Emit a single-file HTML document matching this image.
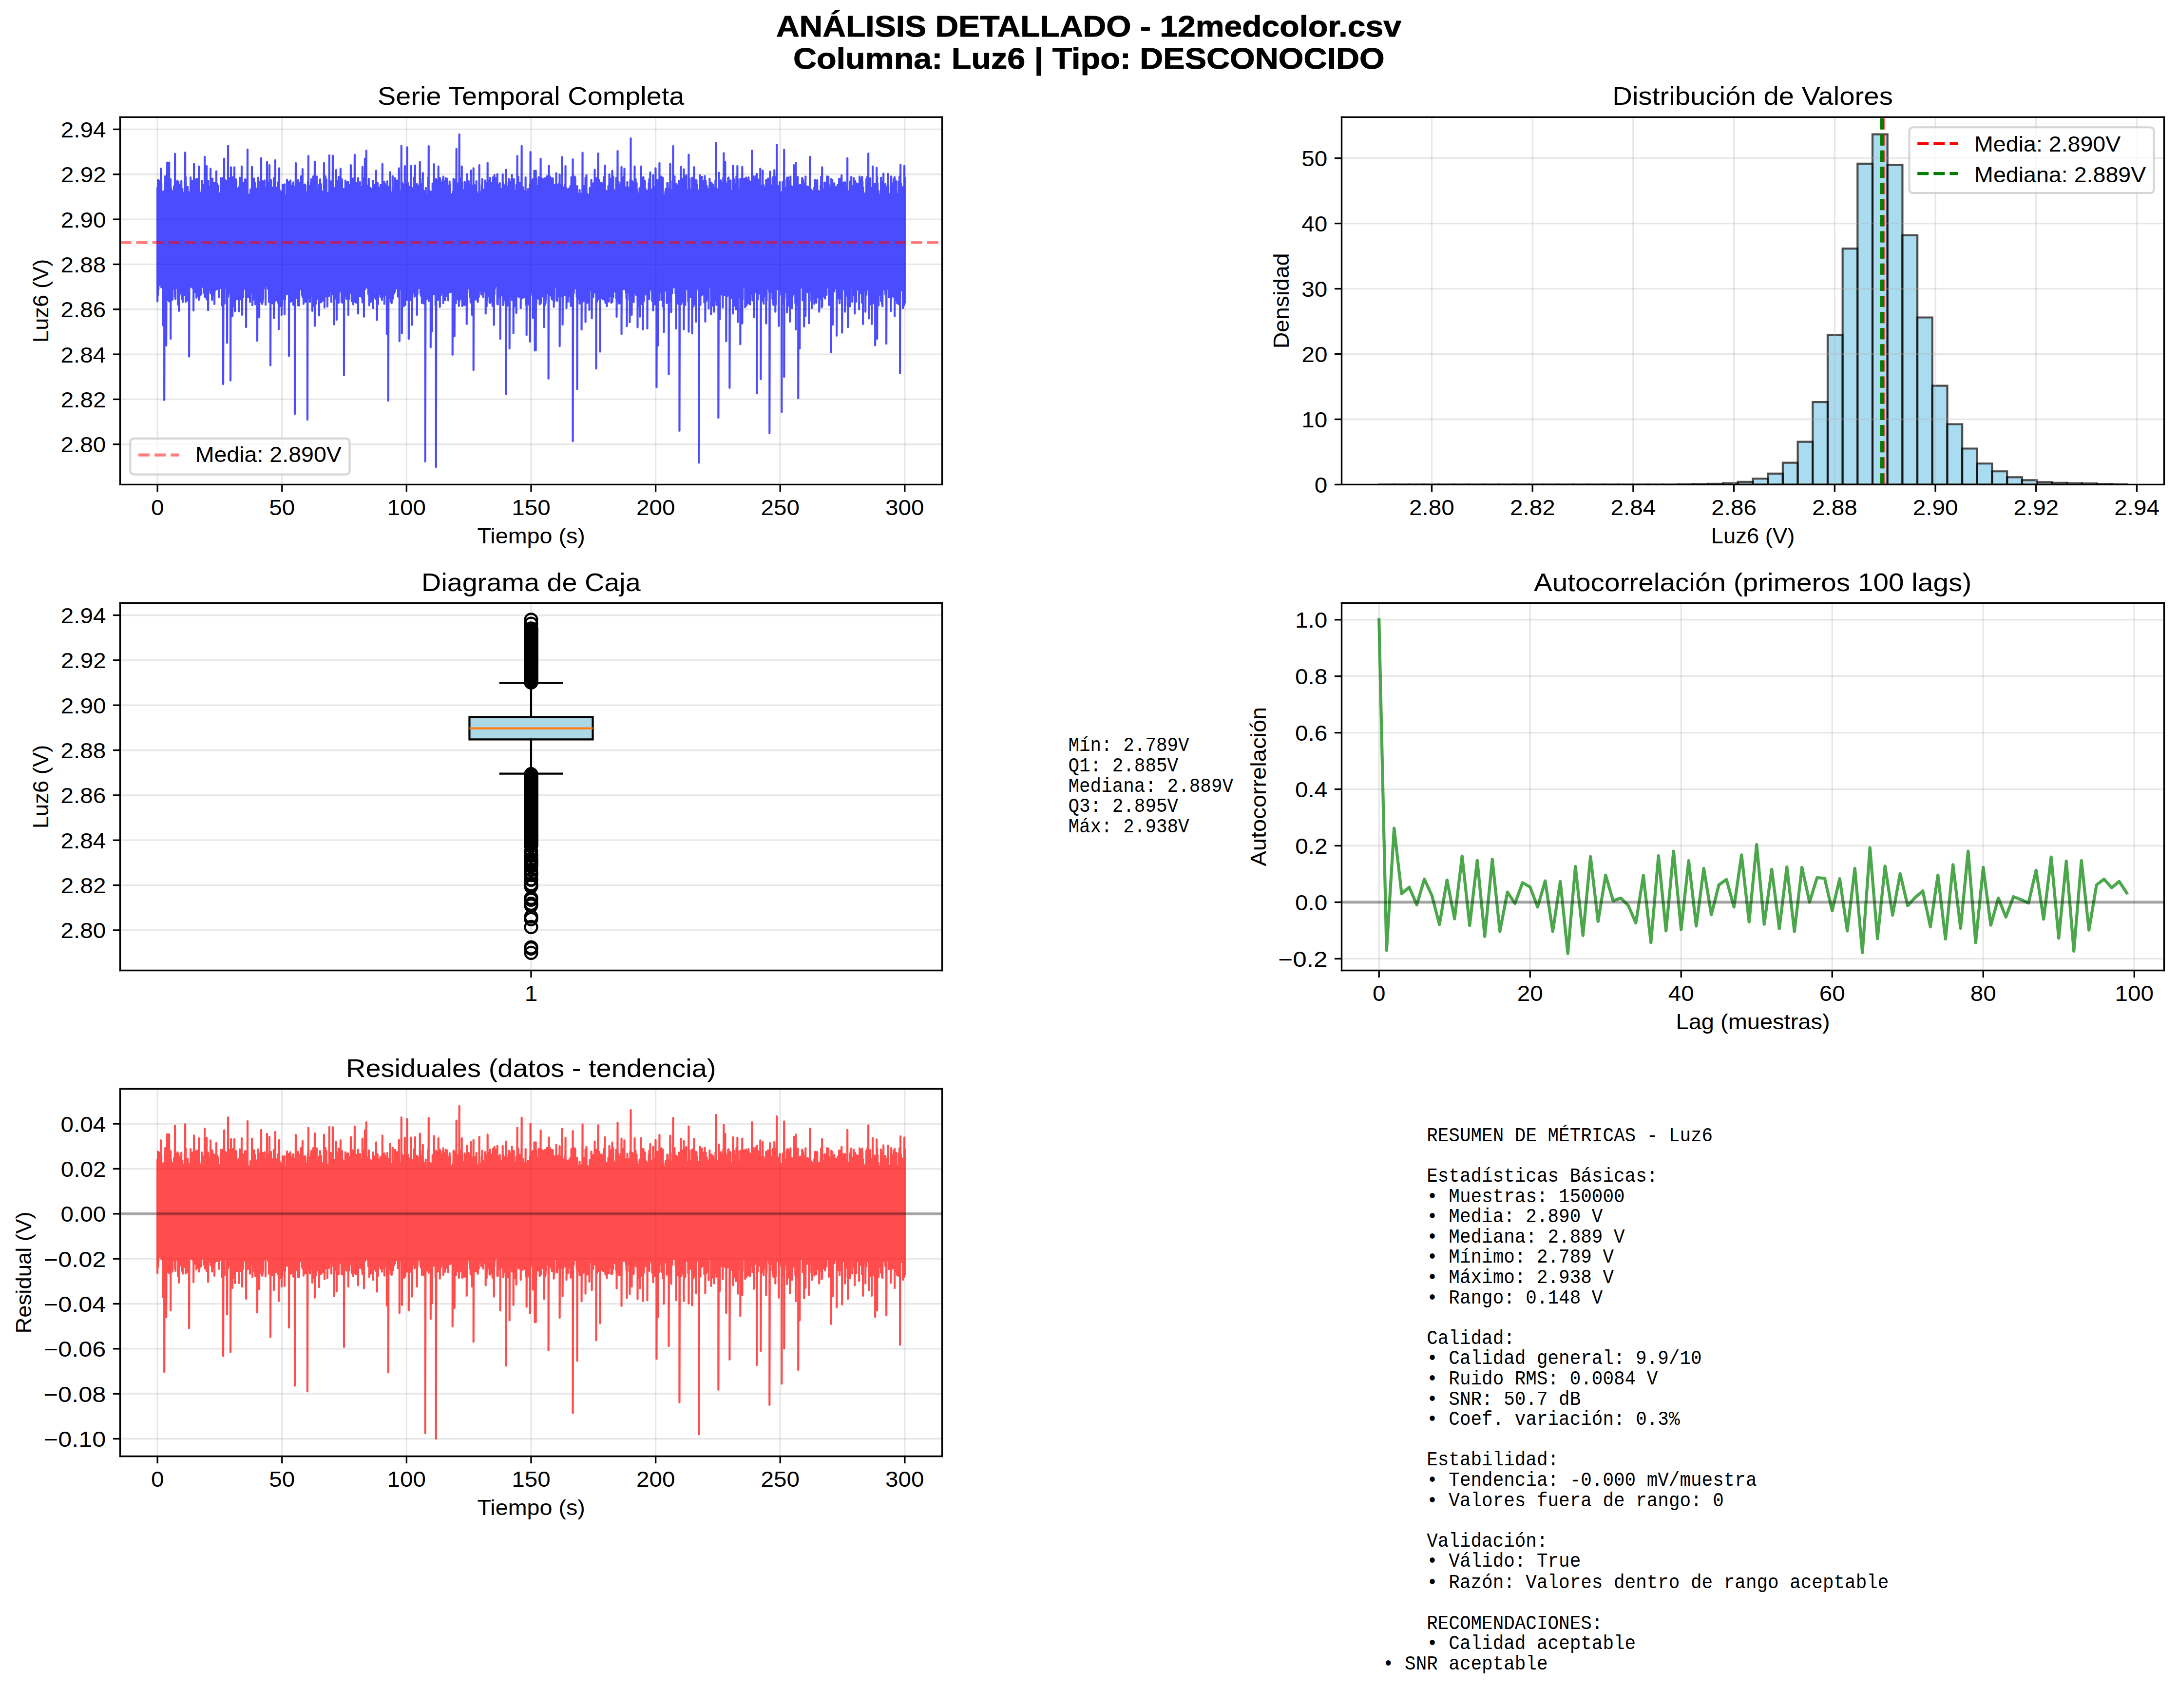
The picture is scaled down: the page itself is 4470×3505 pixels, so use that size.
<!DOCTYPE html>
<html><head><meta charset="utf-8"><title>Análisis detallado - 12medcolor.csv</title><style>html,body{margin:0;padding:0;background:#fff}svg{display:block}text.s{font-family:'Liberation Sans',sans-serif;font-size:43.75px}text.b{font-family:'Liberation Sans',sans-serif;font-weight:700;font-size:61.25px;stroke:#000;stroke-width:0.9px}text.m{font-family:'Liberation Mono',monospace;font-size:40.12px}</style></head><body>
<svg width="4470" height="3505" viewBox="0 0 1072.8 841.2">
<defs>
<style type="text/css">*{stroke-linejoin: round; stroke-linecap: butt}</style>
</defs>
<g id="figure_1">
<g id="patch_1">
<path d="M0 841.2L1072.8 841.2L1072.8 0L0 0z" style="fill: #ffffff"/>
</g>
<g id="axes_1">
<g id="patch_2">
<path d="M59.16 238.66L464.04 238.66L464.04 57.7L59.16 57.7z" style="fill: #ffffff"/>
</g>
<g id="matplotlib.axis_1">
<g id="xtick_1">
<g id="line2d_1">
<path d="M77.56 238.66L77.56 57.7" clip-path="url(#p51600fcce8)" style="fill: none; stroke: #b0b0b0; stroke-opacity: 0.3; stroke-width: 0.8; stroke-linecap: square"/>
</g>
<g id="line2d_2">
<defs>
<path id="m479de51f6e" d="M0 0L0 3.5" style="stroke: #000000; stroke-width: 0.8"/>
</defs>
<g>
<use href="#m479de51f6e" x="77.56" y="238.66" style="stroke: #000000; stroke-width: 0.8"/>
</g>
</g>
</g>
<g id="xtick_2">
<g id="line2d_3">
<path d="M138.91 238.66L138.91 57.7" clip-path="url(#p51600fcce8)" style="fill: none; stroke: #b0b0b0; stroke-opacity: 0.3; stroke-width: 0.8; stroke-linecap: square"/>
</g>
<g id="line2d_4">
<g>
<use href="#m479de51f6e" x="138.91" y="238.66" style="stroke: #000000; stroke-width: 0.8"/>
</g>
</g>
</g>
<g id="xtick_3">
<g id="line2d_5">
<path d="M200.25 238.66L200.25 57.7" clip-path="url(#p51600fcce8)" style="fill: none; stroke: #b0b0b0; stroke-opacity: 0.3; stroke-width: 0.8; stroke-linecap: square"/>
</g>
<g id="line2d_6">
<g>
<use href="#m479de51f6e" x="200.25" y="238.66" style="stroke: #000000; stroke-width: 0.8"/>
</g>
</g>
</g>
<g id="xtick_4">
<g id="line2d_7">
<path d="M261.6 238.66L261.6 57.7" clip-path="url(#p51600fcce8)" style="fill: none; stroke: #b0b0b0; stroke-opacity: 0.3; stroke-width: 0.8; stroke-linecap: square"/>
</g>
<g id="line2d_8">
<g>
<use href="#m479de51f6e" x="261.6" y="238.66" style="stroke: #000000; stroke-width: 0.8"/>
</g>
</g>
</g>
<g id="xtick_5">
<g id="line2d_9">
<path d="M322.95 238.66L322.95 57.7" clip-path="url(#p51600fcce8)" style="fill: none; stroke: #b0b0b0; stroke-opacity: 0.3; stroke-width: 0.8; stroke-linecap: square"/>
</g>
<g id="line2d_10">
<g>
<use href="#m479de51f6e" x="322.95" y="238.66" style="stroke: #000000; stroke-width: 0.8"/>
</g>
</g>
</g>
<g id="xtick_6">
<g id="line2d_11">
<path d="M384.29 238.66L384.29 57.7" clip-path="url(#p51600fcce8)" style="fill: none; stroke: #b0b0b0; stroke-opacity: 0.3; stroke-width: 0.8; stroke-linecap: square"/>
</g>
<g id="line2d_12">
<g>
<use href="#m479de51f6e" x="384.29" y="238.66" style="stroke: #000000; stroke-width: 0.8"/>
</g>
</g>
</g>
<g id="xtick_7">
<g id="line2d_13">
<path d="M445.64 238.66L445.64 57.7" clip-path="url(#p51600fcce8)" style="fill: none; stroke: #b0b0b0; stroke-opacity: 0.3; stroke-width: 0.8; stroke-linecap: square"/>
</g>
<g id="line2d_14">
<g>
<use href="#m479de51f6e" x="445.64" y="238.66" style="stroke: #000000; stroke-width: 0.8"/>
</g>
</g>
</g>
</g>
<g id="matplotlib.axis_2">
<g id="ytick_1">
<g id="line2d_15">
<path d="M59.16 218.82L464.04 218.82" clip-path="url(#p51600fcce8)" style="fill: none; stroke: #b0b0b0; stroke-opacity: 0.3; stroke-width: 0.8; stroke-linecap: square"/>
</g>
<g id="line2d_16">
<defs>
<path id="m1e12759360" d="M0 0L-3.5 0" style="stroke: #000000; stroke-width: 0.8"/>
</defs>
<g>
<use href="#m1e12759360" x="59.16" y="218.82" style="stroke: #000000; stroke-width: 0.8"/>
</g>
</g>
</g>
<g id="ytick_2">
<g id="line2d_17">
<path d="M59.16 196.66L464.04 196.66" clip-path="url(#p51600fcce8)" style="fill: none; stroke: #b0b0b0; stroke-opacity: 0.3; stroke-width: 0.8; stroke-linecap: square"/>
</g>
<g id="line2d_18">
<g>
<use href="#m1e12759360" x="59.16" y="196.66" style="stroke: #000000; stroke-width: 0.8"/>
</g>
</g>
</g>
<g id="ytick_3">
<g id="line2d_19">
<path d="M59.16 174.5L464.04 174.5" clip-path="url(#p51600fcce8)" style="fill: none; stroke: #b0b0b0; stroke-opacity: 0.3; stroke-width: 0.8; stroke-linecap: square"/>
</g>
<g id="line2d_20">
<g>
<use href="#m1e12759360" x="59.16" y="174.5" style="stroke: #000000; stroke-width: 0.8"/>
</g>
</g>
</g>
<g id="ytick_4">
<g id="line2d_21">
<path d="M59.16 152.34L464.04 152.34" clip-path="url(#p51600fcce8)" style="fill: none; stroke: #b0b0b0; stroke-opacity: 0.3; stroke-width: 0.8; stroke-linecap: square"/>
</g>
<g id="line2d_22">
<g>
<use href="#m1e12759360" x="59.16" y="152.34" style="stroke: #000000; stroke-width: 0.8"/>
</g>
</g>
</g>
<g id="ytick_5">
<g id="line2d_23">
<path d="M59.16 130.18L464.04 130.18" clip-path="url(#p51600fcce8)" style="fill: none; stroke: #b0b0b0; stroke-opacity: 0.3; stroke-width: 0.8; stroke-linecap: square"/>
</g>
<g id="line2d_24">
<g>
<use href="#m1e12759360" x="59.16" y="130.18" style="stroke: #000000; stroke-width: 0.8"/>
</g>
</g>
</g>
<g id="ytick_6">
<g id="line2d_25">
<path d="M59.16 108.02L464.04 108.02" clip-path="url(#p51600fcce8)" style="fill: none; stroke: #b0b0b0; stroke-opacity: 0.3; stroke-width: 0.8; stroke-linecap: square"/>
</g>
<g id="line2d_26">
<g>
<use href="#m1e12759360" x="59.16" y="108.02" style="stroke: #000000; stroke-width: 0.8"/>
</g>
</g>
</g>
<g id="ytick_7">
<g id="line2d_27">
<path d="M59.16 85.86L464.04 85.86" clip-path="url(#p51600fcce8)" style="fill: none; stroke: #b0b0b0; stroke-opacity: 0.3; stroke-width: 0.8; stroke-linecap: square"/>
</g>
<g id="line2d_28">
<g>
<use href="#m1e12759360" x="59.16" y="85.86" style="stroke: #000000; stroke-width: 0.8"/>
</g>
</g>
</g>
<g id="ytick_8">
<g id="line2d_29">
<path d="M59.16 63.7L464.04 63.7" clip-path="url(#p51600fcce8)" style="fill: none; stroke: #b0b0b0; stroke-opacity: 0.3; stroke-width: 0.8; stroke-linecap: square"/>
</g>
<g id="line2d_30">
<g>
<use href="#m1e12759360" x="59.16" y="63.7" style="stroke: #000000; stroke-width: 0.8"/>
</g>
</g>
</g>
</g>
<g id="series1">
<path d="M77.56 92.69L77.56 148.4L77.8 88.65L77.8 145.27L78.04 90.63L78.04 142.73L78.28 96L78.28 139.98L78.52 95.62L78.52 140.4L78.76 89.06L78.76 139.96L79 96.5L79 140.22L79.24 83.07L79.24 140.25L79.48 90.3L79.48 141.53L79.72 94.36L79.72 140.85L79.96 95.6L79.96 141.12L80.2 95.74L80.2 160.18L80.44 95.86L80.44 139.93L80.68 94.57L80.68 140.01L80.92 94.01L80.92 197.04L81.16 93.51L81.16 142.72L81.4 86.83L81.4 141.74L81.64 90.37L81.64 140.54L81.88 92.72L81.88 170.15L82.12 86.96L82.12 140.33L82.36 80.06L82.36 147.85L82.6 96.25L82.6 147.17L82.84 92.84L82.84 140.85L83.08 96.48L83.08 139.93L83.32 80.06L83.32 148.46L83.56 93.91L83.56 140.71L83.8 94.38L83.8 144.33L84.04 88.29L84.04 166.83L84.28 92.64L84.28 146.68L84.52 93.92L84.52 147.93L84.76 94.09L84.76 142.23L85 95.9L85 147.53L85.24 96.5L85.24 141.95L85.48 96.14L85.48 140.52L85.72 91.83L85.72 142.15L85.96 96.1L85.96 140.93L86.2 75.76L86.2 146.12L86.44 96.5L86.44 147.32L86.68 89.78L86.68 140.08L86.92 96.26L86.92 140.14L87.16 95.8L87.16 141.28L87.4 88.94L87.4 141.97L87.64 93.96L87.64 149.98L87.88 89.5L87.88 149.64L88.12 92.51L88.12 153.11L88.36 91.13L88.36 145.47L88.6 96.42L88.6 144.63L88.84 93.64L88.84 140.56L89.08 93.98L89.08 141.19L89.32 89.09L89.32 139.93L89.56 95.22L89.56 147.34L89.8 93.01L89.8 140.58L90.03 96.46L90.03 148.7L90.27 95.03L90.27 140.81L90.51 95.48L90.51 140.85L90.75 96.28L90.75 145.38L90.99 90L90.99 139.93L91.23 75.12L91.23 140.37L91.47 87.16L91.47 148.64L91.71 93.1L91.71 147.78L91.95 92.93L91.95 143.93L92.19 92.53L92.19 143.01L92.43 92.04L92.43 140.34L92.67 96.28L92.67 148.19L92.91 94.61L92.91 146L93.15 95.94L93.15 175.59L93.39 94.92L93.39 140.13L93.63 96.41L93.63 140.31L93.87 87.36L93.87 141.24L94.11 96.05L94.11 140.91L94.35 92.1L94.35 139.96L94.59 95.62L94.59 141.46L94.83 89.05L94.83 141.83L95.07 92.22L95.07 140.64L95.31 96.33L95.31 152.93L95.55 80.7L95.55 140.91L95.79 87.79L95.79 141.23L96.03 88.53L96.03 143.79L96.27 93.33L96.27 142.31L96.51 96.29L96.51 140.24L96.75 96.14L96.75 146.63L96.99 88.1L96.99 142.49L97.23 93.52L97.23 141.92L97.47 96.18L97.47 145.2L97.71 88.88L97.71 145.85L97.95 81.99L97.95 147.66L98.19 93.33L98.19 146.93L98.43 95.12L98.43 144.51L98.67 94.85L98.67 145.33L98.91 95.94L98.91 140.12L99.15 96.48L99.15 144.98L99.39 89.01L99.39 140.48L99.63 94.36L99.63 140.49L99.87 93.57L99.87 140.04L100.11 95.48L100.11 141.38L100.35 90.99L100.35 139.93L100.59 96.49L100.59 144.33L100.83 77.26L100.83 145.78L101.07 96.49L101.07 146.27L101.31 96.35L101.31 140.05L101.55 87.38L101.55 144.1L101.79 81.78L101.79 147.45L102.03 94.71L102.03 139.94L102.27 93.82L102.27 140.23L102.51 89.07L102.51 152.75L102.75 95.34L102.75 141.96L102.99 93.1L102.99 140.16L103.23 91.94L103.23 142.77L103.47 95.27L103.47 140.99L103.71 83.07L103.71 144.3L103.95 90.79L103.95 142.69L104.19 88.44L104.19 144.77L104.43 96.27L104.43 147.67L104.66 88L104.66 145.1L104.9 96.5L104.9 145.55L105.14 90.97L105.14 145.34L105.38 90.09L105.38 139.96L105.62 96.31L105.62 149.74L105.86 94.79L105.86 143.23L106.1 90.02L106.1 140.57L106.34 96.49L106.34 141.7L106.58 84.36L106.58 142.53L106.82 90.36L106.82 142.54L107.06 93.93L107.06 140.45L107.3 91.36L107.3 140.53L107.54 96L107.54 141.13L107.78 96.11L107.78 146.36L108.02 95.21L108.02 141.73L108.26 96.18L108.26 139.94L108.5 95.33L108.5 141.87L108.74 87.73L108.74 140.26L108.98 93.29L108.98 139.93L109.22 95.37L109.22 150.46L109.46 95.78L109.46 140.68L109.7 87.66L109.7 142.76L109.94 94.57L109.94 189.19L110.18 87.12L110.18 139.95L110.42 78.12L110.42 148.74L110.66 93.85L110.66 149.5L110.9 88.66L110.9 140.21L111.14 91.12L111.14 141.56L111.38 93.21L111.38 141.2L111.62 94.72L111.62 140.15L111.86 88.98L111.86 168.82L112.1 94.84L112.1 146.38L112.34 71.76L112.34 145.98L112.58 96.45L112.58 144.6L112.82 94.69L112.82 139.93L113.06 93.87L113.06 140.37L113.3 87.68L113.3 142.5L113.54 95.88L113.54 187.37L113.78 82.42L113.78 141.3L114.02 92.03L114.02 141.84L114.26 91.48L114.26 147.5L114.5 92.63L114.5 155.77L114.74 87.29L114.74 140.55L114.98 95.42L114.98 140.66L115.22 94.95L115.22 150.84L115.46 82.42L115.46 140.36L115.7 96.47L115.7 153.35L115.94 96.05L115.94 141.54L116.18 88.33L116.18 144.22L116.42 89.61L116.42 140.11L116.66 96.37L116.66 147.48L116.9 92.94L116.9 140.24L117.14 94.26L117.14 145.06L117.38 93.05L117.38 140.13L117.62 92.26L117.62 153.35L117.86 95.58L117.86 140.26L118.1 87.49L118.1 145.5L118.34 94.38L118.34 147.46L118.58 92.65L118.58 140.48L118.82 92.56L118.82 139.99L119.05 81.99L119.05 143.35L119.29 96.46L119.29 155.05L119.53 94.85L119.53 142.13L119.77 90.81L119.77 146.37L120.01 90.02L120.01 141.97L120.25 91.3L120.25 142.31L120.49 96.37L120.49 142.21L120.73 88.36L120.73 141.89L120.97 90.22L120.97 141.45L121.21 88.99L121.21 161.09L121.45 93.83L121.45 140.69L121.69 88.32L121.69 140.53L121.93 73.61L121.93 140.45L122.17 96.49L122.17 146.4L122.41 96.49L122.41 140.03L122.65 95.87L122.65 140.27L122.89 95.89L122.89 142.63L123.13 96.15L123.13 148.7L123.37 93.36L123.37 140.41L123.61 96.48L123.61 141.2L123.85 93.1L123.85 142.36L124.09 82.21L124.09 144.59L124.33 92.02L124.33 150.35L124.57 96.49L124.57 147.73L124.81 95.56L124.81 147.19L125.05 87.91L125.05 141.86L125.29 93.67L125.29 141.54L125.53 90.07L125.53 140.41L125.77 92.27L125.77 149.87L126.01 92.86L126.01 139.96L126.25 96.14L126.25 140.27L126.49 93.28L126.49 144.4L126.73 96.48L126.73 167.86L126.97 90.23L126.97 140.6L127.21 87.51L127.21 149.53L127.45 89.39L127.45 141.49L127.69 96.47L127.69 156.25L127.93 95.38L127.93 139.99L128.17 95.51L128.17 148.53L128.41 96.37L128.41 140.01L128.65 77.91L128.65 141.36L128.89 90.3L128.89 148.41L129.13 95.54L129.13 149.72L129.37 89.24L129.37 148.81L129.61 90.3L129.61 147.24L129.85 96.33L129.85 140.38L130.09 90.76L130.09 139.94L130.33 88.9L130.33 141.86L130.57 96.12L130.57 139.96L130.81 93.29L130.81 150.07L131.05 92.52L131.05 139.93L131.29 92.88L131.29 140.87L131.53 79.84L131.53 140.26L131.77 92.23L131.77 139.93L132.01 92.6L132.01 142.33L132.25 89.88L132.25 139.97L132.49 90.2L132.49 148.72L132.73 81.35L132.73 144.79L132.97 91.41L132.97 141.18L133.21 89.16L133.21 179.94L133.44 88.72L133.44 146.66L133.68 96.24L133.68 140.88L133.92 96.49L133.92 147.63L134.16 92.37L134.16 149.36L134.4 96.05L134.4 143.8L134.64 93.4L134.64 141.04L134.88 87.79L134.88 156.74L135.12 95.09L135.12 149.67L135.36 95.87L135.36 141.01L135.6 78.9L135.6 139.98L135.84 92.28L135.84 148.04L136.08 96.4L136.08 144.44L136.32 95.08L136.32 140.38L136.56 96.32L136.56 143.11L136.8 92.22L136.8 140.76L137.04 89.77L137.04 149.14L137.28 95.11L137.28 162.18L137.52 82.85L137.52 140.24L137.76 93.66L137.76 139.94L138 96.05L138 140.98L138.24 95.9L138.24 150.76L138.48 95.44L138.48 140.32L138.72 94.46L138.72 155.05L138.96 96.43L138.96 150.34L139.2 90.97L139.2 139.93L139.44 93.23L139.44 140.69L139.68 95.62L139.68 147.11L139.92 96.44L139.92 140L140.16 90.82L140.16 154.74L140.4 96.33L140.4 147.37L140.64 96.32L140.64 140.09L140.88 96.33L140.88 143.43L141.12 96.43L141.12 142.97L141.36 88.49L141.36 144.89L141.6 95.79L141.6 140.76L141.84 95.58L141.84 141.28L142.08 89.73L142.08 140.41L142.32 92.75L142.32 175.29L142.56 96.16L142.56 140.17L142.8 94.65L142.8 148.81L143.04 88.88L143.04 148.45L143.28 95.12L143.28 141.1L143.52 91.57L143.52 148.4L143.76 96.41L143.76 142.24L144 91.34L144 140.61L144.24 90.62L144.24 141.03L144.48 89.85L144.48 150.18L144.72 92.06L144.72 140.97L144.96 95.16L144.96 143.26L145.2 96.46L145.2 203.87L145.44 93.87L145.44 140.7L145.68 80.36L145.68 146.88L145.92 96.14L145.92 140.03L146.16 95.81L146.16 145.53L146.4 93.69L146.4 146.84L146.64 91.04L146.64 147.43L146.88 88.66L146.88 150.41L147.12 96.34L147.12 145.16L147.36 96.17L147.36 150.46L147.6 90.26L147.6 140.6L147.83 92.45L147.83 142.58L148.07 91.43L148.07 140.3L148.31 86.81L148.31 139.98L148.55 87.9L148.55 141.74L148.79 89.57L148.79 145.31L149.03 83.28L149.03 146.32L149.27 94.98L149.27 139.93L149.51 92.49L149.51 149.65L149.75 96.17L149.75 140.44L149.99 90.87L149.99 140.67L150.23 90.9L150.23 147.33L150.47 91.42L150.47 148.6L150.71 94.57L150.71 145.58L150.95 95.1L150.95 140.92L151.19 94.78L151.19 141.97L151.43 96.49L151.43 206.71L151.67 89.55L151.67 141.08L151.91 76.83L151.91 146.81L152.15 95.03L152.15 146.38L152.39 93.57L152.39 142.02L152.63 91.42L152.63 148.65L152.87 95.08L152.87 141.28L153.11 89.77L153.11 145.81L153.35 88.25L153.35 144.08L153.59 95.03L153.59 140.91L153.83 96.31L153.83 153.11L154.07 90.86L154.07 143.61L154.31 86.88L154.31 142.75L154.55 96.28L154.55 140.02L154.79 91.54L154.79 150.8L155.03 79.63L155.03 160.48L155.27 88.23L155.27 139.94L155.51 96.35L155.51 149.7L155.75 96.41L155.75 142.69L155.99 86.98L155.99 140.05L156.23 96.36L156.23 147.1L156.47 96.19L156.47 141.69L156.71 93.27L156.71 145.2L156.95 94.56L156.95 147.23L157.19 91.01L157.19 155.35L157.43 96.14L157.43 139.95L157.67 88.34L157.67 147.14L157.91 96.04L157.91 144.89L158.15 90.73L158.15 148.94L158.39 96.45L158.39 140.55L158.63 94.31L158.63 146.44L158.87 96.49L158.87 148.15L159.11 95.54L159.11 141.07L159.35 95.55L159.35 141.49L159.59 80.27L159.59 140.92L159.83 94.48L159.83 151.42L160.07 96.47L160.07 140.38L160.31 86.84L160.31 140.91L160.55 88.8L160.55 140.02L160.79 88.31L160.79 146.09L161.03 95.9L161.03 141.64L161.27 94.98L161.27 150.94L161.51 95.99L161.51 140.63L161.75 96.34L161.75 141.1L161.99 96.49L161.99 145.87L162.22 76.49L162.22 142.03L162.46 96.35L162.46 143.49L162.7 96.19L162.7 141.6L162.94 89.28L162.94 142.99L163.18 94.21L163.18 148.66L163.42 96.17L163.42 140.54L163.66 92.12L163.66 142.55L163.9 76.62L163.9 144.79L164.14 93.79L164.14 139.98L164.38 95.72L164.38 150.11L164.62 93.9L164.62 159.76L164.86 92.64L164.86 140.44L165.1 93.69L165.1 146L165.34 94.97L165.34 147.01L165.58 83.71L165.58 143.95L165.82 89.06L165.82 157.46L166.06 96.18L166.06 139.99L166.3 96.32L166.3 142.65L166.54 96.37L166.54 145.69L166.78 87.14L166.78 149.08L167.02 87.85L167.02 144.1L167.26 95.98L167.26 143.56L167.5 87.32L167.5 141.31L167.74 83.07L167.74 143.17L167.98 94L167.98 142.96L168.22 94.08L168.22 148.83L168.46 88.33L168.46 147.23L168.7 96.48L168.7 145.6L168.94 95.53L168.94 149.24L169.18 92.99L169.18 139.96L169.42 96.45L169.42 184.77L169.66 95.95L169.66 141.97L169.9 94.39L169.9 145.85L170.14 88.93L170.14 140.69L170.38 90.85L170.38 142.01L170.62 89.8L170.62 147.18L170.86 90.85L170.86 139.94L171.1 91.61L171.1 140.67L171.34 89.46L171.34 142.22L171.58 91.97L171.58 155.05L171.82 91.22L171.82 140.55L172.06 95.61L172.06 147.15L172.3 96.22L172.3 140.43L172.54 90.92L172.54 140.73L172.78 81.35L172.78 142.95L173.02 88.25L173.02 144.28L173.26 93.03L173.26 148.3L173.5 95.44L173.5 148.28L173.74 87.94L173.74 140.46L173.98 96.26L173.98 149.91L174.22 93.92L174.22 144.01L174.46 96.42L174.46 141.3L174.7 76.19L174.7 146.27L174.94 93.27L174.94 148.67L175.18 90.2L175.18 142.13L175.42 95.72L175.42 149.07L175.66 90.23L175.66 140.05L175.9 91.68L175.9 140.15L176.14 92.46L176.14 146.06L176.38 87.69L176.38 154.44L176.61 94.66L176.61 143.34L176.85 94.82L176.85 142.31L177.09 91.83L177.09 140.09L177.33 89.7L177.33 145.89L177.57 95.4L177.57 145.67L177.81 92.12L177.81 140.09L178.05 96.07L178.05 140.5L178.29 93.53L178.29 146.72L178.53 82.21L178.53 148.98L178.77 96.46L178.77 148.09L179.01 91.33L179.01 142.36L179.25 96.49L179.25 155.95L179.49 87.54L179.49 141.8L179.73 78.12L179.73 140.18L179.97 94.87L179.97 142.3L180.21 91.44L180.21 140.37L180.45 74.17L180.45 140.13L180.69 91.29L180.69 141.25L180.93 96.43L180.93 139.96L181.17 93.41L181.17 142.04L181.41 93.46L181.41 144.93L181.65 88.03L181.65 144.25L181.89 96.48L181.89 150.42L182.13 94.5L182.13 148.42L182.37 92.61L182.37 143.99L182.61 93.54L182.61 148.67L182.85 96.44L182.85 141.79L183.09 93.07L183.09 146.69L183.33 96.02L183.33 140.63L183.57 96.12L183.57 142.64L183.81 88.97L183.81 151.72L184.05 96.12L184.05 143.52L184.29 94.48L184.29 142.42L184.53 91.01L184.53 146.48L184.77 91.62L184.77 140.79L185.01 93.51L185.01 147.31L185.25 84.05L185.25 139.93L185.49 94.38L185.49 140.4L185.73 92.74L185.73 157.58L185.97 89.96L185.97 140.49L186.21 92.01L186.21 149.73L186.45 92.48L186.45 139.93L186.69 94.89L186.69 140.71L186.93 93.46L186.93 143.2L187.17 94.97L187.17 145.04L187.41 91.1L187.41 146.23L187.65 95.09L187.65 141.28L187.89 94.37L187.89 140.33L188.13 90.93L188.13 147.73L188.37 80.7L188.37 140.04L188.61 95.38L188.61 139.96L188.85 89.83L188.85 140.38L189.09 95.08L189.09 145.98L189.33 89.54L189.33 149.65L189.57 90.48L189.57 145.46L189.81 94.55L189.81 143.07L190.05 91.54L190.05 142.57L190.29 96.49L190.29 144.88L190.53 95.02L190.53 164.41L190.77 89.28L190.77 140.94L191 93.22L191 139.99L191.24 93.46L191.24 197.34L191.48 92.19L191.48 146.4L191.72 92.02L191.72 144L191.96 93.18L191.96 146.66L192.2 84.78L192.2 139.94L192.44 96.17L192.44 148.74L192.68 95.66L192.68 141.27L192.92 95.66L192.92 149.29L193.16 94.69L193.16 143.46L193.4 86.76L193.4 142.87L193.64 95.29L193.64 147.06L193.88 94.55L193.88 143.88L194.12 95.15L194.12 144.59L194.36 93.2L194.36 140.12L194.6 87.74L194.6 143.59L194.84 88.79L194.84 141.08L195.08 95.11L195.08 139.97L195.32 95.8L195.32 140.06L195.56 88.87L195.56 142.13L195.8 94.12L195.8 140.52L196.04 91.91L196.04 146.08L196.28 96.44L196.28 140.04L196.52 82.85L196.52 139.93L196.76 95.54L196.76 168.04L197 94.11L197 140.79L197.24 96.11L197.24 142.45L197.48 94.77L197.48 140.29L197.72 71.76L197.72 140.28L197.96 89.82L197.96 164.11L198.2 94.31L198.2 146.52L198.44 90.75L198.44 139.94L198.68 94.45L198.68 147.43L198.92 95.14L198.92 150.78L199.16 93.59L199.16 143.02L199.4 81.78L199.4 141.1L199.64 95.52L199.64 150.09L199.88 91.63L199.88 140.2L200.12 90.71L200.12 140.86L200.36 96.47L200.36 147.71L200.6 72.54L200.6 139.93L200.84 89.98L200.84 146.45L201.08 94.56L201.08 144.48L201.32 96.46L201.32 166.83L201.56 91.95L201.56 139.96L201.8 95.91L201.8 145.56L202.04 92.46L202.04 144.57L202.28 95.11L202.28 140.8L202.52 81.65L202.52 147.91L202.76 95.85L202.76 140.29L203 94.28L203 160L203.24 93.81L203.24 140.03L203.48 92.61L203.48 144.16L203.72 96.09L203.72 139.98L203.96 87.47L203.96 140.18L204.2 95.68L204.2 146.1L204.44 81.48L204.44 142.35L204.68 95.86L204.68 144.4L204.92 96.45L204.92 145.54L205.16 94.75L205.16 143.62L205.39 90.69L205.39 155.05L205.63 91.59L205.63 144.96L205.87 96.12L205.87 140.03L206.11 96.31L206.11 140.55L206.35 95.49L206.35 141.83L206.59 90.74L206.59 140.03L206.83 79.76L206.83 140.01L207.07 88.19L207.07 144.26L207.31 92.3L207.31 145.68L207.55 92.74L207.55 141.18L207.79 90.75L207.79 149.3L208.03 91.01L208.03 140.28L208.27 85.21L208.27 142.58L208.51 95.85L208.51 143.28L208.75 94.63L208.75 149.46L208.99 94.16L208.99 139.94L209.23 96.3L209.23 148.91L209.47 94.6L209.47 227.25L209.71 92.51L209.71 141.01L209.95 96.32L209.95 145.41L210.19 96.31L210.19 147.19L210.43 96.2L210.43 144.24L210.67 95.71L210.67 140.65L210.91 87.48L210.91 143.84L211.15 72.02L211.15 148.23L211.39 96.17L211.39 140.01L211.63 96.23L211.63 142.14L211.87 94.3L211.87 139.93L212.11 96.49L212.11 171.06L212.35 94.45L212.35 146.32L212.59 96.24L212.59 139.94L212.83 95.79L212.83 163.2L213.07 90.37L213.07 144.85L213.31 96.17L213.31 140.05L213.55 92.78L213.55 142.62L213.79 80.92L213.79 144.82L214.03 94.8L214.03 140.93L214.27 89.99L214.27 142.38L214.51 96.24L214.51 150.43L214.75 88.18L214.75 229.97L214.99 88.71L214.99 142.36L215.23 92.14L215.23 139.96L215.47 96.47L215.47 140.04L215.71 92.21L215.71 147.7L215.95 81.99L215.95 145.69L216.19 90.68L216.19 147.39L216.43 96.05L216.43 143.25L216.67 87.63L216.67 151.12L216.91 88.84L216.91 142.68L217.15 96.37L217.15 145.56L217.39 95.53L217.39 140.9L217.63 96.49L217.63 142.31L217.87 89.76L217.87 142.03L218.11 88.33L218.11 144.4L218.35 86.94L218.35 149.3L218.59 92.85L218.59 139.94L218.83 89.3L218.83 139.99L219.07 92.01L219.07 140.18L219.31 93.33L219.31 147.83L219.55 87.65L219.55 145.26L219.78 92.89L219.78 145.82L220.02 95.4L220.02 141.79L220.26 88.01L220.26 140.01L220.5 96.49L220.5 144.77L220.74 91.38L220.74 147.94L220.98 91.8L220.98 142.44L221.22 94.77L221.22 143.97L221.46 89.43L221.46 141.21L221.7 90.93L221.7 140.1L221.94 95.39L221.94 143.89L222.18 96.44L222.18 142.19L222.42 96.33L222.42 141L222.66 96.17L222.66 140.5L222.9 95.6L222.9 174.68L223.14 94.54L223.14 140.82L223.38 88.1L223.38 143.22L223.62 95.74L223.62 140.5L223.86 88.62L223.86 165.62L224.1 91.98L224.1 141.21L224.34 89.39L224.34 142.12L224.58 94.91L224.58 149.32L224.82 73.31L224.82 145.28L225.06 90.46L225.06 145.58L225.3 95.91L225.3 140.96L225.54 96.3L225.54 147.49L225.78 90.26L225.78 141.29L226.02 91.9L226.02 150.73L226.26 66.18L226.26 148.63L226.5 95.8L226.5 144.36L226.74 87.9L226.74 147.31L226.98 95.79L226.98 142.84L227.22 91.69L227.22 145.53L227.46 81.99L227.46 140.05L227.7 90.02L227.7 150.74L227.94 96.36L227.94 146.72L228.18 93.9L228.18 140.08L228.42 96.48L228.42 140.42L228.66 93.55L228.66 150.21L228.9 89.51L228.9 146.04L229.14 96.43L229.14 140.1L229.38 95.76L229.38 150.08L229.62 90.8L229.62 141L229.86 92.89L229.86 159.58L230.1 85.77L230.1 145.86L230.34 92.64L230.34 142.19L230.58 94.48L230.58 141.12L230.82 89.25L230.82 140L231.06 95.66L231.06 139.98L231.3 90.9L231.3 143.93L231.54 92.56L231.54 146.23L231.78 91.15L231.78 148.88L232.02 83.93L232.02 141.14L232.26 91.37L232.26 149.55L232.5 91.74L232.5 155.05L232.74 95.03L232.74 149.6L232.98 96.49L232.98 149.13L233.22 82.85L233.22 182.24L233.46 91.53L233.46 147.9L233.7 96.09L233.7 145.05L233.94 91.29L233.94 145.03L234.18 95.74L234.18 147.49L234.41 94.35L234.41 142.75L234.65 89.29L234.65 142.42L234.89 94.54L234.89 146.89L235.13 95.69L235.13 147.99L235.37 95.59L235.37 148.74L235.61 96.44L235.61 140.13L235.85 96.03L235.85 146.21L236.09 81.35L236.09 140.58L236.33 96.21L236.33 140.2L236.57 96.46L236.57 140.24L236.81 94.38L236.81 143.19L237.05 96.05L237.05 145.07L237.29 91.18L237.29 140.42L237.53 88.2L237.53 140L237.77 95.77L237.77 140.86L238.01 93.3L238.01 146.24L238.25 93.99L238.25 139.93L238.49 96.44L238.49 142.16L238.73 96.34L238.73 143.57L238.97 88.86L238.97 139.95L239.21 94.3L239.21 154.44L239.45 90.18L239.45 148.86L239.69 96.45L239.69 150.87L239.93 93.05L239.93 147.69L240.17 80.19L240.17 140.16L240.41 89.17L240.41 146.06L240.65 96.5L240.65 141.85L240.89 93.84L240.89 140.16L241.13 95.17L241.13 149L241.37 87.58L241.37 149.22L241.61 96.44L241.61 148.24L241.85 95.81L241.85 141.34L242.09 90.06L242.09 139.96L242.33 94.35L242.33 148.73L242.57 94.49L242.57 150.68L242.81 87.35L242.81 142.47L243.05 95.5L243.05 140.35L243.29 96.48L243.29 160L243.53 86.2L243.53 144.93L243.77 96.27L243.77 142.16L244.01 96.43L244.01 141.05L244.25 93.35L244.25 140.45L244.49 87.63L244.49 140.7L244.73 93.22L244.73 139.95L244.97 85.77L244.97 149.73L245.21 95.48L245.21 149.9L245.45 93.32L245.45 139.93L245.69 90.98L245.69 145.43L245.93 93.11L245.93 146.51L246.17 90.21L246.17 141.45L246.41 93.54L246.41 166.83L246.65 96.11L246.65 140.33L246.89 93.19L246.89 144.49L247.13 94.15L247.13 145.11L247.37 96.23L247.37 145.55L247.61 85.86L247.61 142.26L247.85 89.99L247.85 150.3L248.09 96.32L248.09 148.01L248.33 93.6L248.33 143.18L248.57 91.25L248.57 144.71L248.8 94.91L248.8 140.58L249.04 95.79L249.04 149.68L249.28 83.62L249.28 194.02L249.52 93.64L249.52 148.61L249.76 91.9L249.76 140.65L250 93.45L250 150.59L250.24 96.39L250.24 140.01L250.48 89.97L250.48 142.68L250.72 88.17L250.72 140.02L250.96 96.4L250.96 171.66L251.2 95.89L251.2 146.06L251.44 96.2L251.44 139.96L251.68 89.47L251.68 141.27L251.92 88.42L251.92 140.22L252.16 86.2L252.16 147.69L252.4 95.42L252.4 139.98L252.64 96.14L252.64 140.94L252.88 94.35L252.88 164.11L253.12 88.22L253.12 144.78L253.36 96.45L253.36 145.04L253.6 96.21L253.6 150.8L253.84 94.18L253.84 139.93L254.08 93.82L254.08 144.45L254.32 91.08L254.32 154.14L254.56 94.63L254.56 145.78L254.8 76.83L254.8 145.21L255.04 95.28L255.04 139.97L255.28 87.09L255.28 139.98L255.52 91L255.52 146.22L255.76 96.36L255.76 143.69L256 90.13L256 140.52L256.24 95.55L256.24 139.93L256.48 90.54L256.48 151.72L256.72 96.5L256.72 139.99L256.96 71.89L256.96 145.79L257.2 96.24L257.2 140.97L257.44 94.47L257.44 146.85L257.68 92.23L257.68 139.99L257.92 93.98L257.92 142.28L258.16 96.23L258.16 140L258.4 96.31L258.4 146.35L258.64 95.71L258.64 143.03L258.88 87.36L258.88 140.39L259.12 96.04L259.12 150.13L259.36 96.33L259.36 165.02L259.6 94.39L259.6 140.94L259.84 95.26L259.84 147.79L260.08 93.14L260.08 141.25L260.32 95.73L260.32 149.66L260.56 96.49L260.56 140.7L260.8 95.43L260.8 150.63L261.04 90.94L261.04 168.22L261.28 74.9L261.28 145.55L261.52 94.9L261.52 140.67L261.76 90.94L261.76 141.61L262 94.88L262 144.03L262.24 88.82L262.24 139.94L262.48 88.28L262.48 156.56L262.72 95.56L262.72 140.01L262.96 91.22L262.96 145.64L263.19 84.05L263.19 140.33L263.43 96.31L263.43 172.57L263.67 94.63L263.67 140.89L263.91 84.05L263.91 172.57L264.15 87.96L264.15 149.49L264.39 96.29L264.39 142.42L264.63 91.55L264.63 144.23L264.87 94.29L264.87 145.06L265.11 96.33L265.11 147.11L265.35 87.27L265.35 140.52L265.59 91.78L265.59 139.97L265.83 96.34L265.83 149.91L266.07 88.5L266.07 140.16L266.31 78.21L266.31 139.93L266.55 96.41L266.55 149.15L266.79 95.43L266.79 143.89L267.03 87.92L267.03 141.53L267.27 96.49L267.27 140.07L267.51 88.28L267.51 146.01L267.75 92.85L267.75 142.71L267.99 96.45L267.99 161.09L268.23 93.34L268.23 150.58L268.47 87.79L268.47 149.85L268.71 93.4L268.71 149.31L268.95 91.2L268.95 147.22L269.19 92.01L269.19 142.69L269.43 86.8L269.43 140.72L269.67 96.26L269.67 144.25L269.91 90.05L269.91 140.11L270.15 94.85L270.15 186.47L270.39 81.65L270.39 139.96L270.63 88.74L270.63 139.93L270.87 86.9L270.87 145.24L271.11 95.81L271.11 140.98L271.35 94.5L271.35 144.94L271.59 87.83L271.59 146.35L271.83 87.78L271.83 147.39L272.07 95.14L272.07 143.75L272.31 87.88L272.31 147.62L272.55 94.89L272.55 144.36L272.79 95.13L272.79 151.12L273.03 90.91L273.03 148.65L273.27 94.33L273.27 139.94L273.51 94.54L273.51 140.54L273.75 95.04L273.75 141.32L273.99 85.34L273.99 140.47L274.23 96.31L274.23 147.79L274.47 96.46L274.47 148.16L274.71 90.95L274.71 139.94L274.95 93.39L274.95 140.19L275.19 92.1L275.19 145.99L275.43 90.22L275.43 140.34L275.67 85.95L275.67 170.45L275.91 95.96L275.91 150.23L276.15 95.74L276.15 146.04L276.39 95.6L276.39 141.83L276.63 90.85L276.63 140.07L276.87 77.35L276.87 140.55L277.11 95.48L277.11 159.88L277.35 92.55L277.35 146.55L277.58 96.16L277.58 139.96L277.82 96.39L277.82 145.1L278.06 91.76L278.06 141.22L278.3 90.92L278.3 145.31L278.54 81.78L278.54 140.69L278.78 92.55L278.78 140.06L279.02 96.49L279.02 151.72L279.26 94.9L279.26 140.69L279.5 93.24L279.5 147.89L279.74 95.87L279.74 148.53L279.98 95.31L279.98 144.72L280.22 92.87L280.22 145.78L280.46 93.1L280.46 140.23L280.7 96.27L280.7 141.06L280.94 91.63L280.94 148.7L281.18 96.43L281.18 150.68L281.42 87.33L281.42 141.78L281.66 96.1L281.66 146.27L281.9 95.87L281.9 149.45L282.14 78.47L282.14 217.28L282.38 86.91L282.38 140.69L282.62 95.7L282.62 144.29L282.86 92.92L282.86 141.33L283.1 86.93L283.1 141.99L283.34 87.7L283.34 141.96L283.58 96.48L283.58 140.6L283.82 93.85L283.82 139.93L284.06 92.97L284.06 146.11L284.3 91.69L284.3 191.6L284.54 95.4L284.54 147.49L284.78 95.45L284.78 140.11L285.02 96.5L285.02 140.4L285.26 96.48L285.26 143.48L285.5 93.55L285.5 149.53L285.74 96.44L285.74 142.05L285.98 96.1L285.98 140.26L286.22 95.41L286.22 143.46L286.46 96.45L286.46 162.3L286.7 96.49L286.7 148.05L286.94 75.2L286.94 148.7L287.18 94.65L287.18 141.49L287.42 96.09L287.42 140.52L287.66 91.6L287.66 148.1L287.9 96.5L287.9 146.49L288.14 95.91L288.14 147.71L288.38 87.5L288.38 158.55L288.62 88.64L288.62 140.64L288.86 86.29L288.86 140.41L289.1 96.41L289.1 148.1L289.34 95.51L289.34 149.14L289.58 96.49L289.58 141.15L289.82 96.03L289.82 148.18L290.06 96.49L290.06 141.26L290.3 96.34L290.3 152.63L290.54 92.59L290.54 143.11L290.78 96.4L290.78 140.33L291.02 96.26L291.02 140.54L291.26 88.55L291.26 140.54L291.5 95.4L291.5 156.74L291.74 95.42L291.74 142.51L291.97 96.42L291.97 140L292.21 90.32L292.21 146.35L292.45 92.04L292.45 140.17L292.69 93.58L292.69 141.79L292.93 83.62L292.93 144.11L293.17 96.4L293.17 140.07L293.41 95.84L293.41 141.48L293.65 93.18L293.65 181.51L293.89 87.66L293.89 142.91L294.13 89.99L294.13 148.56L294.37 92.49L294.37 146.44L294.61 75.63L294.61 140.04L294.85 96.49L294.85 147.35L295.09 88.76L295.09 142.9L295.33 96.45L295.33 144.65L295.57 96.33L295.57 173.17L295.81 91.81L295.81 142.06L296.05 90.07L296.05 144.99L296.29 90.46L296.29 146.67L296.53 94.5L296.53 146.82L296.77 96.19L296.77 140.32L297.01 96.48L297.01 147.34L297.25 89.43L297.25 143.13L297.49 87.18L297.49 144.5L297.73 95.92L297.73 147.71L297.97 81.48L297.97 141.45L298.21 94.92L298.21 149.15L298.45 95.55L298.45 148.32L298.69 94.01L298.69 146.86L298.93 96.5L298.93 150.82L299.17 94.59L299.17 142.65L299.41 96.11L299.41 140.17L299.65 91.55L299.65 145.98L299.89 94.03L299.89 148.53L300.13 85.86L300.13 140.13L300.37 88.66L300.37 145.73L300.61 95.52L300.61 144.9L300.85 95.73L300.85 139.94L301.09 87.9L301.09 149.09L301.33 94.02L301.33 142.13L301.57 84.14L301.57 148.7L301.81 96.48L301.81 139.94L302.05 86.93L302.05 146.38L302.29 93.23L302.29 140.95L302.53 96.47L302.53 142.49L302.77 93.95L302.77 140.23L303.01 94.02L303.01 143.63L303.25 94.65L303.25 141.39L303.49 87.67L303.49 146.84L303.73 87.72L303.73 155.95L303.97 96.34L303.97 145.34L304.21 74.34L304.21 140.46L304.45 94.88L304.45 139.96L304.69 89.71L304.69 148.29L304.93 92.7L304.93 149.5L305.17 91.3L305.17 144.13L305.41 93.26L305.41 149.19L305.65 96.07L305.65 145.09L305.89 89.98L305.89 143.61L306.13 82.21L306.13 164.59L306.36 91.74L306.36 141.07L306.6 96.13L306.6 142.23L306.84 94.33L306.84 140.34L307.08 87.23L307.08 141.64L307.32 93.66L307.32 142.43L307.56 83.07L307.56 139.94L307.8 94.7L307.8 141.36L308.04 92.25L308.04 140.63L308.28 96.47L308.28 144L308.52 95.87L308.52 146.94L308.76 96.49L308.76 160.6L309 89.64L309 144.43L309.24 95.08L309.24 143.72L309.48 94.02L309.48 140.49L309.72 95.64L309.72 141.22L309.96 92.29L309.96 147.57L310.2 96.2L310.2 158.67L310.44 88.48L310.44 140.19L310.68 68.15L310.68 139.93L310.92 94.13L310.92 150.09L311.16 94.39L311.16 155.05L311.4 89.29L311.4 143.63L311.64 95.68L311.64 147.03L311.88 90.21L311.88 143.46L312.12 95.69L312.12 148.82L312.36 91.44L312.36 140.43L312.6 81.99L312.6 141.79L312.84 92.96L312.84 144.53L313.08 88.14L313.08 140.31L313.32 96.47L313.32 145.23L313.56 90.14L313.56 140.52L313.8 93.63L313.8 145.15L314.04 95.1L314.04 161.21L314.28 95.3L314.28 141.61L314.52 96.45L314.52 150.77L314.76 95.85L314.76 143.96L315 92.71L315 145.93L315.24 96.4L315.24 155.95L315.48 92.13L315.48 140.02L315.72 81.99L315.72 145.17L315.96 87.12L315.96 149.67L316.2 88.79L316.2 143.92L316.44 90.15L316.44 149L316.68 96.19L316.68 162.18L316.92 87.32L316.92 148.54L317.16 89.73L317.16 148.24L317.4 89.13L317.4 143.93L317.64 88.98L317.64 141.66L317.88 92.73L317.88 145.07L318.12 93.85L318.12 140.43L318.36 96.11L318.36 144.49L318.6 93.87L318.6 144.9L318.84 95.67L318.84 161.81L319.08 96.34L319.08 140.5L319.32 96.34L319.32 139.93L319.56 90.24L319.56 140.24L319.8 88.2L319.8 147.36L320.04 96.3L320.04 140.3L320.28 84.91L320.28 139.97L320.52 95.82L320.52 140.44L320.75 96.32L320.75 142.55L320.99 96.15L320.99 143.35L321.23 93.18L321.23 148.24L321.47 94.76L321.47 147.78L321.71 86.29L321.71 152.93L321.95 96.08L321.95 148.39L322.19 92.19L322.19 141.85L322.43 95.68L322.43 140.08L322.67 94.94L322.67 149.96L322.91 82.85L322.91 140.36L323.15 88.52L323.15 143.83L323.39 95.91L323.39 190.7L323.63 91.46L323.63 147.03L323.87 95.56L323.87 140.26L324.11 88.7L324.11 170.15L324.35 94.98L324.35 140.33L324.59 94.01L324.59 147.89L324.83 80.36L324.83 143.79L325.07 92.08L325.07 143.95L325.31 96.41L325.31 140.8L325.55 96.31L325.55 140.18L325.79 86.93L325.79 147.83L326.03 96.49L326.03 146.07L326.27 88.35L326.27 145.55L326.51 87.53L326.51 150.94L326.75 96.49L326.75 143.02L326.99 96.24L326.99 163.5L327.23 96.05L327.23 143.66L327.47 96.42L327.47 140.64L327.71 94.33L327.71 142.48L327.95 93.07L327.95 141.93L328.19 95.51L328.19 143.07L328.43 96.38L328.43 149.19L328.67 90.08L328.67 146.91L328.91 90.19L328.91 141.53L329.15 93.42L329.15 147.04L329.39 96.31L329.39 184.35L329.63 93.63L329.63 146.24L329.87 92.63L329.87 142.92L330.11 80.79L330.11 148.71L330.35 89.22L330.35 142.26L330.59 95.01L330.59 153.72L330.83 93.95L330.83 140.56L331.07 96.37L331.07 144.34L331.31 93.4L331.31 141.24L331.55 72.02L331.55 141.6L331.79 91.28L331.79 141.43L332.03 95.85L332.03 140.23L332.27 86.9L332.27 139.99L332.51 91.44L332.51 139.95L332.75 94.75L332.75 144.56L332.99 94.82L332.99 161.81L333.23 90.57L333.23 141.91L333.47 96.2L333.47 149.49L333.71 92.51L333.71 143.89L333.95 91.46L333.95 146.91L334.19 93.9L334.19 146.03L334.43 89.06L334.43 149.91L334.67 94.36L334.67 212.15L334.91 94.39L334.91 141.28L335.14 95.71L335.14 149.82L335.38 82.21L335.38 141.98L335.62 95.52L335.62 149.78L335.86 91.78L335.86 140.2L336.1 94.86L336.1 139.95L336.34 87.96L336.34 148.62L336.58 87.73L336.58 141.5L336.82 83.41L336.82 162.18L337.06 86.85L337.06 149.52L337.3 92.93L337.3 140.33L337.54 96.44L337.54 150.25L337.78 94.09L337.78 141.38L338.02 86.29L338.02 140.44L338.26 93.56L338.26 140.38L338.5 96.16L338.5 142.54L338.74 95.18L338.74 142.01L338.98 95.59L338.98 148.42L339.22 76.19L339.22 163.38L339.46 89.9L339.46 139.94L339.7 87.94L339.7 140.11L339.94 95.44L339.94 143.61L340.18 93.33L340.18 146.37L340.42 96.5L340.42 142.13L340.66 95.15L340.66 143.72L340.9 87.5L340.9 164.23L341.14 96.36L341.14 139.93L341.38 89.12L341.38 140.44L341.62 92.35L341.62 150.96L341.86 82.34L341.86 140.9L342.1 90.59L342.1 149.75L342.34 95.68L342.34 142.26L342.58 88.69L342.58 140.34L342.82 96.43L342.82 158.37L343.06 88.78L343.06 140.32L343.3 91.01L343.3 140.84L343.54 94.53L343.54 141.75L343.78 96.28L343.78 141.82L344.02 93.93L344.02 142.89L344.26 95.64L344.26 227.86L344.5 93.55L344.5 139.94L344.74 86.29L344.74 140.54L344.98 89.34L344.98 150.11L345.22 96.46L345.22 139.94L345.46 93.08L345.46 145.54L345.7 87.06L345.7 142.1L345.94 94.44L345.94 145.1L346.18 90.72L346.18 140.91L346.42 96.4L346.42 141.18L346.66 89.06L346.66 142.52L346.9 93.19L346.9 148.93L347.14 86.72L347.14 140.89L347.38 90.46L347.38 158.37L347.62 89.13L347.62 139.94L347.86 96.46L347.86 148.33L348.1 91.5L348.1 140.8L348.34 96.12L348.34 140.04L348.58 95.81L348.58 143.49L348.82 95.47L348.82 147.58L349.06 93.09L349.06 151.9L349.3 92.65L349.3 140.11L349.54 88.04L349.54 141.45L349.77 96.5L349.77 140.54L350.01 96.13L350.01 139.93L350.25 95.22L350.25 154.74L350.49 89.97L350.49 141.93L350.73 93.55L350.73 140.07L350.97 93.94L350.97 148.4L351.21 90.86L351.21 150.65L351.45 92.31L351.45 147.02L351.69 95.68L351.69 153.53L351.93 96.42L351.93 140.22L352.17 94.41L352.17 142.62L352.41 88.94L352.41 143.32L352.65 70.47L352.65 148.26L352.89 96.47L352.89 150.23L353.13 94.61L353.13 148.94L353.37 95.05L353.37 140.98L353.61 93.19L353.61 143.35L353.85 93.14L353.85 205.8L354.09 85.09L354.09 142.55L354.33 95.38L354.33 139.96L354.57 94.87L354.57 157.16L354.81 92.83L354.81 140.04L355.05 88.84L355.05 140.72L355.29 91.63L355.29 140.77L355.53 94.33L355.53 145.07L355.77 90.03L355.77 139.97L356.01 94.2L356.01 151.42L356.25 87.44L356.25 144.32L356.49 75.46L356.49 144.56L356.73 96.34L356.73 145.15L356.97 89.77L356.97 145.31L357.21 79.84L357.21 144.42L357.45 89.5L357.45 142.94L357.69 92.88L357.69 168.04L357.93 93.97L357.93 139.98L358.17 96.42L358.17 140.3L358.41 90.47L358.41 145.67L358.65 87.66L358.65 140.23L358.89 87.41L358.89 142.68L359.13 89L359.13 140.51L359.37 95.6L359.37 191L359.61 96.34L359.61 147.37L359.85 88.85L359.85 144.38L360.09 94.25L360.09 141.8L360.33 96.34L360.33 140.57L360.57 94.07L360.57 146.81L360.81 95.9L360.81 144.33L361.05 81.56L361.05 154.44L361.29 92.5L361.29 148.07L361.53 88.33L361.53 144.87L361.77 90.24L361.77 150.54L362.01 96.24L362.01 144.44L362.25 94.28L362.25 148.72L362.49 94.14L362.49 152.33L362.73 86.95L362.73 145.15L362.97 96.42L362.97 147.53L363.21 81.78L363.21 139.99L363.45 88.34L363.45 158.55L363.69 94.95L363.69 143.61L363.93 95.83L363.93 139.95L364.16 93.48L364.16 146.51L364.4 95.5L364.4 145.24L364.64 88.12L364.64 169.55L364.88 96.43L364.88 141.19L365.12 96.08L365.12 142.03L365.36 96.43L365.36 148.98L365.6 82.21L365.6 159.27L365.84 95.66L365.84 147.37L366.08 88.6L366.08 141.59L366.32 88.71L366.32 140.95L366.56 87.95L366.56 140.59L366.8 95.86L366.8 140.3L367.04 92.82L367.04 151.3L367.28 95.03L367.28 140.13L367.52 87.46L367.52 147.25L367.76 90.81L367.76 150.4L368 96.46L368 140L368.24 91.68L368.24 139.95L368.48 88.3L368.48 139.93L368.72 87.37L368.72 149.42L368.96 91.5L368.96 139.97L369.2 89.24L369.2 144.68L369.44 89.59L369.44 149.91L369.68 95.24L369.68 140.25L369.92 96.4L369.92 140.44L370.16 91.34L370.16 144.82L370.4 74.17L370.4 139.93L370.64 95.06L370.64 147.98L370.88 86.83L370.88 143.12L371.12 93.44L371.12 140.39L371.36 93.84L371.36 156.13L371.6 87.74L371.6 144.3L371.84 95.71L371.84 143.93L372.08 86.76L372.08 140.82L372.32 88.39L372.32 140.92L372.56 95.21L372.56 141.97L372.8 85.64L372.8 193.72L373.04 96.34L373.04 142.77L373.28 88.32L373.28 147.48L373.52 96.16L373.52 144.09L373.76 96.5L373.76 143.05L374 88.77L374 142.23L374.24 93.01L374.24 144.68L374.48 83.07L374.48 142.25L374.72 91.26L374.72 186.77L374.96 96.48L374.96 140.19L375.2 96.41L375.2 140.85L375.44 94.06L375.44 148.15L375.68 83.93L375.68 141.37L375.92 94.02L375.92 147.54L376.16 91.21L376.16 149.56L376.4 92.28L376.4 143.25L376.64 92.79L376.64 140L376.88 96.48L376.88 145.94L377.12 95.95L377.12 144.46L377.36 88.64L377.36 159.27L377.6 96.35L377.6 147.94L377.84 93.72L377.84 142.16L378.08 96.47L378.08 139.95L378.32 87.9L378.32 139.96L378.55 96.21L378.55 140.36L378.79 94.86L378.79 143.66L379.03 93.58L379.03 213.36L379.27 84.48L379.27 140L379.51 87.93L379.51 139.93L379.75 91.21L379.75 143.84L379.99 95.32L379.99 141.49L380.23 96.44L380.23 141.77L380.47 91.62L380.47 147.11L380.71 87.28L380.71 149.13L380.95 96.49L380.95 150.23L381.19 90.65L381.19 146.33L381.43 83.8L381.43 139.93L381.67 94.43L381.67 140.1L381.91 93.83L381.91 153.53L382.15 92.82L382.15 149.95L382.39 86.95L382.39 139.98L382.63 71.25L382.63 142.5L382.87 95L382.87 141.38L383.11 91.51L383.11 141.46L383.35 94.37L383.35 140.55L383.59 94.83L383.59 160.48L383.83 95.19L383.83 140.4L384.07 89.73L384.07 140.01L384.31 95.73L384.31 142.95L384.55 95.93L384.55 141.81L384.79 96.28L384.79 145.2L385.03 94.61L385.03 202.9L385.27 95.66L385.27 149.89L385.51 89.67L385.51 140.96L385.75 89.49L385.75 148.35L385.99 95.34L385.99 141.29L386.23 73.74L386.23 185.56L386.47 88.56L386.47 146.81L386.71 95.24L386.71 141.38L386.95 93.5L386.95 141.81L387.19 94.58L387.19 143.96L387.43 92.37L387.43 140.02L387.67 87.52L387.67 153.84L387.91 96.31L387.91 139.99L388.15 87.41L388.15 140.35L388.39 92.18L388.39 143.84L388.63 90.32L388.63 150.34L388.87 92.56L388.87 151L389.11 89.11L389.11 158.37L389.35 86.93L389.35 140.09L389.59 91.61L389.59 142.54L389.83 95.82L389.83 141.76L390.07 93.97L390.07 151.72L390.31 91.97L390.31 146.14L390.55 96.1L390.55 145.14L390.79 96.46L390.79 143.05L391.03 81.35L391.03 143.82L391.27 90.12L391.27 143.3L391.51 92.18L391.51 144.63L391.75 95.49L391.75 149.33L391.99 80.19L391.99 162.3L392.23 96.43L392.23 150.52L392.47 92.22L392.47 147.88L392.71 93.26L392.71 140.01L392.94 87.15L392.94 141.86L393.18 94.55L393.18 196.13L393.42 96L393.42 140.68L393.66 91.36L393.66 143.62L393.9 94.4L393.9 171.66L394.14 91.08L394.14 140.27L394.38 95.2L394.38 141.41L394.62 96.42L394.62 139.96L394.86 93.63L394.86 141.61L395.1 87.66L395.1 140.37L395.34 88.21L395.34 147.92L395.58 88.81L395.58 140.83L395.82 96.47L395.82 141.26L396.06 90.69L396.06 160.79L396.3 95.83L396.3 143.02L396.54 91.76L396.54 139.95L396.78 86.93L396.78 155.65L397.02 95.49L397.02 143.68L397.26 94.17L397.26 140.25L397.5 93.75L397.5 140.45L397.74 91.79L397.74 143.84L397.98 92.53L397.98 142.29L398.22 92.01L398.22 140.55L398.46 95.06L398.46 159.15L398.7 92.02L398.7 143.99L398.94 77.26L398.94 139.94L399.18 92.9L399.18 140.57L399.42 94.44L399.42 140.76L399.66 93.41L399.66 148.27L399.9 96.49L399.9 151.72L400.14 94.07L400.14 141.01L400.38 96.03L400.38 140.23L400.62 95.05L400.62 144.91L400.86 96.44L400.86 146.92L401.1 92.29L401.1 149.61L401.34 88.71L401.34 147.95L401.58 88.78L401.58 144.92L401.82 96.39L401.82 140.32L402.06 92.75L402.06 149.06L402.3 96.34L402.3 140.68L402.54 88.75L402.54 146.5L402.78 96.35L402.78 139.97L403.02 95.22L403.02 141.9L403.26 94.11L403.26 142.4L403.5 96.36L403.5 153.53L403.74 95.51L403.74 147.41L403.98 95.76L403.98 142.86L404.22 91.54L404.22 139.95L404.46 87.01L404.46 141.66L404.7 95.21L404.7 151.42L404.94 82.42L404.94 150.9L405.18 96.3L405.18 144.69L405.42 93.22L405.42 141.45L405.66 94.67L405.66 141.14L405.9 95.69L405.9 146.12L406.14 89.91L406.14 140L406.38 91.06L406.38 147.04L406.62 96.32L406.62 145.07L406.86 95.66L406.86 141.71L407.1 89.95L407.1 145.15L407.33 86.89L407.33 141.39L407.57 87.58L407.57 140.09L407.81 89.09L407.81 141.55L408.05 87.05L408.05 139.95L408.29 91.15L408.29 150.21L408.53 92.44L408.53 141.74L408.77 96.02L408.77 147.19L409.01 95.16L409.01 140.27L409.25 92.71L409.25 173.48L409.49 88.13L409.49 150.51L409.73 95.61L409.73 147.24L409.97 88.65L409.97 148.76L410.21 96.49L410.21 159.88L410.45 91.76L410.45 143.39L410.69 94.58L410.69 143.3L410.93 90.29L410.93 143.55L411.17 95.96L411.17 141.99L411.41 92.25L411.41 141.11L411.65 92.08L411.65 140.41L411.89 94.39L411.89 139.96L412.13 96.15L412.13 165.32L412.37 94.91L412.37 146.16L412.61 91.08L412.61 142.94L412.85 96.15L412.85 140.14L413.09 96.42L413.09 146.98L413.33 88.01L413.33 139.94L413.57 95.96L413.57 149.4L413.81 90.25L413.81 144.25L414.05 89.98L414.05 142.98L414.29 87.78L414.29 141.51L414.53 86.29L414.53 147.19L414.77 92.41L414.77 163.81L415.01 96.16L415.01 139.93L415.25 89.89L415.25 142.56L415.49 91.33L415.49 140.7L415.73 91.06L415.73 141.42L415.97 91.75L415.97 142.75L416.21 89.78L416.21 153.53L416.45 95.63L416.45 150.6L416.69 92.09L416.69 144.64L416.93 93.89L416.93 140L417.17 95.38L417.17 145.62L417.41 77.91L417.41 142.71L417.65 96.26L417.65 161.09L417.89 94.14L417.89 145.61L418.13 95.17L418.13 150.8L418.37 94.76L418.37 140.03L418.61 89.42L418.61 150.92L418.85 91.97L418.85 142.1L419.09 91.98L419.09 140.26L419.33 87.05L419.33 141.2L419.57 96.03L419.57 141.13L419.81 93.98L419.81 148.62L420.05 96.41L420.05 142.61L420.29 91.53L420.29 139.96L420.53 87.69L420.53 145.23L420.77 96.42L420.77 142.32L421.01 90.9L421.01 154.44L421.25 89.19L421.25 139.94L421.49 93.97L421.49 147.99L421.72 90.29L421.72 148.57L421.96 94.6L421.96 139.93L422.2 95.28L422.2 142.11L422.44 90.59L422.44 140.04L422.68 96.13L422.68 142.67L422.92 95.58L422.92 139.99L423.16 95.59L423.16 152.33L423.4 86.97L423.4 140.2L423.64 95.4L423.64 144.5L423.88 95.99L423.88 144.28L424.12 87.89L424.12 140.84L424.36 96.31L424.36 140.31L424.6 87.15L424.6 149.05L424.84 89.4L424.84 139.94L425.08 92.41L425.08 159.58L425.32 94.71L425.32 140.88L425.56 96.12L425.56 143.33L425.8 96.39L425.8 141.17L426.04 96.39L426.04 140.02L426.28 95.31L426.28 153.53L426.52 94.88L426.52 145.38L426.76 88.18L426.76 145.06L427 93.69L427 142.23L427.24 86.93L427.24 140.76L427.48 91.43L427.48 139.93L427.72 75.63L427.72 142.7L427.96 93.51L427.96 156.86L428.2 96.25L428.2 141.76L428.44 96.48L428.44 150.04L428.68 87.81L428.68 140.26L428.92 95.38L428.92 146.98L429.16 96.15L429.16 145.29L429.4 96.4L429.4 159.58L429.64 92.35L429.64 149.26L429.88 81.99L429.88 140.4L430.12 96.5L430.12 149.19L430.36 91.51L430.36 141.43L430.6 95.85L430.6 144.66L430.84 90.56L430.84 149.9L431.08 94.17L431.08 170.03L431.32 93.7L431.32 143.31L431.56 94.46L431.56 139.96L431.8 82.64L431.8 143.49L432.04 86.94L432.04 166.83L432.28 90.29L432.28 141.31L432.52 96.45L432.52 141.23L432.76 94.11L432.76 150.37L433 95.96L433 144.05L433.24 96.39L433.24 145.39L433.48 96.13L433.48 140.16L433.72 95.9L433.72 140.74L433.96 87.52L433.96 148.24L434.2 91.09L434.2 140.04L434.44 89.4L434.44 149.9L434.68 91.74L434.68 150.82L434.92 95.53L434.92 141.33L435.16 85.52L435.16 142.5L435.4 94.6L435.4 141.78L435.64 95.66L435.64 142.04L435.88 94.77L435.88 141.61L436.11 90.7L436.11 145.02L436.35 96.44L436.35 140.59L436.59 95.75L436.59 169.25L436.83 94.26L436.83 141.7L437.07 92.04L437.07 139.98L437.31 85.64L437.31 141.82L437.55 91.37L437.55 142.28L437.79 96.39L437.79 146.42L438.03 96.18L438.03 140.02L438.27 95.57L438.27 141.38L438.51 95.72L438.51 146.36L438.75 90.93L438.75 153.23L438.99 86.88L438.99 147.41L439.23 91.95L439.23 145.28L439.47 96.49L439.47 139.94L439.71 95.63L439.71 141.29L439.95 90.21L439.95 146.1L440.19 88.17L440.19 142.63L440.43 93.05L440.43 144.57L440.67 87.23L440.67 155.77L440.91 95.27L440.91 144.6L441.15 92.58L441.15 142.86L441.39 89.21L441.39 147.6L441.63 95.36L441.63 141.66L441.87 96.14L441.87 149.3L442.11 96.5L442.11 140.57L442.35 96.31L442.35 143.46L442.59 89.43L442.59 149.79L442.83 92.69L442.83 143.63L443.07 86.93L443.07 140.62L443.31 96.45L443.31 183.75L443.55 81.05L443.55 141.41L443.79 90.32L443.79 140.36L444.03 92.23L444.03 142.94L444.27 96.45L444.27 140.99L444.51 94.93L444.51 140.02L444.75 92.53L444.75 151.72L444.99 91.88L444.99 144.85L445.23 94.51L445.23 150.35L445.47 81.65L445.47 140.07L445.64 87.4L445.64 148.95" clip-path="url(#p51600fcce8)" style="fill: none; stroke: #0000ff; stroke-opacity: 0.7; stroke-linecap: square"/>
</g>
<g id="line2d_31">
<path d="M59.16 119.43L464.04 119.43" clip-path="url(#p51600fcce8)" style="fill: none; stroke-dasharray: 5.55,2.4; stroke-dashoffset: 0; stroke: #ff0000; stroke-opacity: 0.5; stroke-width: 1.5"/>
</g>
<g id="patch_3">
<path d="M59.16 238.66L59.16 57.7" style="fill: none; stroke: #000000; stroke-width: 0.8; stroke-linejoin: miter; stroke-linecap: square"/>
</g>
<g id="patch_4">
<path d="M464.04 238.66L464.04 57.7" style="fill: none; stroke: #000000; stroke-width: 0.8; stroke-linejoin: miter; stroke-linecap: square"/>
</g>
<g id="patch_5">
<path d="M59.16 238.66L464.04 238.66" style="fill: none; stroke: #000000; stroke-width: 0.8; stroke-linejoin: miter; stroke-linecap: square"/>
</g>
<g id="patch_6">
<path d="M59.16 57.7L464.04 57.7" style="fill: none; stroke: #000000; stroke-width: 0.8; stroke-linejoin: miter; stroke-linecap: square"/>
</g>
<g id="legend_1">
<g id="patch_7">
<path d="M66.16 233.66L170.21 233.66 Q 172.21 233.66 172.21 231.66L172.21 217.98 Q 172.21 215.98 170.21 215.98L66.16 215.98 Q 64.16 215.98 64.16 217.98L64.16 231.66 Q 64.16 233.66 66.16 233.66z" style="fill: #ffffff; opacity: 0.8; stroke: #cccccc; stroke-linejoin: miter"/>
</g>
<g id="line2d_32">
<path d="M68.16 224.08L78.16 224.08L88.16 224.08" style="fill: none; stroke-dasharray: 5.55,2.4; stroke-dashoffset: 0; stroke: #ff0000; stroke-opacity: 0.5; stroke-width: 1.5"/>
</g>
</g>
</g>
<g id="axes_2">
<g id="patch_8">
<path d="M660.84 238.66L1065.96 238.66L1065.96 57.7L660.84 57.7z" style="fill: #ffffff"/>
</g>
<g id="patch_9">
<path d="M679.26 238.66L686.62 238.66L686.62 238.65L679.26 238.65z" clip-path="url(#p4031424f6c)" style="fill: #87ceeb; opacity: 0.7; stroke: #000000; stroke-linejoin: miter"/>
</g>
<g id="patch_10">
<path d="M686.62 238.66L693.99 238.66L693.99 238.65L686.62 238.65z" clip-path="url(#p4031424f6c)" style="fill: #87ceeb; opacity: 0.7; stroke: #000000; stroke-linejoin: miter"/>
</g>
<g id="patch_11">
<path d="M693.99 238.66L701.35 238.66L701.35 238.65L693.99 238.65z" clip-path="url(#p4031424f6c)" style="fill: #87ceeb; opacity: 0.7; stroke: #000000; stroke-linejoin: miter"/>
</g>
<g id="patch_12">
<path d="M701.35 238.66L708.72 238.66L708.72 238.65L701.35 238.65z" clip-path="url(#p4031424f6c)" style="fill: #87ceeb; opacity: 0.7; stroke: #000000; stroke-linejoin: miter"/>
</g>
<g id="patch_13">
<path d="M708.72 238.66L716.08 238.66L716.08 238.65L708.72 238.65z" clip-path="url(#p4031424f6c)" style="fill: #87ceeb; opacity: 0.7; stroke: #000000; stroke-linejoin: miter"/>
</g>
<g id="patch_14">
<path d="M716.08 238.66L723.45 238.66L723.45 238.65L716.08 238.65z" clip-path="url(#p4031424f6c)" style="fill: #87ceeb; opacity: 0.7; stroke: #000000; stroke-linejoin: miter"/>
</g>
<g id="patch_15">
<path d="M723.45 238.66L730.82 238.66L730.82 238.65L723.45 238.65z" clip-path="url(#p4031424f6c)" style="fill: #87ceeb; opacity: 0.7; stroke: #000000; stroke-linejoin: miter"/>
</g>
<g id="patch_16">
<path d="M730.82 238.66L738.18 238.66L738.18 238.65L730.82 238.65z" clip-path="url(#p4031424f6c)" style="fill: #87ceeb; opacity: 0.7; stroke: #000000; stroke-linejoin: miter"/>
</g>
<g id="patch_17">
<path d="M738.18 238.66L745.55 238.66L745.55 238.65L738.18 238.65z" clip-path="url(#p4031424f6c)" style="fill: #87ceeb; opacity: 0.7; stroke: #000000; stroke-linejoin: miter"/>
</g>
<g id="patch_18">
<path d="M745.55 238.66L752.91 238.66L752.91 238.65L745.55 238.65z" clip-path="url(#p4031424f6c)" style="fill: #87ceeb; opacity: 0.7; stroke: #000000; stroke-linejoin: miter"/>
</g>
<g id="patch_19">
<path d="M752.91 238.66L760.28 238.66L760.28 238.65L752.91 238.65z" clip-path="url(#p4031424f6c)" style="fill: #87ceeb; opacity: 0.7; stroke: #000000; stroke-linejoin: miter"/>
</g>
<g id="patch_20">
<path d="M760.28 238.66L767.65 238.66L767.65 238.65L760.28 238.65z" clip-path="url(#p4031424f6c)" style="fill: #87ceeb; opacity: 0.7; stroke: #000000; stroke-linejoin: miter"/>
</g>
<g id="patch_21">
<path d="M767.65 238.66L775.01 238.66L775.01 238.65L767.65 238.65z" clip-path="url(#p4031424f6c)" style="fill: #87ceeb; opacity: 0.7; stroke: #000000; stroke-linejoin: miter"/>
</g>
<g id="patch_22">
<path d="M775.01 238.66L782.38 238.66L782.38 238.65L775.01 238.65z" clip-path="url(#p4031424f6c)" style="fill: #87ceeb; opacity: 0.7; stroke: #000000; stroke-linejoin: miter"/>
</g>
<g id="patch_23">
<path d="M782.38 238.66L789.74 238.66L789.74 238.65L782.38 238.65z" clip-path="url(#p4031424f6c)" style="fill: #87ceeb; opacity: 0.7; stroke: #000000; stroke-linejoin: miter"/>
</g>
<g id="patch_24">
<path d="M789.74 238.66L797.11 238.66L797.11 238.65L789.74 238.65z" clip-path="url(#p4031424f6c)" style="fill: #87ceeb; opacity: 0.7; stroke: #000000; stroke-linejoin: miter"/>
</g>
<g id="patch_25">
<path d="M797.11 238.66L804.47 238.66L804.47 238.65L797.11 238.65z" clip-path="url(#p4031424f6c)" style="fill: #87ceeb; opacity: 0.7; stroke: #000000; stroke-linejoin: miter"/>
</g>
<g id="patch_26">
<path d="M804.47 238.66L811.84 238.66L811.84 238.65L804.47 238.65z" clip-path="url(#p4031424f6c)" style="fill: #87ceeb; opacity: 0.7; stroke: #000000; stroke-linejoin: miter"/>
</g>
<g id="patch_27">
<path d="M811.84 238.66L819.21 238.66L819.21 238.65L811.84 238.65z" clip-path="url(#p4031424f6c)" style="fill: #87ceeb; opacity: 0.7; stroke: #000000; stroke-linejoin: miter"/>
</g>
<g id="patch_28">
<path d="M819.21 238.66L826.57 238.66L826.57 238.65L819.21 238.65z" clip-path="url(#p4031424f6c)" style="fill: #87ceeb; opacity: 0.7; stroke: #000000; stroke-linejoin: miter"/>
</g>
<g id="patch_29">
<path d="M826.57 238.66L833.94 238.66L833.94 238.5L826.57 238.5z" clip-path="url(#p4031424f6c)" style="fill: #87ceeb; opacity: 0.7; stroke: #000000; stroke-linejoin: miter"/>
</g>
<g id="patch_30">
<path d="M833.94 238.66L841.3 238.66L841.3 238.4L833.94 238.4z" clip-path="url(#p4031424f6c)" style="fill: #87ceeb; opacity: 0.7; stroke: #000000; stroke-linejoin: miter"/>
</g>
<g id="patch_31">
<path d="M841.3 238.66L848.67 238.66L848.67 238.27L841.3 238.27z" clip-path="url(#p4031424f6c)" style="fill: #87ceeb; opacity: 0.7; stroke: #000000; stroke-linejoin: miter"/>
</g>
<g id="patch_32">
<path d="M848.67 238.66L856.04 238.66L856.04 237.95L848.67 237.95z" clip-path="url(#p4031424f6c)" style="fill: #87ceeb; opacity: 0.7; stroke: #000000; stroke-linejoin: miter"/>
</g>
<g id="patch_33">
<path d="M856.04 238.66L863.4 238.66L863.4 237.34L856.04 237.34z" clip-path="url(#p4031424f6c)" style="fill: #87ceeb; opacity: 0.7; stroke: #000000; stroke-linejoin: miter"/>
</g>
<g id="patch_34">
<path d="M863.4 238.66L870.77 238.66L870.77 235.73L863.4 235.73z" clip-path="url(#p4031424f6c)" style="fill: #87ceeb; opacity: 0.7; stroke: #000000; stroke-linejoin: miter"/>
</g>
<g id="patch_35">
<path d="M870.77 238.66L878.13 238.66L878.13 233.26L870.77 233.26z" clip-path="url(#p4031424f6c)" style="fill: #87ceeb; opacity: 0.7; stroke: #000000; stroke-linejoin: miter"/>
</g>
<g id="patch_36">
<path d="M878.13 238.66L885.5 238.66L885.5 227.92L878.13 227.92z" clip-path="url(#p4031424f6c)" style="fill: #87ceeb; opacity: 0.7; stroke: #000000; stroke-linejoin: miter"/>
</g>
<g id="patch_37">
<path d="M885.5 238.66L892.86 238.66L892.86 217.57L885.5 217.57z" clip-path="url(#p4031424f6c)" style="fill: #87ceeb; opacity: 0.7; stroke: #000000; stroke-linejoin: miter"/>
</g>
<g id="patch_38">
<path d="M892.86 238.66L900.23 238.66L900.23 198.02L892.86 198.02z" clip-path="url(#p4031424f6c)" style="fill: #87ceeb; opacity: 0.7; stroke: #000000; stroke-linejoin: miter"/>
</g>
<g id="patch_39">
<path d="M900.23 238.66L907.6 238.66L907.6 165.04L900.23 165.04z" clip-path="url(#p4031424f6c)" style="fill: #87ceeb; opacity: 0.7; stroke: #000000; stroke-linejoin: miter"/>
</g>
<g id="patch_40">
<path d="M907.6 238.66L914.96 238.66L914.96 122.44L907.6 122.44z" clip-path="url(#p4031424f6c)" style="fill: #87ceeb; opacity: 0.7; stroke: #000000; stroke-linejoin: miter"/>
</g>
<g id="patch_41">
<path d="M914.96 238.66L922.33 238.66L922.33 80.59L914.96 80.59z" clip-path="url(#p4031424f6c)" style="fill: #87ceeb; opacity: 0.7; stroke: #000000; stroke-linejoin: miter"/>
</g>
<g id="patch_42">
<path d="M922.33 238.66L929.69 238.66L929.69 66.15L922.33 66.15z" clip-path="url(#p4031424f6c)" style="fill: #87ceeb; opacity: 0.7; stroke: #000000; stroke-linejoin: miter"/>
</g>
<g id="patch_43">
<path d="M929.69 238.66L937.06 238.66L937.06 81.13L929.69 81.13z" clip-path="url(#p4031424f6c)" style="fill: #87ceeb; opacity: 0.7; stroke: #000000; stroke-linejoin: miter"/>
</g>
<g id="patch_44">
<path d="M937.06 238.66L944.43 238.66L944.43 115.85L937.06 115.85z" clip-path="url(#p4031424f6c)" style="fill: #87ceeb; opacity: 0.7; stroke: #000000; stroke-linejoin: miter"/>
</g>
<g id="patch_45">
<path d="M944.43 238.66L951.79 238.66L951.79 156.36L944.43 156.36z" clip-path="url(#p4031424f6c)" style="fill: #87ceeb; opacity: 0.7; stroke: #000000; stroke-linejoin: miter"/>
</g>
<g id="patch_46">
<path d="M951.79 238.66L959.16 238.66L959.16 189.98L951.79 189.98z" clip-path="url(#p4031424f6c)" style="fill: #87ceeb; opacity: 0.7; stroke: #000000; stroke-linejoin: miter"/>
</g>
<g id="patch_47">
<path d="M959.16 238.66L966.52 238.66L966.52 208.92L959.16 208.92z" clip-path="url(#p4031424f6c)" style="fill: #87ceeb; opacity: 0.7; stroke: #000000; stroke-linejoin: miter"/>
</g>
<g id="patch_48">
<path d="M966.52 238.66L973.89 238.66L973.89 220.91L966.52 220.91z" clip-path="url(#p4031424f6c)" style="fill: #87ceeb; opacity: 0.7; stroke: #000000; stroke-linejoin: miter"/>
</g>
<g id="patch_49">
<path d="M973.89 238.66L981.25 238.66L981.25 228.3L973.89 228.3z" clip-path="url(#p4031424f6c)" style="fill: #87ceeb; opacity: 0.7; stroke: #000000; stroke-linejoin: miter"/>
</g>
<g id="patch_50">
<path d="M981.25 238.66L988.62 238.66L988.62 232.13L981.25 232.13z" clip-path="url(#p4031424f6c)" style="fill: #87ceeb; opacity: 0.7; stroke: #000000; stroke-linejoin: miter"/>
</g>
<g id="patch_51">
<path d="M988.62 238.66L995.99 238.66L995.99 235.06L988.62 235.06z" clip-path="url(#p4031424f6c)" style="fill: #87ceeb; opacity: 0.7; stroke: #000000; stroke-linejoin: miter"/>
</g>
<g id="patch_52">
<path d="M995.99 238.66L1003.35 238.66L1003.35 236.47L995.99 236.47z" clip-path="url(#p4031424f6c)" style="fill: #87ceeb; opacity: 0.7; stroke: #000000; stroke-linejoin: miter"/>
</g>
<g id="patch_53">
<path d="M1003.35 238.66L1010.72 238.66L1010.72 237.43L1003.35 237.43z" clip-path="url(#p4031424f6c)" style="fill: #87ceeb; opacity: 0.7; stroke: #000000; stroke-linejoin: miter"/>
</g>
<g id="patch_54">
<path d="M1010.72 238.66L1018.08 238.66L1018.08 237.82L1010.72 237.82z" clip-path="url(#p4031424f6c)" style="fill: #87ceeb; opacity: 0.7; stroke: #000000; stroke-linejoin: miter"/>
</g>
<g id="patch_55">
<path d="M1018.08 238.66L1025.45 238.66L1025.45 237.98L1018.08 237.98z" clip-path="url(#p4031424f6c)" style="fill: #87ceeb; opacity: 0.7; stroke: #000000; stroke-linejoin: miter"/>
</g>
<g id="patch_56">
<path d="M1025.45 238.66L1032.82 238.66L1032.82 238.11L1025.45 238.11z" clip-path="url(#p4031424f6c)" style="fill: #87ceeb; opacity: 0.7; stroke: #000000; stroke-linejoin: miter"/>
</g>
<g id="patch_57">
<path d="M1032.82 238.66L1040.18 238.66L1040.18 238.33L1032.82 238.33z" clip-path="url(#p4031424f6c)" style="fill: #87ceeb; opacity: 0.7; stroke: #000000; stroke-linejoin: miter"/>
</g>
<g id="patch_58">
<path d="M1040.18 238.66L1047.55 238.66L1047.55 238.5L1040.18 238.5z" clip-path="url(#p4031424f6c)" style="fill: #87ceeb; opacity: 0.7; stroke: #000000; stroke-linejoin: miter"/>
</g>
<g id="matplotlib.axis_3">
<g id="xtick_8">
<g id="line2d_33">
<path d="M705.24 238.66L705.24 57.7" clip-path="url(#p4031424f6c)" style="fill: none; stroke: #b0b0b0; stroke-opacity: 0.3; stroke-width: 0.8; stroke-linecap: square"/>
</g>
<g id="line2d_34">
<g>
<use href="#m479de51f6e" x="705.24" y="238.66" style="stroke: #000000; stroke-width: 0.8"/>
</g>
</g>
</g>
<g id="xtick_9">
<g id="line2d_35">
<path d="M754.85 238.66L754.85 57.7" clip-path="url(#p4031424f6c)" style="fill: none; stroke: #b0b0b0; stroke-opacity: 0.3; stroke-width: 0.8; stroke-linecap: square"/>
</g>
<g id="line2d_36">
<g>
<use href="#m479de51f6e" x="754.85" y="238.66" style="stroke: #000000; stroke-width: 0.8"/>
</g>
</g>
</g>
<g id="xtick_10">
<g id="line2d_37">
<path d="M804.46 238.66L804.46 57.7" clip-path="url(#p4031424f6c)" style="fill: none; stroke: #b0b0b0; stroke-opacity: 0.3; stroke-width: 0.8; stroke-linecap: square"/>
</g>
<g id="line2d_38">
<g>
<use href="#m479de51f6e" x="804.46" y="238.66" style="stroke: #000000; stroke-width: 0.8"/>
</g>
</g>
</g>
<g id="xtick_11">
<g id="line2d_39">
<path d="M854.07 238.66L854.07 57.7" clip-path="url(#p4031424f6c)" style="fill: none; stroke: #b0b0b0; stroke-opacity: 0.3; stroke-width: 0.8; stroke-linecap: square"/>
</g>
<g id="line2d_40">
<g>
<use href="#m479de51f6e" x="854.07" y="238.66" style="stroke: #000000; stroke-width: 0.8"/>
</g>
</g>
</g>
<g id="xtick_12">
<g id="line2d_41">
<path d="M903.69 238.66L903.69 57.7" clip-path="url(#p4031424f6c)" style="fill: none; stroke: #b0b0b0; stroke-opacity: 0.3; stroke-width: 0.8; stroke-linecap: square"/>
</g>
<g id="line2d_42">
<g>
<use href="#m479de51f6e" x="903.69" y="238.66" style="stroke: #000000; stroke-width: 0.8"/>
</g>
</g>
</g>
<g id="xtick_13">
<g id="line2d_43">
<path d="M953.3 238.66L953.3 57.7" clip-path="url(#p4031424f6c)" style="fill: none; stroke: #b0b0b0; stroke-opacity: 0.3; stroke-width: 0.8; stroke-linecap: square"/>
</g>
<g id="line2d_44">
<g>
<use href="#m479de51f6e" x="953.3" y="238.66" style="stroke: #000000; stroke-width: 0.8"/>
</g>
</g>
</g>
<g id="xtick_14">
<g id="line2d_45">
<path d="M1002.91 238.66L1002.91 57.7" clip-path="url(#p4031424f6c)" style="fill: none; stroke: #b0b0b0; stroke-opacity: 0.3; stroke-width: 0.8; stroke-linecap: square"/>
</g>
<g id="line2d_46">
<g>
<use href="#m479de51f6e" x="1002.91" y="238.66" style="stroke: #000000; stroke-width: 0.8"/>
</g>
</g>
</g>
<g id="xtick_15">
<g id="line2d_47">
<path d="M1052.52 238.66L1052.52 57.7" clip-path="url(#p4031424f6c)" style="fill: none; stroke: #b0b0b0; stroke-opacity: 0.3; stroke-width: 0.8; stroke-linecap: square"/>
</g>
<g id="line2d_48">
<g>
<use href="#m479de51f6e" x="1052.52" y="238.66" style="stroke: #000000; stroke-width: 0.8"/>
</g>
</g>
</g>
</g>
<g id="matplotlib.axis_4">
<g id="ytick_9">
<g id="line2d_49">
<path d="M660.84 238.66L1065.96 238.66" clip-path="url(#p4031424f6c)" style="fill: none; stroke: #b0b0b0; stroke-opacity: 0.3; stroke-width: 0.8; stroke-linecap: square"/>
</g>
<g id="line2d_50">
<g>
<use href="#m1e12759360" x="660.84" y="238.66" style="stroke: #000000; stroke-width: 0.8"/>
</g>
</g>
</g>
<g id="ytick_10">
<g id="line2d_51">
<path d="M660.84 206.51L1065.96 206.51" clip-path="url(#p4031424f6c)" style="fill: none; stroke: #b0b0b0; stroke-opacity: 0.3; stroke-width: 0.8; stroke-linecap: square"/>
</g>
<g id="line2d_52">
<g>
<use href="#m1e12759360" x="660.84" y="206.51" style="stroke: #000000; stroke-width: 0.8"/>
</g>
</g>
</g>
<g id="ytick_11">
<g id="line2d_53">
<path d="M660.84 174.36L1065.96 174.36" clip-path="url(#p4031424f6c)" style="fill: none; stroke: #b0b0b0; stroke-opacity: 0.3; stroke-width: 0.8; stroke-linecap: square"/>
</g>
<g id="line2d_54">
<g>
<use href="#m1e12759360" x="660.84" y="174.36" style="stroke: #000000; stroke-width: 0.8"/>
</g>
</g>
</g>
<g id="ytick_12">
<g id="line2d_55">
<path d="M660.84 142.21L1065.96 142.21" clip-path="url(#p4031424f6c)" style="fill: none; stroke: #b0b0b0; stroke-opacity: 0.3; stroke-width: 0.8; stroke-linecap: square"/>
</g>
<g id="line2d_56">
<g>
<use href="#m1e12759360" x="660.84" y="142.21" style="stroke: #000000; stroke-width: 0.8"/>
</g>
</g>
</g>
<g id="ytick_13">
<g id="line2d_57">
<path d="M660.84 110.06L1065.96 110.06" clip-path="url(#p4031424f6c)" style="fill: none; stroke: #b0b0b0; stroke-opacity: 0.3; stroke-width: 0.8; stroke-linecap: square"/>
</g>
<g id="line2d_58">
<g>
<use href="#m1e12759360" x="660.84" y="110.06" style="stroke: #000000; stroke-width: 0.8"/>
</g>
</g>
</g>
<g id="ytick_14">
<g id="line2d_59">
<path d="M660.84 77.92L1065.96 77.92" clip-path="url(#p4031424f6c)" style="fill: none; stroke: #b0b0b0; stroke-opacity: 0.3; stroke-width: 0.8; stroke-linecap: square"/>
</g>
<g id="line2d_60">
<g>
<use href="#m1e12759360" x="660.84" y="77.92" style="stroke: #000000; stroke-width: 0.8"/>
</g>
</g>
</g>
</g>
<g id="line2d_61">
<path d="M927.5 238.66L927.5 57.7" clip-path="url(#p4031424f6c)" style="fill: none; stroke-dasharray: 5.55,2.4; stroke-dashoffset: 0; stroke: #ff0000; stroke-width: 1.5"/>
</g>
<g id="line2d_62">
<path d="M926.78 238.66L926.78 57.7" clip-path="url(#p4031424f6c)" style="fill: none; stroke-dasharray: 5.55,2.4; stroke-dashoffset: 0; stroke: #008000; stroke-width: 1.5"/>
</g>
<g id="patch_59">
<path d="M660.84 238.66L660.84 57.7" style="fill: none; stroke: #000000; stroke-width: 0.8; stroke-linejoin: miter; stroke-linecap: square"/>
</g>
<g id="patch_60">
<path d="M1065.96 238.66L1065.96 57.7" style="fill: none; stroke: #000000; stroke-width: 0.8; stroke-linejoin: miter; stroke-linecap: square"/>
</g>
<g id="patch_61">
<path d="M660.84 238.66L1065.96 238.66" style="fill: none; stroke: #000000; stroke-width: 0.8; stroke-linejoin: miter; stroke-linecap: square"/>
</g>
<g id="patch_62">
<path d="M660.84 57.7L1065.96 57.7" style="fill: none; stroke: #000000; stroke-width: 0.8; stroke-linejoin: miter; stroke-linecap: square"/>
</g>
<g id="legend_2">
<g id="patch_63">
<path d="M942.44 95.05L1058.96 95.05 Q 1060.96 95.05 1060.96 93.05L1060.96 64.7 Q 1060.96 62.7 1058.96 62.7L942.44 62.7 Q 940.44 62.7 940.44 64.7L940.44 93.05 Q 940.44 95.05 942.44 95.05z" style="fill: #ffffff; opacity: 0.8; stroke: #cccccc; stroke-linejoin: miter"/>
</g>
<g id="line2d_63">
<path d="M944.44 70.79L954.44 70.79L964.44 70.79" style="fill: none; stroke-dasharray: 5.55,2.4; stroke-dashoffset: 0; stroke: #ff0000; stroke-width: 1.5"/>
</g>
<g id="line2d_64">
<path d="M944.44 85.47L954.44 85.47L964.44 85.47" style="fill: none; stroke-dasharray: 5.55,2.4; stroke-dashoffset: 0; stroke: #008000; stroke-width: 1.5"/>
</g>
</g>
</g>
<g id="axes_3">
<g id="patch_64">
<path d="M59.16 477.96L464.04 477.96L464.04 297L59.16 297z" style="fill: #ffffff"/>
</g>
<g id="matplotlib.axis_5">
<g id="xtick_16">
<g id="line2d_65">
<path d="M261.6 477.96L261.6 297" clip-path="url(#p6686218dbd)" style="fill: none; stroke: #b0b0b0; stroke-opacity: 0.3; stroke-width: 0.8; stroke-linecap: square"/>
</g>
<g id="line2d_66">
<g>
<use href="#m479de51f6e" x="261.6" y="477.96" style="stroke: #000000; stroke-width: 0.8"/>
</g>
</g>
</g>
</g>
<g id="matplotlib.axis_6">
<g id="ytick_15">
<g id="line2d_67">
<path d="M59.16 458.13L464.04 458.13" clip-path="url(#p6686218dbd)" style="fill: none; stroke: #b0b0b0; stroke-opacity: 0.3; stroke-width: 0.8; stroke-linecap: square"/>
</g>
<g id="line2d_68">
<g>
<use href="#m1e12759360" x="59.16" y="458.13" style="stroke: #000000; stroke-width: 0.8"/>
</g>
</g>
</g>
<g id="ytick_16">
<g id="line2d_69">
<path d="M59.16 435.97L464.04 435.97" clip-path="url(#p6686218dbd)" style="fill: none; stroke: #b0b0b0; stroke-opacity: 0.3; stroke-width: 0.8; stroke-linecap: square"/>
</g>
<g id="line2d_70">
<g>
<use href="#m1e12759360" x="59.16" y="435.97" style="stroke: #000000; stroke-width: 0.8"/>
</g>
</g>
</g>
<g id="ytick_17">
<g id="line2d_71">
<path d="M59.16 413.81L464.04 413.81" clip-path="url(#p6686218dbd)" style="fill: none; stroke: #b0b0b0; stroke-opacity: 0.3; stroke-width: 0.8; stroke-linecap: square"/>
</g>
<g id="line2d_72">
<g>
<use href="#m1e12759360" x="59.16" y="413.81" style="stroke: #000000; stroke-width: 0.8"/>
</g>
</g>
</g>
<g id="ytick_18">
<g id="line2d_73">
<path d="M59.16 391.65L464.04 391.65" clip-path="url(#p6686218dbd)" style="fill: none; stroke: #b0b0b0; stroke-opacity: 0.3; stroke-width: 0.8; stroke-linecap: square"/>
</g>
<g id="line2d_74">
<g>
<use href="#m1e12759360" x="59.16" y="391.65" style="stroke: #000000; stroke-width: 0.8"/>
</g>
</g>
</g>
<g id="ytick_19">
<g id="line2d_75">
<path d="M59.16 369.49L464.04 369.49" clip-path="url(#p6686218dbd)" style="fill: none; stroke: #b0b0b0; stroke-opacity: 0.3; stroke-width: 0.8; stroke-linecap: square"/>
</g>
<g id="line2d_76">
<g>
<use href="#m1e12759360" x="59.16" y="369.49" style="stroke: #000000; stroke-width: 0.8"/>
</g>
</g>
</g>
<g id="ytick_20">
<g id="line2d_77">
<path d="M59.16 347.32L464.04 347.32" clip-path="url(#p6686218dbd)" style="fill: none; stroke: #b0b0b0; stroke-opacity: 0.3; stroke-width: 0.8; stroke-linecap: square"/>
</g>
<g id="line2d_78">
<g>
<use href="#m1e12759360" x="59.16" y="347.32" style="stroke: #000000; stroke-width: 0.8"/>
</g>
</g>
</g>
<g id="ytick_21">
<g id="line2d_79">
<path d="M59.16 325.16L464.04 325.16" clip-path="url(#p6686218dbd)" style="fill: none; stroke: #b0b0b0; stroke-opacity: 0.3; stroke-width: 0.8; stroke-linecap: square"/>
</g>
<g id="line2d_80">
<g>
<use href="#m1e12759360" x="59.16" y="325.16" style="stroke: #000000; stroke-width: 0.8"/>
</g>
</g>
</g>
<g id="ytick_22">
<g id="line2d_81">
<path d="M59.16 303L464.04 303" clip-path="url(#p6686218dbd)" style="fill: none; stroke: #b0b0b0; stroke-opacity: 0.3; stroke-width: 0.8; stroke-linecap: square"/>
</g>
<g id="line2d_82">
<g>
<use href="#m1e12759360" x="59.16" y="303" style="stroke: #000000; stroke-width: 0.8"/>
</g>
</g>
</g>
</g>
<g id="patch_65">
<path d="M231.23 364.18L291.97 364.18L291.97 353.11L231.23 353.11L231.23 364.18z" clip-path="url(#p6686218dbd)" style="fill: #add8e6; stroke: #000000; stroke-linejoin: miter"/>
</g>
<g id="line2d_83">
<path d="M261.6 364.18L261.6 381.01" clip-path="url(#p6686218dbd)" style="fill: none; stroke: #000000; stroke-linecap: square"/>
</g>
<g id="line2d_84">
<path d="M261.6 353.11L261.6 336.35" clip-path="url(#p6686218dbd)" style="fill: none; stroke: #000000; stroke-linecap: square"/>
</g>
<g id="line2d_85">
<path d="M246.42 381.01L276.78 381.01" clip-path="url(#p6686218dbd)" style="fill: none; stroke: #000000; stroke-linecap: square"/>
</g>
<g id="line2d_86">
<path d="M246.42 336.35L276.78 336.35" clip-path="url(#p6686218dbd)" style="fill: none; stroke: #000000; stroke-linecap: square"/>
</g>
<g id="line2d_87">
<defs>
<path id="m75524f47ae" d="M0 3 C 0.8 3 1.56 2.68 2.12 2.12 C 2.68 1.56 3 0.8 3 0 C 3 -0.8 2.68 -1.56 2.12 -2.12 C 1.56 -2.68 0.8 -3 0 -3 C -0.8 -3 -1.56 -2.68 -2.12 -2.12 C -2.68 -1.56 -3 -0.8 -3 0 C -3 0.8 -2.68 1.56 -2.12 2.12 C -1.56 2.68 -0.8 3 0 3z" style="stroke: #000000"/>
</defs>
<g clip-path="url(#p6686218dbd)">
<use href="#m75524f47ae" x="261.6" y="336.13" style="fill-opacity: 0; stroke: #000000"/>
<use href="#m75524f47ae" x="261.6" y="335.86" style="fill-opacity: 0; stroke: #000000"/>
<use href="#m75524f47ae" x="261.6" y="335.58" style="fill-opacity: 0; stroke: #000000"/>
<use href="#m75524f47ae" x="261.6" y="335.3" style="fill-opacity: 0; stroke: #000000"/>
<use href="#m75524f47ae" x="261.6" y="335.03" style="fill-opacity: 0; stroke: #000000"/>
<use href="#m75524f47ae" x="261.6" y="334.75" style="fill-opacity: 0; stroke: #000000"/>
<use href="#m75524f47ae" x="261.6" y="334.47" style="fill-opacity: 0; stroke: #000000"/>
<use href="#m75524f47ae" x="261.6" y="334.19" style="fill-opacity: 0; stroke: #000000"/>
<use href="#m75524f47ae" x="261.6" y="333.92" style="fill-opacity: 0; stroke: #000000"/>
<use href="#m75524f47ae" x="261.6" y="333.64" style="fill-opacity: 0; stroke: #000000"/>
<use href="#m75524f47ae" x="261.6" y="333.36" style="fill-opacity: 0; stroke: #000000"/>
<use href="#m75524f47ae" x="261.6" y="333.09" style="fill-opacity: 0; stroke: #000000"/>
<use href="#m75524f47ae" x="261.6" y="332.81" style="fill-opacity: 0; stroke: #000000"/>
<use href="#m75524f47ae" x="261.6" y="332.53" style="fill-opacity: 0; stroke: #000000"/>
<use href="#m75524f47ae" x="261.6" y="332.26" style="fill-opacity: 0; stroke: #000000"/>
<use href="#m75524f47ae" x="261.6" y="331.98" style="fill-opacity: 0; stroke: #000000"/>
<use href="#m75524f47ae" x="261.6" y="331.7" style="fill-opacity: 0; stroke: #000000"/>
<use href="#m75524f47ae" x="261.6" y="331.42" style="fill-opacity: 0; stroke: #000000"/>
<use href="#m75524f47ae" x="261.6" y="331.15" style="fill-opacity: 0; stroke: #000000"/>
<use href="#m75524f47ae" x="261.6" y="330.87" style="fill-opacity: 0; stroke: #000000"/>
<use href="#m75524f47ae" x="261.6" y="330.59" style="fill-opacity: 0; stroke: #000000"/>
<use href="#m75524f47ae" x="261.6" y="330.32" style="fill-opacity: 0; stroke: #000000"/>
<use href="#m75524f47ae" x="261.6" y="330.04" style="fill-opacity: 0; stroke: #000000"/>
<use href="#m75524f47ae" x="261.6" y="329.76" style="fill-opacity: 0; stroke: #000000"/>
<use href="#m75524f47ae" x="261.6" y="329.49" style="fill-opacity: 0; stroke: #000000"/>
<use href="#m75524f47ae" x="261.6" y="329.21" style="fill-opacity: 0; stroke: #000000"/>
<use href="#m75524f47ae" x="261.6" y="328.93" style="fill-opacity: 0; stroke: #000000"/>
<use href="#m75524f47ae" x="261.6" y="328.65" style="fill-opacity: 0; stroke: #000000"/>
<use href="#m75524f47ae" x="261.6" y="328.38" style="fill-opacity: 0; stroke: #000000"/>
<use href="#m75524f47ae" x="261.6" y="328.1" style="fill-opacity: 0; stroke: #000000"/>
<use href="#m75524f47ae" x="261.6" y="327.82" style="fill-opacity: 0; stroke: #000000"/>
<use href="#m75524f47ae" x="261.6" y="327.55" style="fill-opacity: 0; stroke: #000000"/>
<use href="#m75524f47ae" x="261.6" y="327.27" style="fill-opacity: 0; stroke: #000000"/>
<use href="#m75524f47ae" x="261.6" y="326.99" style="fill-opacity: 0; stroke: #000000"/>
<use href="#m75524f47ae" x="261.6" y="326.72" style="fill-opacity: 0; stroke: #000000"/>
<use href="#m75524f47ae" x="261.6" y="326.44" style="fill-opacity: 0; stroke: #000000"/>
<use href="#m75524f47ae" x="261.6" y="326.16" style="fill-opacity: 0; stroke: #000000"/>
<use href="#m75524f47ae" x="261.6" y="325.88" style="fill-opacity: 0; stroke: #000000"/>
<use href="#m75524f47ae" x="261.6" y="325.61" style="fill-opacity: 0; stroke: #000000"/>
<use href="#m75524f47ae" x="261.6" y="325.33" style="fill-opacity: 0; stroke: #000000"/>
<use href="#m75524f47ae" x="261.6" y="325.05" style="fill-opacity: 0; stroke: #000000"/>
<use href="#m75524f47ae" x="261.6" y="324.78" style="fill-opacity: 0; stroke: #000000"/>
<use href="#m75524f47ae" x="261.6" y="324.5" style="fill-opacity: 0; stroke: #000000"/>
<use href="#m75524f47ae" x="261.6" y="324.22" style="fill-opacity: 0; stroke: #000000"/>
<use href="#m75524f47ae" x="261.6" y="323.95" style="fill-opacity: 0; stroke: #000000"/>
<use href="#m75524f47ae" x="261.6" y="323.67" style="fill-opacity: 0; stroke: #000000"/>
<use href="#m75524f47ae" x="261.6" y="323.39" style="fill-opacity: 0; stroke: #000000"/>
<use href="#m75524f47ae" x="261.6" y="323.11" style="fill-opacity: 0; stroke: #000000"/>
<use href="#m75524f47ae" x="261.6" y="322.84" style="fill-opacity: 0; stroke: #000000"/>
<use href="#m75524f47ae" x="261.6" y="322.56" style="fill-opacity: 0; stroke: #000000"/>
<use href="#m75524f47ae" x="261.6" y="322.28" style="fill-opacity: 0; stroke: #000000"/>
<use href="#m75524f47ae" x="261.6" y="322.01" style="fill-opacity: 0; stroke: #000000"/>
<use href="#m75524f47ae" x="261.6" y="321.73" style="fill-opacity: 0; stroke: #000000"/>
<use href="#m75524f47ae" x="261.6" y="321.45" style="fill-opacity: 0; stroke: #000000"/>
<use href="#m75524f47ae" x="261.6" y="321.17" style="fill-opacity: 0; stroke: #000000"/>
<use href="#m75524f47ae" x="261.6" y="320.9" style="fill-opacity: 0; stroke: #000000"/>
<use href="#m75524f47ae" x="261.6" y="320.62" style="fill-opacity: 0; stroke: #000000"/>
<use href="#m75524f47ae" x="261.6" y="320.34" style="fill-opacity: 0; stroke: #000000"/>
<use href="#m75524f47ae" x="261.6" y="320.07" style="fill-opacity: 0; stroke: #000000"/>
<use href="#m75524f47ae" x="261.6" y="319.79" style="fill-opacity: 0; stroke: #000000"/>
<use href="#m75524f47ae" x="261.6" y="319.51" style="fill-opacity: 0; stroke: #000000"/>
<use href="#m75524f47ae" x="261.6" y="319.24" style="fill-opacity: 0; stroke: #000000"/>
<use href="#m75524f47ae" x="261.6" y="318.96" style="fill-opacity: 0; stroke: #000000"/>
<use href="#m75524f47ae" x="261.6" y="318.68" style="fill-opacity: 0; stroke: #000000"/>
<use href="#m75524f47ae" x="261.6" y="318.4" style="fill-opacity: 0; stroke: #000000"/>
<use href="#m75524f47ae" x="261.6" y="318.13" style="fill-opacity: 0; stroke: #000000"/>
<use href="#m75524f47ae" x="261.6" y="317.85" style="fill-opacity: 0; stroke: #000000"/>
<use href="#m75524f47ae" x="261.6" y="317.57" style="fill-opacity: 0; stroke: #000000"/>
<use href="#m75524f47ae" x="261.6" y="317.3" style="fill-opacity: 0; stroke: #000000"/>
<use href="#m75524f47ae" x="261.6" y="317.02" style="fill-opacity: 0; stroke: #000000"/>
<use href="#m75524f47ae" x="261.6" y="316.74" style="fill-opacity: 0; stroke: #000000"/>
<use href="#m75524f47ae" x="261.6" y="316.47" style="fill-opacity: 0; stroke: #000000"/>
<use href="#m75524f47ae" x="261.6" y="316.19" style="fill-opacity: 0; stroke: #000000"/>
<use href="#m75524f47ae" x="261.6" y="315.91" style="fill-opacity: 0; stroke: #000000"/>
<use href="#m75524f47ae" x="261.6" y="315.63" style="fill-opacity: 0; stroke: #000000"/>
<use href="#m75524f47ae" x="261.6" y="315.36" style="fill-opacity: 0; stroke: #000000"/>
<use href="#m75524f47ae" x="261.6" y="315.08" style="fill-opacity: 0; stroke: #000000"/>
<use href="#m75524f47ae" x="261.6" y="314.8" style="fill-opacity: 0; stroke: #000000"/>
<use href="#m75524f47ae" x="261.6" y="314.53" style="fill-opacity: 0; stroke: #000000"/>
<use href="#m75524f47ae" x="261.6" y="314.25" style="fill-opacity: 0; stroke: #000000"/>
<use href="#m75524f47ae" x="261.6" y="313.97" style="fill-opacity: 0; stroke: #000000"/>
<use href="#m75524f47ae" x="261.6" y="313.7" style="fill-opacity: 0; stroke: #000000"/>
<use href="#m75524f47ae" x="261.6" y="313.42" style="fill-opacity: 0; stroke: #000000"/>
<use href="#m75524f47ae" x="261.6" y="313.14" style="fill-opacity: 0; stroke: #000000"/>
<use href="#m75524f47ae" x="261.6" y="312.86" style="fill-opacity: 0; stroke: #000000"/>
<use href="#m75524f47ae" x="261.6" y="312.59" style="fill-opacity: 0; stroke: #000000"/>
<use href="#m75524f47ae" x="261.6" y="312.31" style="fill-opacity: 0; stroke: #000000"/>
<use href="#m75524f47ae" x="261.6" y="312.03" style="fill-opacity: 0; stroke: #000000"/>
<use href="#m75524f47ae" x="261.6" y="311.76" style="fill-opacity: 0; stroke: #000000"/>
<use href="#m75524f47ae" x="261.6" y="311.48" style="fill-opacity: 0; stroke: #000000"/>
<use href="#m75524f47ae" x="261.6" y="311.2" style="fill-opacity: 0; stroke: #000000"/>
<use href="#m75524f47ae" x="261.6" y="310.93" style="fill-opacity: 0; stroke: #000000"/>
<use href="#m75524f47ae" x="261.6" y="310.65" style="fill-opacity: 0; stroke: #000000"/>
<use href="#m75524f47ae" x="261.6" y="310.37" style="fill-opacity: 0; stroke: #000000"/>
<use href="#m75524f47ae" x="261.6" y="310.09" style="fill-opacity: 0; stroke: #000000"/>
<use href="#m75524f47ae" x="261.6" y="309.82" style="fill-opacity: 0; stroke: #000000"/>
<use href="#m75524f47ae" x="261.6" y="309.54" style="fill-opacity: 0; stroke: #000000"/>
<use href="#m75524f47ae" x="261.6" y="307.21" style="fill-opacity: 0; stroke: #000000"/>
<use href="#m75524f47ae" x="261.6" y="305.23" style="fill-opacity: 0; stroke: #000000"/>
<use href="#m75524f47ae" x="261.6" y="416.47" style="fill-opacity: 0; stroke: #000000"/>
<use href="#m75524f47ae" x="261.6" y="416.19" style="fill-opacity: 0; stroke: #000000"/>
<use href="#m75524f47ae" x="261.6" y="415.91" style="fill-opacity: 0; stroke: #000000"/>
<use href="#m75524f47ae" x="261.6" y="415.63" style="fill-opacity: 0; stroke: #000000"/>
<use href="#m75524f47ae" x="261.6" y="415.36" style="fill-opacity: 0; stroke: #000000"/>
<use href="#m75524f47ae" x="261.6" y="415.08" style="fill-opacity: 0; stroke: #000000"/>
<use href="#m75524f47ae" x="261.6" y="414.8" style="fill-opacity: 0; stroke: #000000"/>
<use href="#m75524f47ae" x="261.6" y="414.53" style="fill-opacity: 0; stroke: #000000"/>
<use href="#m75524f47ae" x="261.6" y="414.25" style="fill-opacity: 0; stroke: #000000"/>
<use href="#m75524f47ae" x="261.6" y="413.97" style="fill-opacity: 0; stroke: #000000"/>
<use href="#m75524f47ae" x="261.6" y="413.7" style="fill-opacity: 0; stroke: #000000"/>
<use href="#m75524f47ae" x="261.6" y="413.42" style="fill-opacity: 0; stroke: #000000"/>
<use href="#m75524f47ae" x="261.6" y="413.14" style="fill-opacity: 0; stroke: #000000"/>
<use href="#m75524f47ae" x="261.6" y="412.86" style="fill-opacity: 0; stroke: #000000"/>
<use href="#m75524f47ae" x="261.6" y="412.59" style="fill-opacity: 0; stroke: #000000"/>
<use href="#m75524f47ae" x="261.6" y="412.31" style="fill-opacity: 0; stroke: #000000"/>
<use href="#m75524f47ae" x="261.6" y="412.03" style="fill-opacity: 0; stroke: #000000"/>
<use href="#m75524f47ae" x="261.6" y="411.76" style="fill-opacity: 0; stroke: #000000"/>
<use href="#m75524f47ae" x="261.6" y="411.48" style="fill-opacity: 0; stroke: #000000"/>
<use href="#m75524f47ae" x="261.6" y="411.2" style="fill-opacity: 0; stroke: #000000"/>
<use href="#m75524f47ae" x="261.6" y="410.93" style="fill-opacity: 0; stroke: #000000"/>
<use href="#m75524f47ae" x="261.6" y="410.65" style="fill-opacity: 0; stroke: #000000"/>
<use href="#m75524f47ae" x="261.6" y="410.37" style="fill-opacity: 0; stroke: #000000"/>
<use href="#m75524f47ae" x="261.6" y="410.09" style="fill-opacity: 0; stroke: #000000"/>
<use href="#m75524f47ae" x="261.6" y="409.82" style="fill-opacity: 0; stroke: #000000"/>
<use href="#m75524f47ae" x="261.6" y="409.54" style="fill-opacity: 0; stroke: #000000"/>
<use href="#m75524f47ae" x="261.6" y="409.26" style="fill-opacity: 0; stroke: #000000"/>
<use href="#m75524f47ae" x="261.6" y="408.99" style="fill-opacity: 0; stroke: #000000"/>
<use href="#m75524f47ae" x="261.6" y="408.71" style="fill-opacity: 0; stroke: #000000"/>
<use href="#m75524f47ae" x="261.6" y="408.43" style="fill-opacity: 0; stroke: #000000"/>
<use href="#m75524f47ae" x="261.6" y="408.16" style="fill-opacity: 0; stroke: #000000"/>
<use href="#m75524f47ae" x="261.6" y="407.88" style="fill-opacity: 0; stroke: #000000"/>
<use href="#m75524f47ae" x="261.6" y="407.6" style="fill-opacity: 0; stroke: #000000"/>
<use href="#m75524f47ae" x="261.6" y="407.32" style="fill-opacity: 0; stroke: #000000"/>
<use href="#m75524f47ae" x="261.6" y="407.05" style="fill-opacity: 0; stroke: #000000"/>
<use href="#m75524f47ae" x="261.6" y="406.77" style="fill-opacity: 0; stroke: #000000"/>
<use href="#m75524f47ae" x="261.6" y="406.49" style="fill-opacity: 0; stroke: #000000"/>
<use href="#m75524f47ae" x="261.6" y="406.22" style="fill-opacity: 0; stroke: #000000"/>
<use href="#m75524f47ae" x="261.6" y="405.94" style="fill-opacity: 0; stroke: #000000"/>
<use href="#m75524f47ae" x="261.6" y="405.66" style="fill-opacity: 0; stroke: #000000"/>
<use href="#m75524f47ae" x="261.6" y="405.39" style="fill-opacity: 0; stroke: #000000"/>
<use href="#m75524f47ae" x="261.6" y="405.11" style="fill-opacity: 0; stroke: #000000"/>
<use href="#m75524f47ae" x="261.6" y="404.83" style="fill-opacity: 0; stroke: #000000"/>
<use href="#m75524f47ae" x="261.6" y="404.55" style="fill-opacity: 0; stroke: #000000"/>
<use href="#m75524f47ae" x="261.6" y="404.28" style="fill-opacity: 0; stroke: #000000"/>
<use href="#m75524f47ae" x="261.6" y="404" style="fill-opacity: 0; stroke: #000000"/>
<use href="#m75524f47ae" x="261.6" y="403.72" style="fill-opacity: 0; stroke: #000000"/>
<use href="#m75524f47ae" x="261.6" y="403.45" style="fill-opacity: 0; stroke: #000000"/>
<use href="#m75524f47ae" x="261.6" y="403.17" style="fill-opacity: 0; stroke: #000000"/>
<use href="#m75524f47ae" x="261.6" y="402.89" style="fill-opacity: 0; stroke: #000000"/>
<use href="#m75524f47ae" x="261.6" y="402.62" style="fill-opacity: 0; stroke: #000000"/>
<use href="#m75524f47ae" x="261.6" y="402.34" style="fill-opacity: 0; stroke: #000000"/>
<use href="#m75524f47ae" x="261.6" y="402.06" style="fill-opacity: 0; stroke: #000000"/>
<use href="#m75524f47ae" x="261.6" y="401.78" style="fill-opacity: 0; stroke: #000000"/>
<use href="#m75524f47ae" x="261.6" y="401.51" style="fill-opacity: 0; stroke: #000000"/>
<use href="#m75524f47ae" x="261.6" y="401.23" style="fill-opacity: 0; stroke: #000000"/>
<use href="#m75524f47ae" x="261.6" y="400.95" style="fill-opacity: 0; stroke: #000000"/>
<use href="#m75524f47ae" x="261.6" y="400.68" style="fill-opacity: 0; stroke: #000000"/>
<use href="#m75524f47ae" x="261.6" y="400.4" style="fill-opacity: 0; stroke: #000000"/>
<use href="#m75524f47ae" x="261.6" y="400.12" style="fill-opacity: 0; stroke: #000000"/>
<use href="#m75524f47ae" x="261.6" y="399.85" style="fill-opacity: 0; stroke: #000000"/>
<use href="#m75524f47ae" x="261.6" y="399.57" style="fill-opacity: 0; stroke: #000000"/>
<use href="#m75524f47ae" x="261.6" y="399.29" style="fill-opacity: 0; stroke: #000000"/>
<use href="#m75524f47ae" x="261.6" y="399.01" style="fill-opacity: 0; stroke: #000000"/>
<use href="#m75524f47ae" x="261.6" y="398.74" style="fill-opacity: 0; stroke: #000000"/>
<use href="#m75524f47ae" x="261.6" y="398.46" style="fill-opacity: 0; stroke: #000000"/>
<use href="#m75524f47ae" x="261.6" y="398.18" style="fill-opacity: 0; stroke: #000000"/>
<use href="#m75524f47ae" x="261.6" y="397.91" style="fill-opacity: 0; stroke: #000000"/>
<use href="#m75524f47ae" x="261.6" y="397.63" style="fill-opacity: 0; stroke: #000000"/>
<use href="#m75524f47ae" x="261.6" y="397.35" style="fill-opacity: 0; stroke: #000000"/>
<use href="#m75524f47ae" x="261.6" y="397.07" style="fill-opacity: 0; stroke: #000000"/>
<use href="#m75524f47ae" x="261.6" y="396.8" style="fill-opacity: 0; stroke: #000000"/>
<use href="#m75524f47ae" x="261.6" y="396.52" style="fill-opacity: 0; stroke: #000000"/>
<use href="#m75524f47ae" x="261.6" y="396.24" style="fill-opacity: 0; stroke: #000000"/>
<use href="#m75524f47ae" x="261.6" y="395.97" style="fill-opacity: 0; stroke: #000000"/>
<use href="#m75524f47ae" x="261.6" y="395.69" style="fill-opacity: 0; stroke: #000000"/>
<use href="#m75524f47ae" x="261.6" y="395.41" style="fill-opacity: 0; stroke: #000000"/>
<use href="#m75524f47ae" x="261.6" y="395.14" style="fill-opacity: 0; stroke: #000000"/>
<use href="#m75524f47ae" x="261.6" y="394.86" style="fill-opacity: 0; stroke: #000000"/>
<use href="#m75524f47ae" x="261.6" y="394.58" style="fill-opacity: 0; stroke: #000000"/>
<use href="#m75524f47ae" x="261.6" y="394.3" style="fill-opacity: 0; stroke: #000000"/>
<use href="#m75524f47ae" x="261.6" y="394.03" style="fill-opacity: 0; stroke: #000000"/>
<use href="#m75524f47ae" x="261.6" y="393.75" style="fill-opacity: 0; stroke: #000000"/>
<use href="#m75524f47ae" x="261.6" y="393.47" style="fill-opacity: 0; stroke: #000000"/>
<use href="#m75524f47ae" x="261.6" y="393.2" style="fill-opacity: 0; stroke: #000000"/>
<use href="#m75524f47ae" x="261.6" y="392.92" style="fill-opacity: 0; stroke: #000000"/>
<use href="#m75524f47ae" x="261.6" y="392.64" style="fill-opacity: 0; stroke: #000000"/>
<use href="#m75524f47ae" x="261.6" y="392.37" style="fill-opacity: 0; stroke: #000000"/>
<use href="#m75524f47ae" x="261.6" y="392.09" style="fill-opacity: 0; stroke: #000000"/>
<use href="#m75524f47ae" x="261.6" y="391.81" style="fill-opacity: 0; stroke: #000000"/>
<use href="#m75524f47ae" x="261.6" y="391.53" style="fill-opacity: 0; stroke: #000000"/>
<use href="#m75524f47ae" x="261.6" y="391.26" style="fill-opacity: 0; stroke: #000000"/>
<use href="#m75524f47ae" x="261.6" y="390.98" style="fill-opacity: 0; stroke: #000000"/>
<use href="#m75524f47ae" x="261.6" y="390.7" style="fill-opacity: 0; stroke: #000000"/>
<use href="#m75524f47ae" x="261.6" y="390.43" style="fill-opacity: 0; stroke: #000000"/>
<use href="#m75524f47ae" x="261.6" y="390.15" style="fill-opacity: 0; stroke: #000000"/>
<use href="#m75524f47ae" x="261.6" y="389.87" style="fill-opacity: 0; stroke: #000000"/>
<use href="#m75524f47ae" x="261.6" y="389.6" style="fill-opacity: 0; stroke: #000000"/>
<use href="#m75524f47ae" x="261.6" y="389.32" style="fill-opacity: 0; stroke: #000000"/>
<use href="#m75524f47ae" x="261.6" y="389.04" style="fill-opacity: 0; stroke: #000000"/>
<use href="#m75524f47ae" x="261.6" y="388.76" style="fill-opacity: 0; stroke: #000000"/>
<use href="#m75524f47ae" x="261.6" y="388.49" style="fill-opacity: 0; stroke: #000000"/>
<use href="#m75524f47ae" x="261.6" y="388.21" style="fill-opacity: 0; stroke: #000000"/>
<use href="#m75524f47ae" x="261.6" y="387.93" style="fill-opacity: 0; stroke: #000000"/>
<use href="#m75524f47ae" x="261.6" y="387.66" style="fill-opacity: 0; stroke: #000000"/>
<use href="#m75524f47ae" x="261.6" y="387.38" style="fill-opacity: 0; stroke: #000000"/>
<use href="#m75524f47ae" x="261.6" y="387.1" style="fill-opacity: 0; stroke: #000000"/>
<use href="#m75524f47ae" x="261.6" y="386.83" style="fill-opacity: 0; stroke: #000000"/>
<use href="#m75524f47ae" x="261.6" y="386.55" style="fill-opacity: 0; stroke: #000000"/>
<use href="#m75524f47ae" x="261.6" y="386.27" style="fill-opacity: 0; stroke: #000000"/>
<use href="#m75524f47ae" x="261.6" y="385.99" style="fill-opacity: 0; stroke: #000000"/>
<use href="#m75524f47ae" x="261.6" y="385.72" style="fill-opacity: 0; stroke: #000000"/>
<use href="#m75524f47ae" x="261.6" y="385.44" style="fill-opacity: 0; stroke: #000000"/>
<use href="#m75524f47ae" x="261.6" y="385.16" style="fill-opacity: 0; stroke: #000000"/>
<use href="#m75524f47ae" x="261.6" y="384.89" style="fill-opacity: 0; stroke: #000000"/>
<use href="#m75524f47ae" x="261.6" y="384.61" style="fill-opacity: 0; stroke: #000000"/>
<use href="#m75524f47ae" x="261.6" y="384.33" style="fill-opacity: 0; stroke: #000000"/>
<use href="#m75524f47ae" x="261.6" y="384.06" style="fill-opacity: 0; stroke: #000000"/>
<use href="#m75524f47ae" x="261.6" y="383.78" style="fill-opacity: 0; stroke: #000000"/>
<use href="#m75524f47ae" x="261.6" y="383.5" style="fill-opacity: 0; stroke: #000000"/>
<use href="#m75524f47ae" x="261.6" y="383.22" style="fill-opacity: 0; stroke: #000000"/>
<use href="#m75524f47ae" x="261.6" y="382.95" style="fill-opacity: 0; stroke: #000000"/>
<use href="#m75524f47ae" x="261.6" y="382.67" style="fill-opacity: 0; stroke: #000000"/>
<use href="#m75524f47ae" x="261.6" y="382.39" style="fill-opacity: 0; stroke: #000000"/>
<use href="#m75524f47ae" x="261.6" y="382.12" style="fill-opacity: 0; stroke: #000000"/>
<use href="#m75524f47ae" x="261.6" y="381.84" style="fill-opacity: 0; stroke: #000000"/>
<use href="#m75524f47ae" x="261.6" y="381.56" style="fill-opacity: 0; stroke: #000000"/>
<use href="#m75524f47ae" x="261.6" y="381.29" style="fill-opacity: 0; stroke: #000000"/>
<use href="#m75524f47ae" x="261.6" y="436.35" style="fill-opacity: 0; stroke: #000000"/>
<use href="#m75524f47ae" x="261.6" y="428.49" style="fill-opacity: 0; stroke: #000000"/>
<use href="#m75524f47ae" x="261.6" y="426.68" style="fill-opacity: 0; stroke: #000000"/>
<use href="#m75524f47ae" x="261.6" y="419.24" style="fill-opacity: 0; stroke: #000000"/>
<use href="#m75524f47ae" x="261.6" y="443.17" style="fill-opacity: 0; stroke: #000000"/>
<use href="#m75524f47ae" x="261.6" y="446.01" style="fill-opacity: 0; stroke: #000000"/>
<use href="#m75524f47ae" x="261.6" y="424.08" style="fill-opacity: 0; stroke: #000000"/>
<use href="#m75524f47ae" x="261.6" y="436.65" style="fill-opacity: 0; stroke: #000000"/>
<use href="#m75524f47ae" x="261.6" y="466.56" style="fill-opacity: 0; stroke: #000000"/>
<use href="#m75524f47ae" x="261.6" y="469.28" style="fill-opacity: 0; stroke: #000000"/>
<use href="#m75524f47ae" x="261.6" y="421.54" style="fill-opacity: 0; stroke: #000000"/>
<use href="#m75524f47ae" x="261.6" y="433.32" style="fill-opacity: 0; stroke: #000000"/>
<use href="#m75524f47ae" x="261.6" y="425.77" style="fill-opacity: 0; stroke: #000000"/>
<use href="#m75524f47ae" x="261.6" y="456.59" style="fill-opacity: 0; stroke: #000000"/>
<use href="#m75524f47ae" x="261.6" y="430.91" style="fill-opacity: 0; stroke: #000000"/>
<use href="#m75524f47ae" x="261.6" y="420.82" style="fill-opacity: 0; stroke: #000000"/>
<use href="#m75524f47ae" x="261.6" y="430" style="fill-opacity: 0; stroke: #000000"/>
<use href="#m75524f47ae" x="261.6" y="423.66" style="fill-opacity: 0; stroke: #000000"/>
<use href="#m75524f47ae" x="261.6" y="451.45" style="fill-opacity: 0; stroke: #000000"/>
<use href="#m75524f47ae" x="261.6" y="467.16" style="fill-opacity: 0; stroke: #000000"/>
<use href="#m75524f47ae" x="261.6" y="445.11" style="fill-opacity: 0; stroke: #000000"/>
<use href="#m75524f47ae" x="261.6" y="430.3" style="fill-opacity: 0; stroke: #000000"/>
<use href="#m75524f47ae" x="261.6" y="433.02" style="fill-opacity: 0; stroke: #000000"/>
<use href="#m75524f47ae" x="261.6" y="426.07" style="fill-opacity: 0; stroke: #000000"/>
<use href="#m75524f47ae" x="261.6" y="452.66" style="fill-opacity: 0; stroke: #000000"/>
<use href="#m75524f47ae" x="261.6" y="442.21" style="fill-opacity: 0; stroke: #000000"/>
<use href="#m75524f47ae" x="261.6" y="424.86" style="fill-opacity: 0; stroke: #000000"/>
<use href="#m75524f47ae" x="261.6" y="435.44" style="fill-opacity: 0; stroke: #000000"/>
<use href="#m75524f47ae" x="261.6" y="423.05" style="fill-opacity: 0; stroke: #000000"/>
</g>
</g>
<g id="line2d_88">
<path d="M231.23 358.7L291.97 358.7" clip-path="url(#p6686218dbd)" style="fill: none; stroke: #ff7f0e"/>
</g>
<g id="patch_66">
<path d="M59.16 477.96L59.16 297" style="fill: none; stroke: #000000; stroke-width: 0.8; stroke-linejoin: miter; stroke-linecap: square"/>
</g>
<g id="patch_67">
<path d="M464.04 477.96L464.04 297" style="fill: none; stroke: #000000; stroke-width: 0.8; stroke-linejoin: miter; stroke-linecap: square"/>
</g>
<g id="patch_68">
<path d="M59.16 477.96L464.04 477.96" style="fill: none; stroke: #000000; stroke-width: 0.8; stroke-linejoin: miter; stroke-linecap: square"/>
</g>
<g id="patch_69">
<path d="M59.16 297L464.04 297" style="fill: none; stroke: #000000; stroke-width: 0.8; stroke-linejoin: miter; stroke-linecap: square"/>
</g>
</g>
<g id="axes_4">
<g id="patch_70">
<path d="M660.84 477.96L1065.96 477.96L1065.96 297L660.84 297z" style="fill: #ffffff"/>
</g>
<g id="matplotlib.axis_7">
<g id="xtick_17">
<g id="line2d_89">
<path d="M679.25 477.96L679.25 297" clip-path="url(#p095fc12e16)" style="fill: none; stroke: #b0b0b0; stroke-opacity: 0.3; stroke-width: 0.8; stroke-linecap: square"/>
</g>
<g id="line2d_90">
<g>
<use href="#m479de51f6e" x="679.25" y="477.96" style="stroke: #000000; stroke-width: 0.8"/>
</g>
</g>
</g>
<g id="xtick_18">
<g id="line2d_91">
<path d="M753.66 477.96L753.66 297" clip-path="url(#p095fc12e16)" style="fill: none; stroke: #b0b0b0; stroke-opacity: 0.3; stroke-width: 0.8; stroke-linecap: square"/>
</g>
<g id="line2d_92">
<g>
<use href="#m479de51f6e" x="753.66" y="477.96" style="stroke: #000000; stroke-width: 0.8"/>
</g>
</g>
</g>
<g id="xtick_19">
<g id="line2d_93">
<path d="M828.06 477.96L828.06 297" clip-path="url(#p095fc12e16)" style="fill: none; stroke: #b0b0b0; stroke-opacity: 0.3; stroke-width: 0.8; stroke-linecap: square"/>
</g>
<g id="line2d_94">
<g>
<use href="#m479de51f6e" x="828.06" y="477.96" style="stroke: #000000; stroke-width: 0.8"/>
</g>
</g>
</g>
<g id="xtick_20">
<g id="line2d_95">
<path d="M902.46 477.96L902.46 297" clip-path="url(#p095fc12e16)" style="fill: none; stroke: #b0b0b0; stroke-opacity: 0.3; stroke-width: 0.8; stroke-linecap: square"/>
</g>
<g id="line2d_96">
<g>
<use href="#m479de51f6e" x="902.46" y="477.96" style="stroke: #000000; stroke-width: 0.8"/>
</g>
</g>
</g>
<g id="xtick_21">
<g id="line2d_97">
<path d="M976.86 477.96L976.86 297" clip-path="url(#p095fc12e16)" style="fill: none; stroke: #b0b0b0; stroke-opacity: 0.3; stroke-width: 0.8; stroke-linecap: square"/>
</g>
<g id="line2d_98">
<g>
<use href="#m479de51f6e" x="976.86" y="477.96" style="stroke: #000000; stroke-width: 0.8"/>
</g>
</g>
</g>
<g id="xtick_22">
<g id="line2d_99">
<path d="M1051.27 477.96L1051.27 297" clip-path="url(#p095fc12e16)" style="fill: none; stroke: #b0b0b0; stroke-opacity: 0.3; stroke-width: 0.8; stroke-linecap: square"/>
</g>
<g id="line2d_100">
<g>
<use href="#m479de51f6e" x="1051.27" y="477.96" style="stroke: #000000; stroke-width: 0.8"/>
</g>
</g>
</g>
</g>
<g id="matplotlib.axis_8">
<g id="ytick_23">
<g id="line2d_101">
<path d="M660.84 472.17L1065.96 472.17" clip-path="url(#p095fc12e16)" style="fill: none; stroke: #b0b0b0; stroke-opacity: 0.3; stroke-width: 0.8; stroke-linecap: square"/>
</g>
<g id="line2d_102">
<g>
<use href="#m1e12759360" x="660.84" y="472.17" style="stroke: #000000; stroke-width: 0.8"/>
</g>
</g>
</g>
<g id="ytick_24">
<g id="line2d_103">
<path d="M660.84 444.35L1065.96 444.35" clip-path="url(#p095fc12e16)" style="fill: none; stroke: #b0b0b0; stroke-opacity: 0.3; stroke-width: 0.8; stroke-linecap: square"/>
</g>
<g id="line2d_104">
<g>
<use href="#m1e12759360" x="660.84" y="444.35" style="stroke: #000000; stroke-width: 0.8"/>
</g>
</g>
</g>
<g id="ytick_25">
<g id="line2d_105">
<path d="M660.84 416.52L1065.96 416.52" clip-path="url(#p095fc12e16)" style="fill: none; stroke: #b0b0b0; stroke-opacity: 0.3; stroke-width: 0.8; stroke-linecap: square"/>
</g>
<g id="line2d_106">
<g>
<use href="#m1e12759360" x="660.84" y="416.52" style="stroke: #000000; stroke-width: 0.8"/>
</g>
</g>
</g>
<g id="ytick_26">
<g id="line2d_107">
<path d="M660.84 388.7L1065.96 388.7" clip-path="url(#p095fc12e16)" style="fill: none; stroke: #b0b0b0; stroke-opacity: 0.3; stroke-width: 0.8; stroke-linecap: square"/>
</g>
<g id="line2d_108">
<g>
<use href="#m1e12759360" x="660.84" y="388.7" style="stroke: #000000; stroke-width: 0.8"/>
</g>
</g>
</g>
<g id="ytick_27">
<g id="line2d_109">
<path d="M660.84 360.87L1065.96 360.87" clip-path="url(#p095fc12e16)" style="fill: none; stroke: #b0b0b0; stroke-opacity: 0.3; stroke-width: 0.8; stroke-linecap: square"/>
</g>
<g id="line2d_110">
<g>
<use href="#m1e12759360" x="660.84" y="360.87" style="stroke: #000000; stroke-width: 0.8"/>
</g>
</g>
</g>
<g id="ytick_28">
<g id="line2d_111">
<path d="M660.84 333.05L1065.96 333.05" clip-path="url(#p095fc12e16)" style="fill: none; stroke: #b0b0b0; stroke-opacity: 0.3; stroke-width: 0.8; stroke-linecap: square"/>
</g>
<g id="line2d_112">
<g>
<use href="#m1e12759360" x="660.84" y="333.05" style="stroke: #000000; stroke-width: 0.8"/>
</g>
</g>
</g>
<g id="ytick_29">
<g id="line2d_113">
<path d="M660.84 305.23L1065.96 305.23" clip-path="url(#p095fc12e16)" style="fill: none; stroke: #b0b0b0; stroke-opacity: 0.3; stroke-width: 0.8; stroke-linecap: square"/>
</g>
<g id="line2d_114">
<g>
<use href="#m1e12759360" x="660.84" y="305.23" style="stroke: #000000; stroke-width: 0.8"/>
</g>
</g>
</g>
</g>
<g id="line2d_115">
<path d="M679.25 305.23L682.97 468.02L686.69 407.91L690.41 440.2L694.13 436.94L697.86 445.64L701.58 432.97L705.3 441.06L709.02 455.39L712.74 433.39L716.46 452.55L720.18 421.62L723.9 455.81L727.62 423.74L731.34 461.21L735.06 423.18L738.78 458.72L742.5 439.35L746.22 444.97L749.94 434.73L753.66 436.86L757.38 446.73L761.1 433.85L764.82 458.72L768.54 434.1L772.26 469.58L775.98 426.72L779.7 460.72L783.42 421.9L787.14 453.83L790.86 430.98L794.58 443.65L798.3 442.28L802.02 445.95L805.74 454.54L809.46 431.18L813.18 464.27L816.9 421.47L820.62 458.51L824.34 419.2L828.06 457.8L831.78 423.89L835.5 456.1L839.22 427.63L842.94 450.52L846.66 435.81L850.38 433.18L854.1 446.73L857.82 421.05L861.54 454.07L865.26 415.94L868.98 455.18L872.7 428.14L876.42 457.38L880.14 427.01L883.86 458.72L887.58 427.15L891.3 444.32L895.02 432.26L898.74 432.54L902.46 448.58L906.18 432.74L909.9 458.51L913.62 427.63L917.34 469.15L921.06 417.5L924.78 462.27L928.5 426.58L932.22 450.71L935.94 430.27L939.66 446.08L943.38 441.96L947.1 438.79L950.82 456.52L954.54 430.98L958.26 462.48L961.98 425.87L965.7 457.18L969.42 419.2L973.14 464.27L976.86 427.15L980.58 455.67L984.3 442.28L988.02 451.63L991.74 441.62L995.46 443.07L999.18 444.75L1002.9 428.57L1006.62 452.69L1010.34 422.1L1014.06 462.06L1017.78 424.08L1021.5 468.44L1025.22 423.89L1028.94 458.08L1032.67 435.81L1036.39 432.97L1040.11 437.23L1043.83 434.1L1047.55 439.78" clip-path="url(#p095fc12e16)" style="fill: none; stroke: #008000; stroke-opacity: 0.7; stroke-width: 1.5; stroke-linecap: square"/>
</g>
<g id="line2d_116">
<path d="M660.84 444.35L1065.96 444.35" clip-path="url(#p095fc12e16)" style="fill: none; stroke: #000000; stroke-opacity: 0.3; stroke-width: 1.5; stroke-linecap: square"/>
</g>
<g id="patch_71">
<path d="M660.84 477.96L660.84 297" style="fill: none; stroke: #000000; stroke-width: 0.8; stroke-linejoin: miter; stroke-linecap: square"/>
</g>
<g id="patch_72">
<path d="M1065.96 477.96L1065.96 297" style="fill: none; stroke: #000000; stroke-width: 0.8; stroke-linejoin: miter; stroke-linecap: square"/>
</g>
<g id="patch_73">
<path d="M660.84 477.96L1065.96 477.96" style="fill: none; stroke: #000000; stroke-width: 0.8; stroke-linejoin: miter; stroke-linecap: square"/>
</g>
<g id="patch_74">
<path d="M660.84 297L1065.96 297" style="fill: none; stroke: #000000; stroke-width: 0.8; stroke-linejoin: miter; stroke-linecap: square"/>
</g>
</g>
<g id="axes_5">
<g id="patch_75">
<path d="M59.16 717.24L464.04 717.24L464.04 536.28L59.16 536.28z" style="fill: #ffffff"/>
</g>
<g id="matplotlib.axis_9">
<g id="xtick_23">
<g id="line2d_117">
<path d="M77.56 717.24L77.56 536.28" clip-path="url(#pad9e19218d)" style="fill: none; stroke: #b0b0b0; stroke-opacity: 0.3; stroke-width: 0.8; stroke-linecap: square"/>
</g>
<g id="line2d_118">
<g>
<use href="#m479de51f6e" x="77.56" y="717.24" style="stroke: #000000; stroke-width: 0.8"/>
</g>
</g>
</g>
<g id="xtick_24">
<g id="line2d_119">
<path d="M138.91 717.24L138.91 536.28" clip-path="url(#pad9e19218d)" style="fill: none; stroke: #b0b0b0; stroke-opacity: 0.3; stroke-width: 0.8; stroke-linecap: square"/>
</g>
<g id="line2d_120">
<g>
<use href="#m479de51f6e" x="138.91" y="717.24" style="stroke: #000000; stroke-width: 0.8"/>
</g>
</g>
</g>
<g id="xtick_25">
<g id="line2d_121">
<path d="M200.25 717.24L200.25 536.28" clip-path="url(#pad9e19218d)" style="fill: none; stroke: #b0b0b0; stroke-opacity: 0.3; stroke-width: 0.8; stroke-linecap: square"/>
</g>
<g id="line2d_122">
<g>
<use href="#m479de51f6e" x="200.25" y="717.24" style="stroke: #000000; stroke-width: 0.8"/>
</g>
</g>
</g>
<g id="xtick_26">
<g id="line2d_123">
<path d="M261.6 717.24L261.6 536.28" clip-path="url(#pad9e19218d)" style="fill: none; stroke: #b0b0b0; stroke-opacity: 0.3; stroke-width: 0.8; stroke-linecap: square"/>
</g>
<g id="line2d_124">
<g>
<use href="#m479de51f6e" x="261.6" y="717.24" style="stroke: #000000; stroke-width: 0.8"/>
</g>
</g>
</g>
<g id="xtick_27">
<g id="line2d_125">
<path d="M322.95 717.24L322.95 536.28" clip-path="url(#pad9e19218d)" style="fill: none; stroke: #b0b0b0; stroke-opacity: 0.3; stroke-width: 0.8; stroke-linecap: square"/>
</g>
<g id="line2d_126">
<g>
<use href="#m479de51f6e" x="322.95" y="717.24" style="stroke: #000000; stroke-width: 0.8"/>
</g>
</g>
</g>
<g id="xtick_28">
<g id="line2d_127">
<path d="M384.29 717.24L384.29 536.28" clip-path="url(#pad9e19218d)" style="fill: none; stroke: #b0b0b0; stroke-opacity: 0.3; stroke-width: 0.8; stroke-linecap: square"/>
</g>
<g id="line2d_128">
<g>
<use href="#m479de51f6e" x="384.29" y="717.24" style="stroke: #000000; stroke-width: 0.8"/>
</g>
</g>
</g>
<g id="xtick_29">
<g id="line2d_129">
<path d="M445.64 717.24L445.64 536.28" clip-path="url(#pad9e19218d)" style="fill: none; stroke: #b0b0b0; stroke-opacity: 0.3; stroke-width: 0.8; stroke-linecap: square"/>
</g>
<g id="line2d_130">
<g>
<use href="#m479de51f6e" x="445.64" y="717.24" style="stroke: #000000; stroke-width: 0.8"/>
</g>
</g>
</g>
</g>
<g id="matplotlib.axis_10">
<g id="ytick_30">
<g id="line2d_131">
<path d="M59.16 708.6L464.04 708.6" clip-path="url(#pad9e19218d)" style="fill: none; stroke: #b0b0b0; stroke-opacity: 0.3; stroke-width: 0.8; stroke-linecap: square"/>
</g>
<g id="line2d_132">
<g>
<use href="#m1e12759360" x="59.16" y="708.6" style="stroke: #000000; stroke-width: 0.8"/>
</g>
</g>
</g>
<g id="ytick_31">
<g id="line2d_133">
<path d="M59.16 686.44L464.04 686.44" clip-path="url(#pad9e19218d)" style="fill: none; stroke: #b0b0b0; stroke-opacity: 0.3; stroke-width: 0.8; stroke-linecap: square"/>
</g>
<g id="line2d_134">
<g>
<use href="#m1e12759360" x="59.16" y="686.44" style="stroke: #000000; stroke-width: 0.8"/>
</g>
</g>
</g>
<g id="ytick_32">
<g id="line2d_135">
<path d="M59.16 664.28L464.04 664.28" clip-path="url(#pad9e19218d)" style="fill: none; stroke: #b0b0b0; stroke-opacity: 0.3; stroke-width: 0.8; stroke-linecap: square"/>
</g>
<g id="line2d_136">
<g>
<use href="#m1e12759360" x="59.16" y="664.28" style="stroke: #000000; stroke-width: 0.8"/>
</g>
</g>
</g>
<g id="ytick_33">
<g id="line2d_137">
<path d="M59.16 642.12L464.04 642.12" clip-path="url(#pad9e19218d)" style="fill: none; stroke: #b0b0b0; stroke-opacity: 0.3; stroke-width: 0.8; stroke-linecap: square"/>
</g>
<g id="line2d_138">
<g>
<use href="#m1e12759360" x="59.16" y="642.12" style="stroke: #000000; stroke-width: 0.8"/>
</g>
</g>
</g>
<g id="ytick_34">
<g id="line2d_139">
<path d="M59.16 619.96L464.04 619.96" clip-path="url(#pad9e19218d)" style="fill: none; stroke: #b0b0b0; stroke-opacity: 0.3; stroke-width: 0.8; stroke-linecap: square"/>
</g>
<g id="line2d_140">
<g>
<use href="#m1e12759360" x="59.16" y="619.96" style="stroke: #000000; stroke-width: 0.8"/>
</g>
</g>
</g>
<g id="ytick_35">
<g id="line2d_141">
<path d="M59.16 597.8L464.04 597.8" clip-path="url(#pad9e19218d)" style="fill: none; stroke: #b0b0b0; stroke-opacity: 0.3; stroke-width: 0.8; stroke-linecap: square"/>
</g>
<g id="line2d_142">
<g>
<use href="#m1e12759360" x="59.16" y="597.8" style="stroke: #000000; stroke-width: 0.8"/>
</g>
</g>
</g>
<g id="ytick_36">
<g id="line2d_143">
<path d="M59.16 575.63L464.04 575.63" clip-path="url(#pad9e19218d)" style="fill: none; stroke: #b0b0b0; stroke-opacity: 0.3; stroke-width: 0.8; stroke-linecap: square"/>
</g>
<g id="line2d_144">
<g>
<use href="#m1e12759360" x="59.16" y="575.63" style="stroke: #000000; stroke-width: 0.8"/>
</g>
</g>
</g>
<g id="ytick_37">
<g id="line2d_145">
<path d="M59.16 553.47L464.04 553.47" clip-path="url(#pad9e19218d)" style="fill: none; stroke: #b0b0b0; stroke-opacity: 0.3; stroke-width: 0.8; stroke-linecap: square"/>
</g>
<g id="line2d_146">
<g>
<use href="#m1e12759360" x="59.16" y="553.47" style="stroke: #000000; stroke-width: 0.8"/>
</g>
</g>
</g>
</g>
<g id="series2">
<path d="M77.56 571.27L77.56 626.98L77.8 567.23L77.8 623.85L78.04 569.21L78.04 621.31L78.28 574.59L78.28 618.56L78.52 574.2L78.52 618.98L78.76 567.64L78.76 618.54L79 575.08L79 618.81L79.24 561.65L79.24 618.84L79.48 568.89L79.48 620.12L79.72 572.95L79.72 619.43L79.96 574.19L79.96 619.7L80.2 574.33L80.2 638.77L80.44 574.45L80.44 618.52L80.68 573.15L80.68 618.59L80.92 572.6L80.92 675.63L81.16 572.09L81.16 621.3L81.4 565.42L81.4 620.33L81.64 568.95L81.64 619.12L81.88 571.31L81.88 648.74L82.12 565.54L82.12 618.92L82.36 558.64L82.36 626.43L82.6 574.83L82.6 625.75L82.84 571.42L82.84 619.43L83.08 575.06L83.08 618.52L83.32 558.64L83.32 627.04L83.56 572.5L83.56 619.29L83.8 572.96L83.8 622.91L84.04 566.88L84.04 645.41L84.28 571.22L84.28 625.27L84.52 572.5L84.52 626.52L84.76 572.67L84.76 620.81L85 574.48L85 626.11L85.24 575.08L85.24 620.53L85.48 574.72L85.48 619.11L85.72 570.41L85.72 620.73L85.96 574.69L85.96 619.52L86.2 554.34L86.2 624.7L86.44 575.08L86.44 625.9L86.68 568.36L86.68 618.66L86.92 574.85L86.92 618.72L87.16 574.38L87.16 619.86L87.4 567.52L87.4 620.55L87.64 572.55L87.64 628.56L87.88 568.08L87.88 628.22L88.12 571.09L88.12 631.7L88.36 569.72L88.36 624.06L88.6 575L88.6 623.22L88.84 572.23L88.84 619.14L89.08 572.57L89.08 619.78L89.32 567.68L89.32 618.52L89.56 573.81L89.56 625.93L89.8 571.59L89.8 619.17L90.03 575.05L90.03 627.28L90.27 573.62L90.27 619.39L90.51 574.06L90.51 619.44L90.75 574.86L90.75 623.96L90.99 568.58L90.99 618.52L91.23 553.7L91.23 618.95L91.47 565.74L91.47 627.23L91.71 571.69L91.71 626.36L91.95 571.51L91.95 622.51L92.19 571.11L92.19 621.6L92.43 570.62L92.43 618.92L92.67 574.86L92.67 626.78L92.91 573.19L92.91 624.59L93.15 574.52L93.15 654.17L93.39 573.5L93.39 618.72L93.63 574.99L93.63 618.9L93.87 565.95L93.87 619.83L94.11 574.63L94.11 619.49L94.35 570.68L94.35 618.54L94.59 574.2L94.59 620.04L94.83 567.63L94.83 620.42L95.07 570.81L95.07 619.23L95.31 574.91L95.31 631.51L95.55 559.29L95.55 619.5L95.79 566.37L95.79 619.81L96.03 567.11L96.03 622.37L96.27 571.92L96.27 620.9L96.51 574.87L96.51 618.83L96.75 574.72L96.75 625.21L96.99 566.69L96.99 621.07L97.23 572.11L97.23 620.51L97.47 574.76L97.47 623.79L97.71 567.46L97.71 624.44L97.95 560.58L97.95 626.25L98.19 571.92L98.19 625.51L98.43 573.7L98.43 623.09L98.67 573.43L98.67 623.91L98.91 574.52L98.91 618.7L99.15 575.07L99.15 623.56L99.39 567.59L99.39 619.06L99.63 572.95L99.63 619.08L99.87 572.16L99.87 618.62L100.11 574.07L100.11 619.97L100.35 569.58L100.35 618.52L100.59 575.07L100.59 622.91L100.83 555.85L100.83 624.37L101.07 575.07L101.07 624.85L101.31 574.93L101.31 618.64L101.55 565.96L101.55 622.68L101.79 560.36L101.79 626.03L102.03 573.29L102.03 618.52L102.27 572.41L102.27 618.81L102.51 567.65L102.51 631.33L102.75 573.93L102.75 620.54L102.99 571.68L102.99 618.75L103.23 570.52L103.23 621.36L103.47 573.85L103.47 619.57L103.71 561.65L103.71 622.89L103.95 569.37L103.95 621.27L104.19 567.02L104.19 623.36L104.43 574.86L104.43 626.26L104.66 566.59L104.66 623.68L104.9 575.08L104.9 624.14L105.14 569.55L105.14 623.93L105.38 568.68L105.38 618.55L105.62 574.9L105.62 628.33L105.86 573.37L105.86 621.82L106.1 568.6L106.1 619.15L106.34 575.08L106.34 620.28L106.58 562.94L106.58 621.12L106.82 568.95L106.82 621.12L107.06 572.51L107.06 619.03L107.3 569.94L107.3 619.11L107.54 574.58L107.54 619.71L107.78 574.7L107.78 624.95L108.02 573.8L108.02 620.31L108.26 574.77L108.26 618.52L108.5 573.91L108.5 620.45L108.74 566.32L108.74 618.84L108.98 571.88L108.98 618.52L109.22 573.95L109.22 629.04L109.46 574.36L109.46 619.26L109.7 566.24L109.7 621.34L109.94 573.15L109.94 667.77L110.18 565.71L110.18 618.53L110.42 556.71L110.42 627.32L110.66 572.43L110.66 628.09L110.9 567.24L110.9 618.79L111.14 569.7L111.14 620.14L111.38 571.79L111.38 619.79L111.62 573.31L111.62 618.73L111.86 567.56L111.86 647.41L112.1 573.43L112.1 624.97L112.34 550.35L112.34 624.57L112.58 575.03L112.58 623.19L112.82 573.28L112.82 618.52L113.06 572.45L113.06 618.95L113.3 566.26L113.3 621.08L113.54 574.47L113.54 665.96L113.78 561.01L113.78 619.88L114.02 570.62L114.02 620.42L114.26 570.07L114.26 626.08L114.5 571.22L114.5 634.35L114.74 565.88L114.74 619.13L114.98 574L114.98 619.24L115.22 573.53L115.22 629.42L115.46 561.01L115.46 618.94L115.7 575.06L115.7 631.94L115.94 574.64L115.94 620.13L116.18 566.91L116.18 622.8L116.42 568.2L116.42 618.69L116.66 574.96L116.66 626.06L116.9 571.53L116.9 618.82L117.14 572.84L117.14 623.64L117.38 571.63L117.38 618.72L117.62 570.84L117.62 631.94L117.86 574.16L117.86 618.84L118.1 566.07L118.1 624.08L118.34 572.97L118.34 626.04L118.58 571.23L118.58 619.06L118.82 571.15L118.82 618.58L119.05 560.58L119.05 621.94L119.29 575.04L119.29 633.63L119.53 573.43L119.53 620.71L119.77 569.39L119.77 624.95L120.01 568.6L120.01 620.55L120.25 569.88L120.25 620.9L120.49 574.96L120.49 620.79L120.73 566.95L120.73 620.47L120.97 568.81L120.97 620.04L121.21 567.57L121.21 639.67L121.45 572.41L121.45 619.27L121.69 566.91L121.69 619.11L121.93 552.2L121.93 619.03L122.17 575.07L122.17 624.98L122.41 575.08L122.41 618.61L122.65 574.46L122.65 618.86L122.89 574.48L122.89 621.22L123.13 574.74L123.13 627.28L123.37 571.95L123.37 619L123.61 575.07L123.61 619.78L123.85 571.68L123.85 620.95L124.09 560.79L124.09 623.17L124.33 570.6L124.33 628.93L124.57 575.08L124.57 626.32L124.81 574.14L124.81 625.77L125.05 566.5L125.05 620.44L125.29 572.25L125.29 620.12L125.53 568.66L125.53 618.99L125.77 570.86L125.77 628.45L126.01 571.44L126.01 618.55L126.25 574.72L126.25 618.85L126.49 571.86L126.49 622.99L126.73 575.07L126.73 646.44L126.97 568.81L126.97 619.18L127.21 566.09L127.21 628.12L127.45 567.97L127.45 620.07L127.69 575.06L127.69 634.84L127.93 573.96L127.93 618.57L128.17 574.09L128.17 627.11L128.41 574.96L128.41 618.59L128.65 556.49L128.65 619.94L128.89 568.88L128.89 627L129.13 574.12L129.13 628.3L129.37 567.82L129.37 627.39L129.61 568.89L129.61 625.82L129.85 574.92L129.85 618.97L130.09 569.35L130.09 618.52L130.33 567.49L130.33 620.45L130.57 574.7L130.57 618.54L130.81 571.87L130.81 628.66L131.05 571.1L131.05 618.52L131.29 571.46L131.29 619.45L131.53 558.43L131.53 618.85L131.77 570.82L131.77 618.52L132.01 571.19L132.01 620.92L132.25 568.46L132.25 618.55L132.49 568.79L132.49 627.3L132.73 559.93L132.73 623.38L132.97 570L132.97 619.76L133.21 567.75L133.21 658.52L133.44 567.31L133.44 625.24L133.68 574.83L133.68 619.46L133.92 575.07L133.92 626.21L134.16 570.95L134.16 627.95L134.4 574.63L134.4 622.39L134.64 571.98L134.64 619.63L134.88 566.38L134.88 635.32L135.12 573.68L135.12 628.25L135.36 574.46L135.36 619.6L135.6 557.48L135.6 618.57L135.84 570.87L135.84 626.63L136.08 574.98L136.08 623.03L136.32 573.67L136.32 618.96L136.56 574.91L136.56 621.69L136.8 570.8L136.8 619.35L137.04 568.35L137.04 627.72L137.28 573.7L137.28 640.76L137.52 561.44L137.52 618.82L137.76 572.24L137.76 618.53L138 574.63L138 619.56L138.24 574.48L138.24 629.34L138.48 574.02L138.48 618.91L138.72 573.04L138.72 633.63L138.96 575.02L138.96 628.93L139.2 569.56L139.2 618.52L139.44 571.81L139.44 619.27L139.68 574.21L139.68 625.7L139.92 575.02L139.92 618.58L140.16 569.4L140.16 633.33L140.4 574.91L140.4 625.96L140.64 574.91L140.64 618.67L140.88 574.91L140.88 622.02L141.12 575.02L141.12 621.56L141.36 567.07L141.36 623.47L141.6 574.37L141.6 619.34L141.84 574.17L141.84 619.87L142.08 568.32L142.08 619L142.32 571.33L142.32 653.87L142.56 574.74L142.56 618.76L142.8 573.24L142.8 627.4L143.04 567.46L143.04 627.04L143.28 573.71L143.28 619.69L143.52 570.15L143.52 626.98L143.76 574.99L143.76 620.83L144 569.92L144 619.19L144.24 569.2L144.24 619.61L144.48 568.43L144.48 628.76L144.72 570.65L144.72 619.56L144.96 573.74L144.96 621.84L145.2 575.04L145.2 682.45L145.44 572.46L145.44 619.29L145.68 558.94L145.68 625.47L145.92 574.73L145.92 618.61L146.16 574.39L146.16 624.12L146.4 572.28L146.4 625.42L146.64 569.62L146.64 626.02L146.88 567.24L146.88 629L147.12 574.93L147.12 623.75L147.36 574.75L147.36 629.05L147.6 568.85L147.6 619.18L147.83 571.03L147.83 621.16L148.07 570.01L148.07 618.89L148.31 565.39L148.31 618.56L148.55 566.48L148.55 620.33L148.79 568.15L148.79 623.89L149.03 561.86L149.03 624.9L149.27 573.56L149.27 618.52L149.51 571.07L149.51 628.24L149.75 574.75L149.75 619.03L149.99 569.46L149.99 619.26L150.23 569.48L150.23 625.92L150.47 570.01L150.47 627.18L150.71 573.15L150.71 624.17L150.95 573.69L150.95 619.5L151.19 573.36L151.19 620.55L151.43 575.07L151.43 685.29L151.67 568.13L151.67 619.67L151.91 555.42L151.91 625.4L152.15 573.62L152.15 624.97L152.39 572.15L152.39 620.61L152.63 570L152.63 627.23L152.87 573.66L152.87 619.87L153.11 568.35L153.11 624.4L153.35 566.84L153.35 622.66L153.59 573.62L153.59 619.49L153.83 574.9L153.83 631.7L154.07 569.44L154.07 622.2L154.31 565.47L154.31 621.34L154.55 574.87L154.55 618.6L154.79 570.13L154.79 629.39L155.03 558.21L155.03 639.07L155.27 566.82L155.27 618.52L155.51 574.93L155.51 628.28L155.75 575L155.75 621.27L155.99 565.57L155.99 618.63L156.23 574.95L156.23 625.69L156.47 574.78L156.47 620.27L156.71 571.86L156.71 623.78L156.95 573.14L156.95 625.82L157.19 569.59L157.19 633.93L157.43 574.73L157.43 618.53L157.67 566.93L157.67 625.72L157.91 574.62L157.91 623.48L158.15 569.31L158.15 627.52L158.39 575.04L158.39 619.14L158.63 572.9L158.63 625.02L158.87 575.07L158.87 626.74L159.11 574.12L159.11 619.65L159.35 574.13L159.35 620.08L159.59 558.86L159.59 619.51L159.83 573.06L159.83 630L160.07 575.05L160.07 618.96L160.31 565.42L160.31 619.49L160.55 567.38L160.55 618.6L160.79 566.89L160.79 624.67L161.03 574.49L161.03 620.22L161.27 573.57L161.27 629.52L161.51 574.58L161.51 619.21L161.75 574.93L161.75 619.69L161.99 575.07L161.99 624.46L162.22 555.07L162.22 620.62L162.46 574.93L162.46 622.07L162.7 574.78L162.7 620.18L162.94 567.86L162.94 621.57L163.18 572.79L163.18 627.25L163.42 574.75L163.42 619.12L163.66 570.71L163.66 621.13L163.9 555.2L163.9 623.37L164.14 572.37L164.14 618.57L164.38 574.3L164.38 628.69L164.62 572.48L164.62 638.34L164.86 571.23L164.86 619.02L165.1 572.28L165.1 624.58L165.34 573.55L165.34 625.59L165.58 562.29L165.58 622.53L165.82 567.64L165.82 636.05L166.06 574.77L166.06 618.57L166.3 574.9L166.3 621.23L166.54 574.96L166.54 624.28L166.78 565.72L166.78 627.67L167.02 566.44L167.02 622.69L167.26 574.56L167.26 622.15L167.5 565.91L167.5 619.9L167.74 561.65L167.74 621.75L167.98 572.58L167.98 621.55L168.22 572.67L168.22 627.41L168.46 566.92L168.46 625.81L168.7 575.06L168.7 624.18L168.94 574.11L168.94 627.82L169.18 571.57L169.18 618.54L169.42 575.04L169.42 663.36L169.66 574.54L169.66 620.56L169.9 572.97L169.9 624.43L170.14 567.52L170.14 619.28L170.38 569.43L170.38 620.59L170.62 568.38L170.62 625.76L170.86 569.43L170.86 618.52L171.1 570.2L171.1 619.25L171.34 568.04L171.34 620.81L171.58 570.55L171.58 633.63L171.82 569.8L171.82 619.14L172.06 574.19L172.06 625.74L172.3 574.81L172.3 619.02L172.54 569.5L172.54 619.32L172.78 559.93L172.78 621.54L173.02 566.84L173.02 622.87L173.26 571.61L173.26 626.88L173.5 574.02L173.5 626.87L173.74 566.53L173.74 619.04L173.98 574.85L173.98 628.49L174.22 572.5L174.22 622.6L174.46 575L174.46 619.88L174.7 554.77L174.7 624.86L174.94 571.85L174.94 627.25L175.18 568.78L175.18 620.71L175.42 574.31L175.42 627.65L175.66 568.81L175.66 618.64L175.9 570.26L175.9 618.73L176.14 571.04L176.14 624.65L176.38 566.27L176.38 633.02L176.61 573.25L176.61 621.93L176.85 573.4L176.85 620.9L177.09 570.41L177.09 618.68L177.33 568.28L177.33 624.47L177.57 573.99L177.57 624.25L177.81 570.71L177.81 618.67L178.05 574.65L178.05 619.09L178.29 572.11L178.29 625.31L178.53 560.79L178.53 627.57L178.77 575.04L178.77 626.67L179.01 569.92L179.01 620.95L179.25 575.08L179.25 634.54L179.49 566.13L179.49 620.38L179.73 556.71L179.73 618.76L179.97 573.45L179.97 620.88L180.21 570.02L180.21 618.96L180.45 552.75L180.45 618.72L180.69 569.87L180.69 619.84L180.93 575.01L180.93 618.54L181.17 571.99L181.17 620.62L181.41 572.04L181.41 623.51L181.65 566.61L181.65 622.83L181.89 575.07L181.89 629L182.13 573.08L182.13 627L182.37 571.2L182.37 622.58L182.61 572.12L182.61 627.25L182.85 575.03L182.85 620.38L183.09 571.65L183.09 625.28L183.33 574.6L183.33 619.21L183.57 574.71L183.57 621.22L183.81 567.55L183.81 630.31L184.05 574.7L184.05 622.1L184.29 573.07L184.29 621L184.53 569.59L184.53 625.06L184.77 570.2L184.77 619.37L185.01 572.09L185.01 625.89L185.25 562.64L185.25 618.52L185.49 572.97L185.49 618.99L185.73 571.33L185.73 636.17L185.97 568.54L185.97 619.08L186.21 570.6L186.21 628.31L186.45 571.06L186.45 618.52L186.69 573.47L186.69 619.29L186.93 572.04L186.93 621.79L187.17 573.55L187.17 623.62L187.41 569.68L187.41 624.82L187.65 573.67L187.65 619.86L187.89 572.96L187.89 618.91L188.13 569.52L188.13 626.31L188.37 559.29L188.37 618.62L188.61 573.97L188.61 618.54L188.85 568.42L188.85 618.96L189.09 573.67L189.09 624.57L189.33 568.12L189.33 628.23L189.57 569.07L189.57 624.04L189.81 573.13L189.81 621.66L190.05 570.13L190.05 621.16L190.29 575.07L190.29 623.47L190.53 573.6L190.53 643L190.77 567.86L190.77 619.52L191 571.81L191 618.57L191.24 572.05L191.24 675.93L191.48 570.77L191.48 624.98L191.72 570.6L191.72 622.59L191.96 571.76L191.96 625.25L192.2 563.37L192.2 618.53L192.44 574.75L192.44 627.32L192.68 574.25L192.68 619.85L192.92 574.24L192.92 627.88L193.16 573.27L193.16 622.05L193.4 565.35L193.4 621.46L193.64 573.87L193.64 625.64L193.88 573.13L193.88 622.46L194.12 573.73L194.12 623.18L194.36 571.78L194.36 618.71L194.6 566.32L194.6 622.18L194.84 567.37L194.84 619.66L195.08 573.69L195.08 618.55L195.32 574.39L195.32 618.65L195.56 567.45L195.56 620.72L195.8 572.7L195.8 619.1L196.04 570.5L196.04 624.67L196.28 575.03L196.28 618.62L196.52 561.44L196.52 618.52L196.76 574.13L196.76 646.62L197 572.7L197 619.38L197.24 574.7L197.24 621.03L197.48 573.36L197.48 618.87L197.72 550.35L197.72 618.87L197.96 568.4L197.96 642.69L198.2 572.89L198.2 625.11L198.44 569.33L198.44 618.52L198.68 573.04L198.68 626.01L198.92 573.72L198.92 629.36L199.16 572.18L199.16 621.6L199.4 560.36L199.4 619.69L199.64 574.1L199.64 628.67L199.88 570.21L199.88 618.78L200.12 569.29L200.12 619.44L200.36 575.05L200.36 626.3L200.6 551.12L200.6 618.52L200.84 568.57L200.84 625.04L201.08 573.15L201.08 623.07L201.32 575.04L201.32 645.41L201.56 570.53L201.56 618.55L201.8 574.49L201.8 624.15L202.04 571.05L202.04 623.15L202.28 573.7L202.28 619.38L202.52 560.23L202.52 626.49L202.76 574.43L202.76 618.87L203 572.87L203 638.58L203.24 572.4L203.24 618.61L203.48 571.2L203.48 622.75L203.72 574.68L203.72 618.57L203.96 566.06L203.96 618.77L204.2 574.27L204.2 624.69L204.44 560.06L204.44 620.93L204.68 574.44L204.68 622.99L204.92 575.04L204.92 624.13L205.16 573.34L205.16 622.2L205.39 569.27L205.39 633.63L205.63 570.17L205.63 623.55L205.87 574.71L205.87 618.61L206.11 574.9L206.11 619.14L206.35 574.07L206.35 620.41L206.59 569.33L206.59 618.61L206.83 558.34L206.83 618.6L207.07 566.77L207.07 622.84L207.31 570.88L207.31 624.26L207.55 571.32L207.55 619.76L207.79 569.33L207.79 627.89L208.03 569.59L208.03 618.86L208.27 563.8L208.27 621.16L208.51 574.44L208.51 621.86L208.75 573.21L208.75 628.04L208.99 572.75L208.99 618.53L209.23 574.89L209.23 627.49L209.47 573.18L209.47 705.84L209.71 571.09L209.71 619.59L209.95 574.9L209.95 623.99L210.19 574.9L210.19 625.77L210.43 574.79L210.43 622.83L210.67 574.3L210.67 619.24L210.91 566.06L210.91 622.43L211.15 550.61L211.15 626.82L211.39 574.75L211.39 618.6L211.63 574.82L211.63 620.72L211.87 572.89L211.87 618.52L212.11 575.08L212.11 649.64L212.35 573.03L212.35 624.9L212.59 574.82L212.59 618.53L212.83 574.37L212.83 641.79L213.07 568.96L213.07 623.44L213.31 574.75L213.31 618.63L213.55 571.37L213.55 621.2L213.79 559.5L213.79 623.4L214.03 573.38L214.03 619.52L214.27 568.57L214.27 620.97L214.51 574.83L214.51 629.02L214.75 566.76L214.75 708.56L214.99 567.3L214.99 620.95L215.23 570.73L215.23 618.54L215.47 575.06L215.47 618.62L215.71 570.79L215.71 626.28L215.95 560.58L215.95 624.27L216.19 569.27L216.19 625.97L216.43 574.64L216.43 621.83L216.67 566.22L216.67 629.7L216.91 567.42L216.91 621.26L217.15 574.95L217.15 624.15L217.39 574.11L217.39 619.48L217.63 575.07L217.63 620.89L217.87 568.35L217.87 620.62L218.11 566.92L218.11 622.98L218.35 565.53L218.35 627.89L218.59 571.43L218.59 618.52L218.83 567.88L218.83 618.57L219.07 570.59L219.07 618.77L219.31 571.91L219.31 626.41L219.55 566.24L219.55 623.84L219.78 571.48L219.78 624.4L220.02 573.98L220.02 620.37L220.26 566.59L220.26 618.59L220.5 575.08L220.5 623.36L220.74 569.97L220.74 626.53L220.98 570.39L220.98 621.03L221.22 573.35L221.22 622.55L221.46 568.01L221.46 619.79L221.7 569.52L221.7 618.69L221.94 573.98L221.94 622.48L222.18 575.02L222.18 620.77L222.42 574.91L222.42 619.59L222.66 574.75L222.66 619.08L222.9 574.18L222.9 653.27L223.14 573.13L223.14 619.41L223.38 566.68L223.38 621.81L223.62 574.33L223.62 619.09L223.86 567.21L223.86 644.2L224.1 570.57L224.1 619.8L224.34 567.98L224.34 620.7L224.58 573.5L224.58 627.91L224.82 551.89L224.82 623.87L225.06 569.04L225.06 624.17L225.3 574.49L225.3 619.54L225.54 574.88L225.54 626.07L225.78 568.85L225.78 619.88L226.02 570.49L226.02 629.31L226.26 544.76L226.26 627.22L226.5 574.38L226.5 622.94L226.74 566.48L226.74 625.9L226.98 574.38L226.98 621.42L227.22 570.27L227.22 624.11L227.46 560.58L227.46 618.63L227.7 568.6L227.7 629.32L227.94 574.95L227.94 625.3L228.18 572.48L228.18 618.67L228.42 575.07L228.42 619.01L228.66 572.13L228.66 628.8L228.9 568.09L228.9 624.62L229.14 575.01L229.14 618.68L229.38 574.35L229.38 628.66L229.62 569.38L229.62 619.59L229.86 571.48L229.86 638.16L230.1 564.36L230.1 624.44L230.34 571.22L230.34 620.78L230.58 573.06L230.58 619.71L230.82 567.83L230.82 618.58L231.06 574.24L231.06 618.57L231.3 569.48L231.3 622.52L231.54 571.14L231.54 624.81L231.78 569.74L231.78 627.47L232.02 562.51L232.02 619.72L232.26 569.96L232.26 628.13L232.5 570.32L232.5 633.63L232.74 573.62L232.74 628.18L232.98 575.07L232.98 627.71L233.22 561.44L233.22 660.82L233.46 570.12L233.46 626.48L233.7 574.67L233.7 623.63L233.94 569.87L233.94 623.61L234.18 574.32L234.18 626.07L234.41 572.93L234.41 621.33L234.65 567.87L234.65 621L234.89 573.12L234.89 625.47L235.13 574.27L235.13 626.57L235.37 574.17L235.37 627.33L235.61 575.02L235.61 618.71L235.85 574.61L235.85 624.79L236.09 559.93L236.09 619.17L236.33 574.79L236.33 618.78L236.57 575.04L236.57 618.83L236.81 572.97L236.81 621.77L237.05 574.63L237.05 623.66L237.29 569.76L237.29 619.01L237.53 566.78L237.53 618.58L237.77 574.35L237.77 619.45L238.01 571.89L238.01 624.82L238.25 572.58L238.25 618.52L238.49 575.03L238.49 620.75L238.73 574.93L238.73 622.15L238.97 567.45L238.97 618.53L239.21 572.89L239.21 633.02L239.45 568.77L239.45 627.44L239.69 575.04L239.69 629.46L239.93 571.63L239.93 626.27L240.17 558.77L240.17 618.74L240.41 567.75L240.41 624.65L240.65 575.08L240.65 620.44L240.89 572.43L240.89 618.74L241.13 573.75L241.13 627.59L241.37 566.16L241.37 627.8L241.61 575.03L241.61 626.82L241.85 574.4L241.85 619.92L242.09 568.64L242.09 618.54L242.33 572.93L242.33 627.32L242.57 573.08L242.57 629.26L242.81 565.93L242.81 621.05L243.05 574.08L243.05 618.93L243.29 575.06L243.29 638.58L243.53 564.79L243.53 623.51L243.77 574.85L243.77 620.74L244.01 575.02L244.01 619.63L244.25 571.94L244.25 619.03L244.49 566.21L244.49 619.28L244.73 571.81L244.73 618.53L244.97 564.36L244.97 628.31L245.21 574.06L245.21 628.49L245.45 571.9L245.45 618.52L245.69 569.56L245.69 624.02L245.93 571.69L245.93 625.09L246.17 568.8L246.17 620.03L246.41 572.13L246.41 645.41L246.65 574.7L246.65 618.92L246.89 571.77L246.89 623.08L247.13 572.73L247.13 623.7L247.37 574.81L247.37 624.14L247.61 564.44L247.61 620.84L247.85 568.57L247.85 628.89L248.09 574.9L248.09 626.6L248.33 572.19L248.33 621.76L248.57 569.83L248.57 623.3L248.8 573.5L248.8 619.16L249.04 574.37L249.04 628.27L249.28 562.21L249.28 672.6L249.52 572.22L249.52 627.19L249.76 570.48L249.76 619.24L250 572.03L250 629.17L250.24 574.97L250.24 618.59L250.48 568.56L250.48 621.26L250.72 566.76L250.72 618.6L250.96 574.98L250.96 650.25L251.2 574.47L251.2 624.65L251.44 574.79L251.44 618.54L251.68 568.05L251.68 619.85L251.92 567L251.92 618.81L252.16 564.79L252.16 626.27L252.4 574L252.4 618.56L252.64 574.72L252.64 619.53L252.88 572.93L252.88 642.69L253.12 566.8L253.12 623.37L253.36 575.03L253.36 623.62L253.6 574.79L253.6 629.38L253.84 572.77L253.84 618.52L254.08 572.4L254.08 623.03L254.32 569.66L254.32 632.72L254.56 573.21L254.56 624.37L254.8 555.42L254.8 623.8L255.04 573.86L255.04 618.55L255.28 565.68L255.28 618.56L255.52 569.59L255.52 624.8L255.76 574.95L255.76 622.27L256 568.71L256 619.1L256.24 574.14L256.24 618.52L256.48 569.13L256.48 630.31L256.72 575.08L256.72 618.57L256.96 550.48L256.96 624.37L257.2 574.82L257.2 619.55L257.44 573.06L257.44 625.44L257.68 570.81L257.68 618.58L257.92 572.57L257.92 620.86L258.16 574.81L258.16 618.59L258.4 574.89L258.4 624.94L258.64 574.29L258.64 621.61L258.88 565.95L258.88 618.97L259.12 574.62L259.12 628.71L259.36 574.92L259.36 643.6L259.6 572.97L259.6 619.52L259.84 573.84L259.84 626.37L260.08 571.72L260.08 619.83L260.32 574.31L260.32 628.24L260.56 575.07L260.56 619.28L260.8 574.01L260.8 629.22L261.04 569.52L261.04 646.8L261.28 553.48L261.28 624.14L261.52 573.49L261.52 619.25L261.76 569.52L261.76 620.19L262 573.47L262 622.61L262.24 567.41L262.24 618.53L262.48 566.86L262.48 635.14L262.72 574.14L262.72 618.59L262.96 569.8L262.96 624.22L263.19 562.64L263.19 618.92L263.43 574.89L263.43 651.15L263.67 573.21L263.67 619.47L263.91 562.64L263.91 651.15L264.15 566.55L264.15 628.08L264.39 574.87L264.39 621.01L264.63 570.13L264.63 622.82L264.87 572.88L264.87 623.64L265.11 574.91L265.11 625.7L265.35 565.86L265.35 619.1L265.59 570.36L265.59 618.56L265.83 574.92L265.83 628.49L266.07 567.08L266.07 618.74L266.31 556.79L266.31 618.52L266.55 575L266.55 627.73L266.79 574.01L266.79 622.48L267.03 566.5L267.03 620.11L267.27 575.07L267.27 618.65L267.51 566.86L267.51 624.6L267.75 571.43L267.75 621.29L267.99 575.04L267.99 639.67L268.23 571.93L268.23 629.17L268.47 566.38L268.47 628.43L268.71 571.98L268.71 627.9L268.95 569.78L268.95 625.8L269.19 570.59L269.19 621.28L269.43 565.38L269.43 619.3L269.67 574.84L269.67 622.84L269.91 568.64L269.91 618.69L270.15 573.43L270.15 665.05L270.39 560.23L270.39 618.54L270.63 567.33L270.63 618.52L270.87 565.49L270.87 623.82L271.11 574.39L271.11 619.57L271.35 573.08L271.35 623.53L271.59 566.41L271.59 624.93L271.83 566.36L271.83 625.97L272.07 573.73L272.07 622.33L272.31 566.46L272.31 626.2L272.55 573.47L272.55 622.94L272.79 573.71L272.79 629.7L273.03 569.5L273.03 627.24L273.27 572.92L273.27 618.53L273.51 573.12L273.51 619.13L273.75 573.63L273.75 619.9L273.99 563.93L273.99 619.05L274.23 574.89L274.23 626.38L274.47 575.04L274.47 626.74L274.71 569.54L274.71 618.52L274.95 571.97L274.95 618.78L275.19 570.68L275.19 624.58L275.43 568.8L275.43 618.93L275.67 564.53L275.67 649.04L275.91 574.55L275.91 628.82L276.15 574.33L276.15 624.62L276.39 574.18L276.39 620.42L276.63 569.44L276.63 618.65L276.87 555.93L276.87 619.13L277.11 574.06L277.11 638.46L277.35 571.13L277.35 625.13L277.58 574.74L277.58 618.55L277.82 574.97L277.82 623.68L278.06 570.34L278.06 619.8L278.3 569.5L278.3 623.89L278.54 560.36L278.54 619.27L278.78 571.14L278.78 618.64L279.02 575.07L279.02 630.31L279.26 573.49L279.26 619.27L279.5 571.82L279.5 626.47L279.74 574.45L279.74 627.12L279.98 573.9L279.98 623.31L280.22 571.46L280.22 624.36L280.46 571.69L280.46 618.82L280.7 574.85L280.7 619.65L280.94 570.21L280.94 627.29L281.18 575.02L281.18 629.26L281.42 565.91L281.42 620.36L281.66 574.68L281.66 624.86L281.9 574.45L281.9 628.04L282.14 557.05L282.14 695.87L282.38 565.5L282.38 619.28L282.62 574.28L282.62 622.87L282.86 571.51L282.86 619.91L283.1 565.51L283.1 620.57L283.34 566.28L283.34 620.54L283.58 575.06L283.58 619.18L283.82 572.43L283.82 618.52L284.06 571.56L284.06 624.69L284.3 570.27L284.3 670.19L284.54 573.98L284.54 626.08L284.78 574.03L284.78 618.69L285.02 575.08L285.02 618.98L285.26 575.07L285.26 622.07L285.5 572.13L285.5 628.11L285.74 575.02L285.74 620.64L285.98 574.68L285.98 618.84L286.22 574L286.22 622.05L286.46 575.03L286.46 640.88L286.7 575.07L286.7 626.63L286.94 553.79L286.94 627.28L287.18 573.23L287.18 620.08L287.42 574.67L287.42 619.1L287.66 570.19L287.66 626.68L287.9 575.08L287.9 625.08L288.14 574.5L288.14 626.29L288.38 566.08L288.38 637.13L288.62 567.22L288.62 619.22L288.86 564.87L288.86 619L289.1 575L289.1 626.68L289.34 574.09L289.34 627.73L289.58 575.07L289.58 619.74L289.82 574.61L289.82 626.77L290.06 575.07L290.06 619.84L290.3 574.93L290.3 631.21L290.54 571.17L290.54 621.69L290.78 574.98L290.78 618.92L291.02 574.84L291.02 619.12L291.26 567.13L291.26 619.12L291.5 573.98L291.5 635.32L291.74 574L291.74 621.09L291.97 575.01L291.97 618.59L292.21 568.9L292.21 624.94L292.45 570.62L292.45 618.75L292.69 572.16L292.69 620.37L292.93 562.21L292.93 622.69L293.17 574.98L293.17 618.66L293.41 574.42L293.41 620.07L293.65 571.76L293.65 660.1L293.89 566.24L293.89 621.49L294.13 568.57L294.13 627.14L294.37 571.08L294.37 625.02L294.61 554.22L294.61 618.62L294.85 575.08L294.85 625.93L295.09 567.35L295.09 621.49L295.33 575.04L295.33 623.23L295.57 574.92L295.57 651.76L295.81 570.4L295.81 620.64L296.05 568.65L296.05 623.57L296.29 569.05L296.29 625.25L296.53 573.09L296.53 625.41L296.77 574.78L296.77 618.9L297.01 575.07L297.01 625.92L297.25 568.01L297.25 621.71L297.49 565.76L297.49 623.09L297.73 574.5L297.73 626.3L297.97 560.06L297.97 620.04L298.21 573.5L298.21 627.73L298.45 574.14L298.45 626.91L298.69 572.59L298.69 625.44L298.93 575.08L298.93 629.4L299.17 573.17L299.17 621.24L299.41 574.69L299.41 618.75L299.65 570.13L299.65 624.56L299.89 572.62L299.89 627.11L300.13 564.44L300.13 618.71L300.37 567.24L300.37 624.31L300.61 574.1L300.61 623.48L300.85 574.31L300.85 618.52L301.09 566.48L301.09 627.67L301.33 572.6L301.33 620.71L301.57 562.72L301.57 627.28L301.81 575.06L301.81 618.52L302.05 565.52L302.05 624.96L302.29 571.81L302.29 619.53L302.53 575.05L302.53 621.07L302.77 572.53L302.77 618.82L303.01 572.6L303.01 622.21L303.25 573.23L303.25 619.97L303.49 566.26L303.49 625.42L303.73 566.3L303.73 634.54L303.97 574.93L303.97 623.92L304.21 552.93L304.21 619.05L304.45 573.46L304.45 618.54L304.69 568.3L304.69 626.88L304.93 571.29L304.93 628.09L305.17 569.89L305.17 622.72L305.41 571.85L305.41 627.78L305.65 574.65L305.65 623.67L305.89 568.56L305.89 622.19L306.13 560.79L306.13 643.18L306.36 570.32L306.36 619.66L306.6 574.71L306.6 620.82L306.84 572.92L306.84 618.92L307.08 565.81L307.08 620.23L307.32 572.25L307.32 621.01L307.56 561.65L307.56 618.52L307.8 573.29L307.8 619.94L308.04 570.83L308.04 619.21L308.28 575.05L308.28 622.58L308.52 574.46L308.52 625.52L308.76 575.08L308.76 639.19L309 568.23L309 623.02L309.24 573.66L309.24 622.3L309.48 572.61L309.48 619.07L309.72 574.23L309.72 619.81L309.96 570.87L309.96 626.15L310.2 574.79L310.2 637.25L310.44 567.07L310.44 618.77L310.68 546.74L310.68 618.52L310.92 572.71L310.92 628.68L311.16 572.97L311.16 633.63L311.4 567.88L311.4 622.22L311.64 574.26L311.64 625.62L311.88 568.79L311.88 622.04L312.12 574.28L312.12 627.41L312.36 570.03L312.36 619.01L312.6 560.58L312.6 620.37L312.84 571.54L312.84 623.12L313.08 566.72L313.08 618.89L313.32 575.05L313.32 623.81L313.56 568.73L313.56 619.1L313.8 572.22L313.8 623.73L314.04 573.68L314.04 639.79L314.28 573.88L314.28 620.2L314.52 575.03L314.52 629.36L314.76 574.43L314.76 622.54L315 571.29L315 624.51L315.24 574.99L315.24 634.54L315.48 570.71L315.48 618.61L315.72 560.58L315.72 623.76L315.96 565.7L315.96 628.26L316.2 567.37L316.2 622.5L316.44 568.74L316.44 627.58L316.68 574.77L316.68 640.76L316.92 565.9L316.92 627.13L317.16 568.31L317.16 626.82L317.4 567.72L317.4 622.51L317.64 567.57L317.64 620.24L317.88 571.31L317.88 623.65L318.12 572.43L318.12 619.01L318.36 574.69L318.36 623.07L318.6 572.45L318.6 623.48L318.84 574.26L318.84 640.4L319.08 574.93L319.08 619.09L319.32 574.92L319.32 618.52L319.56 568.82L319.56 618.82L319.8 566.78L319.8 625.94L320.04 574.88L320.04 618.88L320.28 563.5L320.28 618.55L320.52 574.4L320.52 619.03L320.75 574.9L320.75 621.14L320.99 574.73L320.99 621.94L321.23 571.76L321.23 626.82L321.47 573.34L321.47 626.36L321.71 564.87L321.71 631.51L321.95 574.67L321.95 626.97L322.19 570.77L322.19 620.43L322.43 574.26L322.43 618.67L322.67 573.53L322.67 628.55L322.91 561.44L322.91 618.95L323.15 567.11L323.15 622.42L323.39 574.49L323.39 669.28L323.63 570.04L323.63 625.62L323.87 574.15L323.87 618.84L324.11 567.28L324.11 648.74L324.35 573.57L324.35 618.91L324.59 572.59L324.59 626.48L324.83 558.94L324.83 622.38L325.07 570.67L325.07 622.54L325.31 574.99L325.31 619.39L325.55 574.9L325.55 618.76L325.79 565.51L325.79 626.41L326.03 575.07L326.03 624.65L326.27 566.94L326.27 624.13L326.51 566.12L326.51 629.53L326.75 575.08L326.75 621.6L326.99 574.83L326.99 642.09L327.23 574.64L327.23 622.24L327.47 575.01L327.47 619.23L327.71 572.91L327.71 621.07L327.95 571.66L327.95 620.52L328.19 574.09L328.19 621.65L328.43 574.97L328.43 627.77L328.67 568.67L328.67 625.49L328.91 568.77L328.91 620.12L329.15 572L329.15 625.63L329.39 574.9L329.39 662.94L329.63 572.22L329.63 624.82L329.87 571.22L329.87 621.51L330.11 559.37L330.11 627.29L330.35 567.8L330.35 620.84L330.59 573.6L330.59 632.3L330.83 572.54L330.83 619.15L331.07 574.95L331.07 622.92L331.31 571.98L331.31 619.83L331.55 550.61L331.55 620.18L331.79 569.87L331.79 620.01L332.03 574.44L332.03 618.81L332.27 565.49L332.27 618.58L332.51 570.03L332.51 618.53L332.75 573.33L332.75 623.14L332.99 573.4L332.99 640.4L333.23 569.16L333.23 620.49L333.47 574.78L333.47 628.08L333.71 571.09L333.71 622.48L333.95 570.04L333.95 625.5L334.19 572.48L334.19 624.61L334.43 567.65L334.43 628.5L334.67 572.94L334.67 690.73L334.91 572.97L334.91 619.87L335.14 574.29L335.14 628.4L335.38 560.79L335.38 620.57L335.62 574.11L335.62 628.36L335.86 570.37L335.86 618.79L336.1 573.45L336.1 618.54L336.34 566.55L336.34 627.21L336.58 566.32L336.58 620.08L336.82 561.99L336.82 640.76L337.06 565.44L337.06 628.1L337.3 571.51L337.3 618.91L337.54 575.03L337.54 628.84L337.78 572.67L337.78 619.96L338.02 564.87L338.02 619.03L338.26 572.14L338.26 618.97L338.5 574.75L338.5 621.13L338.74 573.76L338.74 620.59L338.98 574.18L338.98 627.01L339.22 554.77L339.22 641.97L339.46 568.49L339.46 618.53L339.7 566.53L339.7 618.69L339.94 574.03L339.94 622.19L340.18 571.92L340.18 624.95L340.42 575.08L340.42 620.72L340.66 573.73L340.66 622.3L340.9 566.08L340.9 642.81L341.14 574.94L341.14 618.52L341.38 567.7L341.38 619.02L341.62 570.93L341.62 629.54L341.86 560.92L341.86 619.49L342.1 569.18L342.1 628.34L342.34 574.26L342.34 620.85L342.58 567.27L342.58 618.92L342.82 575.01L342.82 636.95L343.06 567.37L343.06 618.9L343.3 569.6L343.3 619.43L343.54 573.11L343.54 620.33L343.78 574.87L343.78 620.4L344.02 572.51L344.02 621.47L344.26 574.22L344.26 706.44L344.5 572.14L344.5 618.52L344.74 564.87L344.74 619.12L344.98 567.92L344.98 628.69L345.22 575.05L345.22 618.52L345.46 571.66L345.46 624.13L345.7 565.65L345.7 620.68L345.94 573.02L345.94 623.68L346.18 569.31L346.18 619.5L346.42 574.99L346.42 619.76L346.66 567.64L346.66 621.11L346.9 571.78L346.9 627.51L347.14 565.3L347.14 619.47L347.38 569.04L347.38 636.95L347.62 567.71L347.62 618.52L347.86 575.05L347.86 626.91L348.1 570.09L348.1 619.38L348.34 574.7L348.34 618.62L348.58 574.39L348.58 622.07L348.82 574.05L348.82 626.16L349.06 571.67L349.06 630.49L349.3 571.24L349.3 618.69L349.54 566.62L349.54 620.04L349.77 575.08L349.77 619.12L350.01 574.72L350.01 618.52L350.25 573.8L350.25 633.33L350.49 568.56L350.49 620.52L350.73 572.13L350.73 618.65L350.97 572.52L350.97 626.98L351.21 569.45L351.21 629.24L351.45 570.9L351.45 625.6L351.69 574.26L351.69 632.12L351.93 575.01L351.93 618.8L352.17 573L352.17 621.2L352.41 567.53L352.41 621.9L352.65 549.06L352.65 626.85L352.89 575.05L352.89 628.81L353.13 573.19L353.13 627.53L353.37 573.64L353.37 619.56L353.61 571.77L353.61 621.93L353.85 571.72L353.85 684.39L354.09 563.67L354.09 621.13L354.33 573.97L354.33 618.55L354.57 573.46L354.57 635.74L354.81 571.41L354.81 618.62L355.05 567.42L355.05 619.31L355.29 570.22L355.29 619.36L355.53 572.92L355.53 623.65L355.77 568.61L355.77 618.55L356.01 572.78L356.01 630L356.25 566.03L356.25 622.9L356.49 554.04L356.49 623.15L356.73 574.92L356.73 623.74L356.97 568.36L356.97 623.9L357.21 558.43L357.21 623L357.45 568.08L357.45 621.52L357.69 571.46L357.69 646.62L357.93 572.56L357.93 618.56L358.17 575.01L358.17 618.88L358.41 569.05L358.41 624.25L358.65 566.25L358.65 618.81L358.89 566L358.89 621.27L359.13 567.58L359.13 619.09L359.37 574.19L359.37 669.58L359.61 574.92L359.61 625.95L359.85 567.43L359.85 622.97L360.09 572.84L360.09 620.38L360.33 574.93L360.33 619.16L360.57 572.66L360.57 625.39L360.81 574.49L360.81 622.91L361.05 560.15L361.05 633.02L361.29 571.08L361.29 626.66L361.53 566.91L361.53 623.45L361.77 568.83L361.77 629.13L362.01 574.83L362.01 623.02L362.25 572.86L362.25 627.3L362.49 572.72L362.49 630.91L362.73 565.53L362.73 623.73L362.97 575.01L362.97 626.11L363.21 560.36L363.21 618.57L363.45 566.93L363.45 637.13L363.69 573.53L363.69 622.19L363.93 574.41L363.93 618.54L364.16 572.07L364.16 625.1L364.4 574.08L364.4 623.82L364.64 566.7L364.64 648.13L364.88 575.01L364.88 619.77L365.12 574.66L365.12 620.61L365.36 575.01L365.36 627.56L365.6 560.79L365.6 637.86L365.84 574.24L365.84 625.95L366.08 567.18L366.08 620.17L366.32 567.29L366.32 619.53L366.56 566.53L366.56 619.17L366.8 574.44L366.8 618.89L367.04 571.41L367.04 629.88L367.28 573.62L367.28 618.72L367.52 566.05L367.52 625.83L367.76 569.39L367.76 628.98L368 575.05L368 618.58L368.24 570.27L368.24 618.53L368.48 566.88L368.48 618.52L368.72 565.95L368.72 628.01L368.96 570.08L368.96 618.55L369.2 567.82L369.2 623.26L369.44 568.17L369.44 628.49L369.68 573.83L369.68 618.83L369.92 574.99L369.92 619.02L370.16 569.92L370.16 623.41L370.4 552.75L370.4 618.52L370.64 573.64L370.64 626.57L370.88 565.41L370.88 621.71L371.12 572.03L371.12 618.98L371.36 572.43L371.36 634.72L371.6 566.32L371.6 622.88L371.84 574.29L371.84 622.52L372.08 565.34L372.08 619.41L372.32 566.97L372.32 619.51L372.56 573.79L372.56 620.56L372.8 564.23L372.8 672.3L373.04 574.92L373.04 621.35L373.28 566.91L373.28 626.07L373.52 574.74L373.52 622.68L373.76 575.08L373.76 621.64L374 567.36L374 620.82L374.24 571.59L374.24 623.27L374.48 561.65L374.48 620.84L374.72 569.84L374.72 665.35L374.96 575.06L374.96 618.78L375.2 575L375.2 619.43L375.44 572.64L375.44 626.74L375.68 562.51L375.68 619.95L375.92 572.6L375.92 626.13L376.16 569.79L376.16 628.14L376.4 570.87L376.4 621.84L376.64 571.37L376.64 618.59L376.88 575.06L376.88 624.52L377.12 574.53L377.12 623.04L377.36 567.23L377.36 637.86L377.6 574.93L377.6 626.53L377.84 572.31L377.84 620.75L378.08 575.06L378.08 618.54L378.32 566.48L378.32 618.55L378.55 574.79L378.55 618.95L378.79 573.44L378.79 622.25L379.03 572.17L379.03 691.94L379.27 563.07L379.27 618.58L379.51 566.51L379.51 618.52L379.75 569.79L379.75 622.42L379.99 573.9L379.99 620.07L380.23 575.03L380.23 620.35L380.47 570.2L380.47 625.69L380.71 565.86L380.71 627.72L380.95 575.08L380.95 628.81L381.19 569.23L381.19 624.91L381.43 562.38L381.43 618.52L381.67 573.02L381.67 618.69L381.91 572.42L381.91 632.12L382.15 571.4L382.15 628.54L382.39 565.53L382.39 618.56L382.63 549.83L382.63 621.09L382.87 573.58L382.87 619.96L383.11 570.1L383.11 620.05L383.35 572.96L383.35 619.13L383.59 573.42L383.59 639.07L383.83 573.78L383.83 618.99L384.07 568.31L384.07 618.59L384.31 574.31L384.31 621.54L384.55 574.51L384.55 620.39L384.79 574.87L384.79 623.78L385.03 573.19L385.03 681.49L385.27 574.24L385.27 628.48L385.51 568.25L385.51 619.55L385.75 568.07L385.75 626.93L385.99 573.93L385.99 619.87L386.23 552.32L386.23 664.14L386.47 567.14L386.47 625.39L386.71 573.82L386.71 619.97L386.95 572.08L386.95 620.39L387.19 573.16L387.19 622.54L387.43 570.96L387.43 618.6L387.67 566.1L387.67 632.42L387.91 574.89L387.91 618.58L388.15 565.99L388.15 618.93L388.39 570.76L388.39 622.43L388.63 568.9L388.63 628.93L388.87 571.15L388.87 629.58L389.11 567.7L389.11 636.95L389.35 565.52L389.35 618.68L389.59 570.19L389.59 621.13L389.83 574.4L389.83 620.35L390.07 572.56L390.07 630.31L390.31 570.55L390.31 624.72L390.55 574.69L390.55 623.73L390.79 575.04L390.79 621.63L391.03 559.93L391.03 622.41L391.27 568.7L391.27 621.88L391.51 570.76L391.51 623.21L391.75 574.07L391.75 627.91L391.99 558.77L391.99 640.88L392.23 575.01L392.23 629.1L392.47 570.8L392.47 626.46L392.71 571.84L392.71 618.59L392.94 565.73L392.94 620.44L393.18 573.13L393.18 674.72L393.42 574.59L393.42 619.27L393.66 569.94L393.66 622.21L393.9 572.98L393.9 650.25L394.14 569.66L394.14 618.85L394.38 573.79L394.38 619.99L394.62 575.01L394.62 618.55L394.86 572.21L394.86 620.2L395.1 566.25L395.1 618.95L395.34 566.8L395.34 626.5L395.58 567.4L395.58 619.41L395.82 575.05L395.82 619.84L396.06 569.27L396.06 639.37L396.3 574.41L396.3 621.61L396.54 570.34L396.54 618.53L396.78 565.52L396.78 634.23L397.02 574.07L397.02 622.26L397.26 572.76L397.26 618.83L397.5 572.34L397.5 619.03L397.74 570.38L397.74 622.43L397.98 571.11L397.98 620.87L398.22 570.6L398.22 619.13L398.46 573.64L398.46 637.74L398.7 570.61L398.7 622.58L398.94 555.85L398.94 618.52L399.18 571.48L399.18 619.16L399.42 573.02L399.42 619.34L399.66 571.99L399.66 626.85L399.9 575.08L399.9 630.31L400.14 572.66L400.14 619.6L400.38 574.61L400.38 618.82L400.62 573.63L400.62 623.49L400.86 575.03L400.86 625.51L401.1 570.87L401.1 628.19L401.34 567.3L401.34 626.53L401.58 567.37L401.58 623.51L401.82 574.97L401.82 618.9L402.06 571.33L402.06 627.65L402.3 574.92L402.3 619.26L402.54 567.33L402.54 625.08L402.78 574.93L402.78 618.55L403.02 573.8L403.02 620.49L403.26 572.7L403.26 620.99L403.5 574.95L403.5 632.12L403.74 574.09L403.74 626L403.98 574.34L403.98 621.45L404.22 570.12L404.22 618.53L404.46 565.6L404.46 620.25L404.7 573.8L404.7 630L404.94 561.01L404.94 629.49L405.18 574.89L405.18 623.27L405.42 571.8L405.42 620.03L405.66 573.26L405.66 619.72L405.9 574.27L405.9 624.71L406.14 568.5L406.14 618.58L406.38 569.65L406.38 625.62L406.62 574.91L406.62 623.66L406.86 574.25L406.86 620.29L407.1 568.53L407.1 623.74L407.33 565.48L407.33 619.97L407.57 566.16L407.57 618.67L407.81 567.67L407.81 620.13L408.05 565.64L408.05 618.53L408.29 569.73L408.29 628.8L408.53 571.03L408.53 620.33L408.77 574.6L408.77 625.77L409.01 573.74L409.01 618.85L409.25 571.29L409.25 652.06L409.49 566.71L409.49 629.09L409.73 574.19L409.73 625.82L409.97 567.24L409.97 627.35L410.21 575.08L410.21 638.46L410.45 570.35L410.45 621.97L410.69 573.16L410.69 621.88L410.93 568.88L410.93 622.13L411.17 574.55L411.17 620.57L411.41 570.84L411.41 619.69L411.65 570.66L411.65 618.99L411.89 572.98L411.89 618.54L412.13 574.73L412.13 643.9L412.37 573.5L412.37 624.75L412.61 569.67L412.61 621.52L412.85 574.73L412.85 618.72L413.09 575L413.09 625.57L413.33 566.59L413.33 618.53L413.57 574.54L413.57 627.99L413.81 568.83L413.81 622.84L414.05 568.57L414.05 621.56L414.29 566.37L414.29 620.1L414.53 564.87L414.53 625.77L414.77 570.99L414.77 642.39L415.01 574.74L415.01 618.52L415.25 568.48L415.25 621.15L415.49 569.91L415.49 619.28L415.73 569.64L415.73 620L415.97 570.34L415.97 621.33L416.21 568.36L416.21 632.12L416.45 574.22L416.45 629.19L416.69 570.67L416.69 623.22L416.93 572.47L416.93 618.58L417.17 573.97L417.17 624.21L417.41 556.49L417.41 621.29L417.65 574.85L417.65 639.67L417.89 572.73L417.89 624.19L418.13 573.76L418.13 629.39L418.37 573.35L418.37 618.62L418.61 568.01L418.61 629.5L418.85 570.55L418.85 620.69L419.09 570.57L419.09 618.84L419.33 565.64L419.33 619.79L419.57 574.62L419.57 619.72L419.81 572.57L419.81 627.2L420.05 575L420.05 621.19L420.29 570.12L420.29 618.54L420.53 566.27L420.53 623.81L420.77 575.01L420.77 620.9L421.01 569.48L421.01 633.02L421.25 567.78L421.25 618.53L421.49 572.56L421.49 626.57L421.72 568.88L421.72 627.15L421.96 573.18L421.96 618.52L422.2 573.86L422.2 620.69L422.44 569.17L422.44 618.62L422.68 574.71L422.68 621.25L422.92 574.16L422.92 618.57L423.16 574.17L423.16 630.91L423.4 565.56L423.4 618.78L423.64 573.99L423.64 623.08L423.88 574.57L423.88 622.86L424.12 566.47L424.12 619.42L424.36 574.89L424.36 618.89L424.6 565.73L424.6 627.63L424.84 567.98L424.84 618.52L425.08 571L425.08 638.16L425.32 573.3L425.32 619.46L425.56 574.7L425.56 621.91L425.8 574.97L425.8 619.75L426.04 574.98L426.04 618.6L426.28 573.89L426.28 632.12L426.52 573.46L426.52 623.96L426.76 566.76L426.76 623.65L427 572.28L427 620.82L427.24 565.51L427.24 619.34L427.48 570.01L427.48 618.52L427.72 554.22L427.72 621.29L427.96 572.09L427.96 635.44L428.2 574.83L428.2 620.35L428.44 575.07L428.44 628.63L428.68 566.4L428.68 618.84L428.92 573.97L428.92 625.56L429.16 574.73L429.16 623.87L429.4 574.98L429.4 638.16L429.64 570.93L429.64 627.84L429.88 560.58L429.88 618.98L430.12 575.08L430.12 627.78L430.36 570.09L430.36 620.02L430.6 574.44L430.6 623.24L430.84 569.14L430.84 628.48L431.08 572.75L431.08 648.61L431.32 572.28L431.32 621.9L431.56 573.04L431.56 618.55L431.8 561.22L431.8 622.07L432.04 565.52L432.04 645.41L432.28 568.87L432.28 619.9L432.52 575.03L432.52 619.82L432.76 572.69L432.76 628.96L433 574.55L433 622.64L433.24 574.98L433.24 623.98L433.48 574.71L433.48 618.75L433.72 574.48L433.72 619.32L433.96 566.1L433.96 626.83L434.2 569.67L434.2 618.62L434.44 567.99L434.44 628.49L434.68 570.32L434.68 629.4L434.92 574.11L434.92 619.91L435.16 564.1L435.16 621.09L435.4 573.19L435.4 620.37L435.64 574.24L435.64 620.63L435.88 573.35L435.88 620.19L436.11 569.28L436.11 623.6L436.35 575.03L436.35 619.17L436.59 574.34L436.59 647.83L436.83 572.84L436.83 620.29L437.07 570.62L437.07 618.57L437.31 564.23L437.31 620.4L437.55 569.96L437.55 620.87L437.79 574.97L437.79 625.01L438.03 574.76L438.03 618.6L438.27 574.15L438.27 619.97L438.51 574.31L438.51 624.94L438.75 569.51L438.75 631.82L438.99 565.46L438.99 625.99L439.23 570.53L439.23 623.87L439.47 575.07L439.47 618.53L439.71 574.22L439.71 619.87L439.95 568.79L439.95 624.69L440.19 566.75L440.19 621.22L440.43 571.63L440.43 623.15L440.67 565.82L440.67 634.35L440.91 573.85L440.91 623.19L441.15 571.17L441.15 621.44L441.39 567.8L441.39 626.19L441.63 573.95L441.63 620.25L441.87 574.73L441.87 627.89L442.11 575.08L442.11 619.15L442.35 574.9L442.35 622.05L442.59 568.02L442.59 628.37L442.83 571.28L442.83 622.21L443.07 565.51L443.07 619.21L443.31 575.03L443.31 662.33L443.55 559.63L443.55 619.99L443.79 568.91L443.79 618.94L444.03 570.82L444.03 621.52L444.27 575.04L444.27 619.58L444.51 573.51L444.51 618.6L444.75 571.12L444.75 630.31L444.99 570.47L444.99 623.44L445.23 573.09L445.23 628.93L445.47 560.23L445.47 618.66L445.64 565.98L445.64 627.53" clip-path="url(#pad9e19218d)" style="fill: none; stroke: #ff0000; stroke-opacity: 0.7; stroke-linecap: square"/>
</g>
<g id="line2d_147">
<path d="M59.16 597.8L464.04 597.8" clip-path="url(#pad9e19218d)" style="fill: none; stroke: #000000; stroke-opacity: 0.3; stroke-width: 1.5; stroke-linecap: square"/>
</g>
<g id="patch_76">
<path d="M59.16 717.24L59.16 536.28" style="fill: none; stroke: #000000; stroke-width: 0.8; stroke-linejoin: miter; stroke-linecap: square"/>
</g>
<g id="patch_77">
<path d="M464.04 717.24L464.04 536.28" style="fill: none; stroke: #000000; stroke-width: 0.8; stroke-linejoin: miter; stroke-linecap: square"/>
</g>
<g id="patch_78">
<path d="M59.16 717.24L464.04 717.24" style="fill: none; stroke: #000000; stroke-width: 0.8; stroke-linejoin: miter; stroke-linecap: square"/>
</g>
<g id="patch_79">
<path d="M59.16 536.28L464.04 536.28" style="fill: none; stroke: #000000; stroke-width: 0.8; stroke-linejoin: miter; stroke-linecap: square"/>
</g>
</g>
<g id="axes_6">
</g>
</g>
<defs>
<clipPath id="p51600fcce8">
<rect x="59.16" y="57.7" width="404.88" height="180.96"/>
</clipPath>
<clipPath id="p4031424f6c">
<rect x="660.84" y="57.7" width="405.12" height="180.96"/>
</clipPath>
<clipPath id="p6686218dbd">
<rect x="59.16" y="297" width="404.88" height="180.96"/>
</clipPath>
<clipPath id="p095fc12e16">
<rect x="660.84" y="297" width="405.12" height="180.96"/>
</clipPath>
<clipPath id="pad9e19218d">
<rect x="59.16" y="536.28" width="404.88" height="180.96"/>
</clipPath>
</defs>
<g transform="scale(0.24)" fill="#000">
<text class="s" x="309.9" y="1056.6" textLength="26.5" lengthAdjust="spacingAndGlyphs">0</text>
<text class="s" x="552.3" y="1056.6" textLength="53.0" lengthAdjust="spacingAndGlyphs">50</text>
<text class="s" x="794.6" y="1056.6" textLength="79.5" lengthAdjust="spacingAndGlyphs">100</text>
<text class="s" x="1050.2" y="1056.6" textLength="79.5" lengthAdjust="spacingAndGlyphs">150</text>
<text class="s" x="1305.9" y="1056.6" textLength="79.5" lengthAdjust="spacingAndGlyphs">200</text>
<text class="s" x="1561.5" y="1056.6" textLength="79.5" lengthAdjust="spacingAndGlyphs">250</text>
<text class="s" x="1817.0" y="1056.6" textLength="79.5" lengthAdjust="spacingAndGlyphs">300</text>
<text class="s" x="979.5" y="1115.2" textLength="221.4" lengthAdjust="spacingAndGlyphs">Tiempo (s)</text>
<text class="s" x="124.6" y="928.3" textLength="92.8" lengthAdjust="spacingAndGlyphs">2.80</text>
<text class="s" x="124.7" y="835.9" textLength="92.8" lengthAdjust="spacingAndGlyphs">2.82</text>
<text class="s" x="124.6" y="743.6" textLength="92.8" lengthAdjust="spacingAndGlyphs">2.84</text>
<text class="s" x="124.6" y="651.3" textLength="92.8" lengthAdjust="spacingAndGlyphs">2.86</text>
<text class="s" x="124.5" y="558.9" textLength="92.8" lengthAdjust="spacingAndGlyphs">2.88</text>
<text class="s" x="124.8" y="466.6" textLength="92.8" lengthAdjust="spacingAndGlyphs">2.90</text>
<text class="s" x="125.0" y="374.2" textLength="92.8" lengthAdjust="spacingAndGlyphs">2.92</text>
<text class="s" x="124.8" y="281.9" textLength="92.8" lengthAdjust="spacingAndGlyphs">2.94</text>
<text class="s" x="98.8" y="703.1" textLength="171.5" lengthAdjust="spacingAndGlyphs" transform="rotate(-90 98.8 703.1)">Luz6 (V)</text>
<text class="s" x="775.1" y="215.4" style="font-size:52.50px" textLength="629.3" lengthAdjust="spacingAndGlyphs">Serie Temporal Completa</text>
<text class="s" x="400.7" y="947.9" textLength="300.2" lengthAdjust="spacingAndGlyphs">Media: 2.890V</text>
<text class="s" x="2892.1" y="1056.6" textLength="92.8" lengthAdjust="spacingAndGlyphs">2.80</text>
<text class="s" x="3098.9" y="1056.6" textLength="92.8" lengthAdjust="spacingAndGlyphs">2.82</text>
<text class="s" x="3305.6" y="1056.6" textLength="92.8" lengthAdjust="spacingAndGlyphs">2.84</text>
<text class="s" x="3512.3" y="1056.6" textLength="92.8" lengthAdjust="spacingAndGlyphs">2.86</text>
<text class="s" x="3718.9" y="1056.6" textLength="92.8" lengthAdjust="spacingAndGlyphs">2.88</text>
<text class="s" x="3925.8" y="1056.6" textLength="92.8" lengthAdjust="spacingAndGlyphs">2.90</text>
<text class="s" x="4132.6" y="1056.6" textLength="92.8" lengthAdjust="spacingAndGlyphs">2.92</text>
<text class="s" x="4339.3" y="1056.6" textLength="92.8" lengthAdjust="spacingAndGlyphs">2.94</text>
<text class="s" x="3511.8" y="1115.2" textLength="171.5" lengthAdjust="spacingAndGlyphs">Luz6 (V)</text>
<text class="s" x="2697.8" y="1010.9" textLength="26.5" lengthAdjust="spacingAndGlyphs">0</text>
<text class="s" x="2671.3" y="877.0" textLength="53.0" lengthAdjust="spacingAndGlyphs">10</text>
<text class="s" x="2671.5" y="743.0" textLength="53.0" lengthAdjust="spacingAndGlyphs">20</text>
<text class="s" x="2671.2" y="609.1" textLength="53.0" lengthAdjust="spacingAndGlyphs">30</text>
<text class="s" x="2671.3" y="475.1" textLength="53.0" lengthAdjust="spacingAndGlyphs">40</text>
<text class="s" x="2671.3" y="341.2" textLength="53.0" lengthAdjust="spacingAndGlyphs">50</text>
<text class="s" x="2645.5" y="715.2" textLength="195.8" lengthAdjust="spacingAndGlyphs" transform="rotate(-90 2645.5 715.2)">Densidad</text>
<text class="s" x="3309.3" y="215.4" style="font-size:52.50px" textLength="575.6" lengthAdjust="spacingAndGlyphs">Distribución de Valores</text>
<text class="s" x="4052.1" y="310.9" textLength="300.2" lengthAdjust="spacingAndGlyphs">Media: 2.890V</text>
<text class="s" x="4052.1" y="373.7" textLength="352.2" lengthAdjust="spacingAndGlyphs">Mediana: 2.889V</text>
<text class="s" x="1076.8" y="2053.7" textLength="26.5" lengthAdjust="spacingAndGlyphs">1</text>
<text class="s" x="124.6" y="1925.4" textLength="92.8" lengthAdjust="spacingAndGlyphs">2.80</text>
<text class="s" x="124.7" y="1833.0" textLength="92.8" lengthAdjust="spacingAndGlyphs">2.82</text>
<text class="s" x="124.6" y="1740.7" textLength="92.8" lengthAdjust="spacingAndGlyphs">2.84</text>
<text class="s" x="124.6" y="1648.4" textLength="92.8" lengthAdjust="spacingAndGlyphs">2.86</text>
<text class="s" x="124.5" y="1556.0" textLength="92.8" lengthAdjust="spacingAndGlyphs">2.88</text>
<text class="s" x="124.8" y="1463.7" textLength="92.8" lengthAdjust="spacingAndGlyphs">2.90</text>
<text class="s" x="125.0" y="1371.3" textLength="92.8" lengthAdjust="spacingAndGlyphs">2.92</text>
<text class="s" x="124.8" y="1279.0" textLength="92.8" lengthAdjust="spacingAndGlyphs">2.94</text>
<text class="s" x="98.8" y="1700.2" textLength="171.5" lengthAdjust="spacingAndGlyphs" transform="rotate(-90 98.8 1700.2)">Luz6 (V)</text>
<text class="m" x="2192.4" y="1541.3" textLength="248.3" lengthAdjust="spacingAndGlyphs">Mín: 2.789V</text>
<text class="m" x="2192.4" y="1582.9" textLength="225.8" lengthAdjust="spacingAndGlyphs">Q1: 2.885V</text>
<text class="m" x="2192.4" y="1624.5" textLength="338.7" lengthAdjust="spacingAndGlyphs">Mediana: 2.889V</text>
<text class="m" x="2192.4" y="1666.1" textLength="225.8" lengthAdjust="spacingAndGlyphs">Q3: 2.895V</text>
<text class="m" x="2192.4" y="1707.7" textLength="248.3" lengthAdjust="spacingAndGlyphs">Máx: 2.938V</text>
<text class="s" x="865.1" y="1212.5" style="font-size:52.50px" textLength="449.7" lengthAdjust="spacingAndGlyphs">Diagrama de Caja</text>
<text class="s" x="2817.0" y="2053.7" textLength="26.5" lengthAdjust="spacingAndGlyphs">0</text>
<text class="s" x="3113.8" y="2053.7" textLength="53.0" lengthAdjust="spacingAndGlyphs">20</text>
<text class="s" x="3423.7" y="2053.7" textLength="53.0" lengthAdjust="spacingAndGlyphs">40</text>
<text class="s" x="3733.8" y="2053.7" textLength="53.0" lengthAdjust="spacingAndGlyphs">60</text>
<text class="s" x="4043.7" y="2053.7" textLength="53.0" lengthAdjust="spacingAndGlyphs">80</text>
<text class="s" x="4340.5" y="2053.7" textLength="79.5" lengthAdjust="spacingAndGlyphs">100</text>
<text class="s" x="3439.6" y="2112.3" textLength="316.0" lengthAdjust="spacingAndGlyphs">Lag (muestras)</text>
<text class="s" x="2623.3" y="1983.9" textLength="101.2" lengthAdjust="spacingAndGlyphs">−0.2</text>
<text class="s" x="2658.1" y="1867.9" textLength="66.3" lengthAdjust="spacingAndGlyphs">0.0</text>
<text class="s" x="2658.2" y="1752.0" textLength="66.3" lengthAdjust="spacingAndGlyphs">0.2</text>
<text class="s" x="2658.1" y="1636.1" textLength="66.3" lengthAdjust="spacingAndGlyphs">0.4</text>
<text class="s" x="2658.1" y="1520.1" textLength="66.3" lengthAdjust="spacingAndGlyphs">0.6</text>
<text class="s" x="2658.0" y="1404.2" textLength="66.3" lengthAdjust="spacingAndGlyphs">0.8</text>
<text class="s" x="2658.1" y="1288.3" textLength="66.3" lengthAdjust="spacingAndGlyphs">1.0</text>
<text class="s" x="2597.7" y="1777.6" textLength="326.9" lengthAdjust="spacingAndGlyphs" transform="rotate(-90 2597.7 1777.6)">Autocorrelación</text>
<text class="s" x="3147.9" y="1212.5" style="font-size:52.50px" textLength="898.4" lengthAdjust="spacingAndGlyphs">Autocorrelación (primeros 100 lags)</text>
<text class="s" x="309.9" y="3050.7" textLength="26.5" lengthAdjust="spacingAndGlyphs">0</text>
<text class="s" x="552.3" y="3050.7" textLength="53.0" lengthAdjust="spacingAndGlyphs">50</text>
<text class="s" x="794.6" y="3050.7" textLength="79.5" lengthAdjust="spacingAndGlyphs">100</text>
<text class="s" x="1050.2" y="3050.7" textLength="79.5" lengthAdjust="spacingAndGlyphs">150</text>
<text class="s" x="1305.9" y="3050.7" textLength="79.5" lengthAdjust="spacingAndGlyphs">200</text>
<text class="s" x="1561.5" y="3050.7" textLength="79.5" lengthAdjust="spacingAndGlyphs">250</text>
<text class="s" x="1817.0" y="3050.7" textLength="79.5" lengthAdjust="spacingAndGlyphs">300</text>
<text class="s" x="979.5" y="3109.3" textLength="221.4" lengthAdjust="spacingAndGlyphs">Tiempo (s)</text>
<text class="s" x="89.7" y="2969.0" textLength="127.7" lengthAdjust="spacingAndGlyphs">−0.10</text>
<text class="s" x="89.6" y="2876.7" textLength="127.7" lengthAdjust="spacingAndGlyphs">−0.08</text>
<text class="s" x="89.7" y="2784.3" textLength="127.7" lengthAdjust="spacingAndGlyphs">−0.06</text>
<text class="s" x="89.7" y="2692.0" textLength="127.7" lengthAdjust="spacingAndGlyphs">−0.04</text>
<text class="s" x="89.8" y="2599.7" textLength="127.7" lengthAdjust="spacingAndGlyphs">−0.02</text>
<text class="s" x="124.6" y="2507.3" textLength="92.8" lengthAdjust="spacingAndGlyphs">0.00</text>
<text class="s" x="124.7" y="2415.0" textLength="92.8" lengthAdjust="spacingAndGlyphs">0.02</text>
<text class="s" x="124.6" y="2322.6" textLength="92.8" lengthAdjust="spacingAndGlyphs">0.04</text>
<text class="s" x="63.9" y="2736.5" textLength="250.2" lengthAdjust="spacingAndGlyphs" transform="rotate(-90 63.9 2736.5)">Residual (V)</text>
<text class="s" x="710.0" y="2209.5" style="font-size:52.50px" textLength="759.6" lengthAdjust="spacingAndGlyphs">Residuales (datos - tendencia)</text>
<text class="m" x="2928.2" y="2341.8" textLength="587.0" lengthAdjust="spacingAndGlyphs">RESUMEN DE MÉTRICAS - Luz6</text>
<text class="m" x="2928.2" y="2425.0" textLength="474.1" lengthAdjust="spacingAndGlyphs">Estadísticas Básicas:</text>
<text class="m" x="2928.2" y="2466.6" textLength="406.4" lengthAdjust="spacingAndGlyphs">• Muestras: 150000</text>
<text class="m" x="2928.2" y="2508.2" textLength="361.2" lengthAdjust="spacingAndGlyphs">• Media: 2.890 V</text>
<text class="m" x="2928.2" y="2549.8" textLength="406.4" lengthAdjust="spacingAndGlyphs">• Mediana: 2.889 V</text>
<text class="m" x="2928.2" y="2591.4" textLength="383.8" lengthAdjust="spacingAndGlyphs">• Mínimo: 2.789 V</text>
<text class="m" x="2928.2" y="2633.0" textLength="383.8" lengthAdjust="spacingAndGlyphs">• Máximo: 2.938 V</text>
<text class="m" x="2928.2" y="2674.6" textLength="361.2" lengthAdjust="spacingAndGlyphs">• Rango: 0.148 V</text>
<text class="m" x="2928.2" y="2757.8" textLength="180.6" lengthAdjust="spacingAndGlyphs">Calidad:</text>
<text class="m" x="2928.2" y="2799.4" textLength="564.4" lengthAdjust="spacingAndGlyphs">• Calidad general: 9.9/10</text>
<text class="m" x="2928.2" y="2841.0" textLength="474.1" lengthAdjust="spacingAndGlyphs">• Ruido RMS: 0.0084 V</text>
<text class="m" x="2928.2" y="2882.6" textLength="316.1" lengthAdjust="spacingAndGlyphs">• SNR: 50.7 dB</text>
<text class="m" x="2928.2" y="2924.2" textLength="519.3" lengthAdjust="spacingAndGlyphs">• Coef. variación: 0.3%</text>
<text class="m" x="2928.2" y="3007.4" textLength="270.9" lengthAdjust="spacingAndGlyphs">Estabilidad:</text>
<text class="m" x="2928.2" y="3049.0" textLength="677.3" lengthAdjust="spacingAndGlyphs">• Tendencia: -0.000 mV/muestra</text>
<text class="m" x="2928.2" y="3090.6" textLength="609.6" lengthAdjust="spacingAndGlyphs">• Valores fuera de rango: 0</text>
<text class="m" x="2928.2" y="3173.8" textLength="248.3" lengthAdjust="spacingAndGlyphs">Validación:</text>
<text class="m" x="2928.2" y="3215.4" textLength="316.1" lengthAdjust="spacingAndGlyphs">• Válido: True</text>
<text class="m" x="2928.2" y="3259.4" textLength="948.2" lengthAdjust="spacingAndGlyphs">• Razón: Valores dentro de rango aceptable</text>
<text class="m" x="2928.2" y="3342.6" textLength="361.2" lengthAdjust="spacingAndGlyphs">RECOMENDACIONES:</text>
<text class="m" x="2928.2" y="3384.2" textLength="429.0" lengthAdjust="spacingAndGlyphs">• Calidad aceptable</text>
<text class="m" x="2837.9" y="3425.8" textLength="338.7" lengthAdjust="spacingAndGlyphs">• SNR aceptable</text>
<text class="b" x="1592.9" y="75.0" textLength="1283.0" lengthAdjust="spacingAndGlyphs">ANÁLISIS DETALLADO - 12medcolor.csv</text>
<text class="b" x="1627.9" y="141.0" textLength="1213.7" lengthAdjust="spacingAndGlyphs">Columna: Luz6 | Tipo: DESCONOCIDO</text>
</g>
</svg>
</body></html>
